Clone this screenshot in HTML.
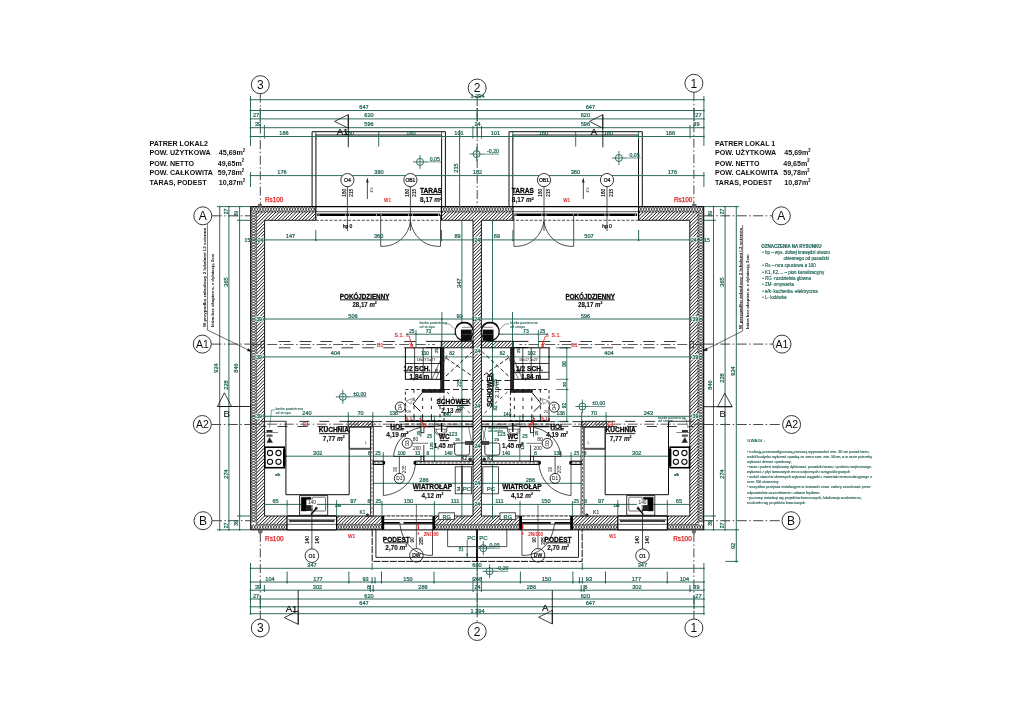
<!DOCTYPE html>
<html><head><meta charset="utf-8"><title>Rzut parteru</title>
<style>
html,body{margin:0;padding:0;background:#fff;}
body{width:1024px;height:716px;overflow:hidden;font-family:"Liberation Sans",sans-serif;}
svg{display:block;}
svg text{font-family:"Liberation Sans",sans-serif;}
</style></head><body>
<svg width="1024" height="716" viewBox="0 0 1024 716">
<defs>
<pattern id="mas" width="3.4" height="3.4" patternUnits="userSpaceOnUse">
<rect width="3.4" height="3.4" fill="#fff"/>
<path d="M-0.85,0.85 L0.85,-0.85 M0,3.4 L3.4,0 M2.55,4.25 L4.25,2.55" stroke="#000" stroke-width="1.25"/>
</pattern>
<pattern id="ins" width="2.7" height="2.7" patternUnits="userSpaceOnUse" patternTransform="translate(250.7 206.6)">
<rect width="2.7" height="2.7" fill="#000"/>
<path d="M1.35,0.2 L2.5,1.35 L1.35,2.5 L0.2,1.35 Z" fill="#fff"/>
</pattern>
<filter id="soft" x="0" y="0" width="1024" height="716" filterUnits="userSpaceOnUse"><feGaussianBlur stdDeviation="0.38"/></filter>
</defs>
<g filter="url(#soft)">
<clipPath id="cins"><path d="M250.7,206.6 H703.7 V529.8 H250.7 Z M256.4,212.0 V524.4 H698.0 V212.0 Z" clip-rule="evenodd"/></clipPath>
<path clip-path="url(#cins)" d="M250.70,206.6L253.40,212.0M253.40,206.6L250.70,212.0M253.40,206.6L256.10,212.0M256.10,206.6L253.40,212.0M256.10,206.6L258.80,212.0M258.80,206.6L256.10,212.0M258.80,206.6L261.50,212.0M261.50,206.6L258.80,212.0M261.50,206.6L264.20,212.0M264.20,206.6L261.50,212.0M264.20,206.6L266.90,212.0M266.90,206.6L264.20,212.0M266.90,206.6L269.60,212.0M269.60,206.6L266.90,212.0M269.60,206.6L272.30,212.0M272.30,206.6L269.60,212.0M272.30,206.6L275.00,212.0M275.00,206.6L272.30,212.0M275.00,206.6L277.70,212.0M277.70,206.6L275.00,212.0M277.70,206.6L280.40,212.0M280.40,206.6L277.70,212.0M280.40,206.6L283.10,212.0M283.10,206.6L280.40,212.0M283.10,206.6L285.80,212.0M285.80,206.6L283.10,212.0M285.80,206.6L288.50,212.0M288.50,206.6L285.80,212.0M288.50,206.6L291.20,212.0M291.20,206.6L288.50,212.0M291.20,206.6L293.90,212.0M293.90,206.6L291.20,212.0M293.90,206.6L296.60,212.0M296.60,206.6L293.90,212.0M296.60,206.6L299.30,212.0M299.30,206.6L296.60,212.0M299.30,206.6L302.00,212.0M302.00,206.6L299.30,212.0M302.00,206.6L304.70,212.0M304.70,206.6L302.00,212.0M304.70,206.6L307.40,212.0M307.40,206.6L304.70,212.0M307.40,206.6L310.10,212.0M310.10,206.6L307.40,212.0M310.10,206.6L312.80,212.0M312.80,206.6L310.10,212.0M312.80,206.6L315.50,212.0M315.50,206.6L312.80,212.0M315.50,206.6L318.20,212.0M318.20,206.6L315.50,212.0M318.20,206.6L320.90,212.0M320.90,206.6L318.20,212.0M320.90,206.6L323.60,212.0M323.60,206.6L320.90,212.0M323.60,206.6L326.30,212.0M326.30,206.6L323.60,212.0M326.30,206.6L329.00,212.0M329.00,206.6L326.30,212.0M329.00,206.6L331.70,212.0M331.70,206.6L329.00,212.0M331.70,206.6L334.40,212.0M334.40,206.6L331.70,212.0M334.40,206.6L337.10,212.0M337.10,206.6L334.40,212.0M337.10,206.6L339.80,212.0M339.80,206.6L337.10,212.0M339.80,206.6L342.50,212.0M342.50,206.6L339.80,212.0M342.50,206.6L345.20,212.0M345.20,206.6L342.50,212.0M345.20,206.6L347.90,212.0M347.90,206.6L345.20,212.0M347.90,206.6L350.60,212.0M350.60,206.6L347.90,212.0M350.60,206.6L353.30,212.0M353.30,206.6L350.60,212.0M353.30,206.6L356.00,212.0M356.00,206.6L353.30,212.0M356.00,206.6L358.70,212.0M358.70,206.6L356.00,212.0M358.70,206.6L361.40,212.0M361.40,206.6L358.70,212.0M361.40,206.6L364.10,212.0M364.10,206.6L361.40,212.0M364.10,206.6L366.80,212.0M366.80,206.6L364.10,212.0M366.80,206.6L369.50,212.0M369.50,206.6L366.80,212.0M369.50,206.6L372.20,212.0M372.20,206.6L369.50,212.0M372.20,206.6L374.90,212.0M374.90,206.6L372.20,212.0M374.90,206.6L377.60,212.0M377.60,206.6L374.90,212.0M377.60,206.6L380.30,212.0M380.30,206.6L377.60,212.0M380.30,206.6L383.00,212.0M383.00,206.6L380.30,212.0M383.00,206.6L385.70,212.0M385.70,206.6L383.00,212.0M385.70,206.6L388.40,212.0M388.40,206.6L385.70,212.0M388.40,206.6L391.10,212.0M391.10,206.6L388.40,212.0M391.10,206.6L393.80,212.0M393.80,206.6L391.10,212.0M393.80,206.6L396.50,212.0M396.50,206.6L393.80,212.0M396.50,206.6L399.20,212.0M399.20,206.6L396.50,212.0M399.20,206.6L401.90,212.0M401.90,206.6L399.20,212.0M401.90,206.6L404.60,212.0M404.60,206.6L401.90,212.0M404.60,206.6L407.30,212.0M407.30,206.6L404.60,212.0M407.30,206.6L410.00,212.0M410.00,206.6L407.30,212.0M410.00,206.6L412.70,212.0M412.70,206.6L410.00,212.0M412.70,206.6L415.40,212.0M415.40,206.6L412.70,212.0M415.40,206.6L418.10,212.0M418.10,206.6L415.40,212.0M418.10,206.6L420.80,212.0M420.80,206.6L418.10,212.0M420.80,206.6L423.50,212.0M423.50,206.6L420.80,212.0M423.50,206.6L426.20,212.0M426.20,206.6L423.50,212.0M426.20,206.6L428.90,212.0M428.90,206.6L426.20,212.0M428.90,206.6L431.60,212.0M431.60,206.6L428.90,212.0M431.60,206.6L434.30,212.0M434.30,206.6L431.60,212.0M434.30,206.6L437.00,212.0M437.00,206.6L434.30,212.0M437.00,206.6L439.70,212.0M439.70,206.6L437.00,212.0M439.70,206.6L442.40,212.0M442.40,206.6L439.70,212.0M442.40,206.6L445.10,212.0M445.10,206.6L442.40,212.0M445.10,206.6L447.80,212.0M447.80,206.6L445.10,212.0M447.80,206.6L450.50,212.0M450.50,206.6L447.80,212.0M450.50,206.6L453.20,212.0M453.20,206.6L450.50,212.0M453.20,206.6L455.90,212.0M455.90,206.6L453.20,212.0M455.90,206.6L458.60,212.0M458.60,206.6L455.90,212.0M458.60,206.6L461.30,212.0M461.30,206.6L458.60,212.0M461.30,206.6L464.00,212.0M464.00,206.6L461.30,212.0M464.00,206.6L466.70,212.0M466.70,206.6L464.00,212.0M466.70,206.6L469.40,212.0M469.40,206.6L466.70,212.0M469.40,206.6L472.10,212.0M472.10,206.6L469.40,212.0M472.10,206.6L474.80,212.0M474.80,206.6L472.10,212.0M474.80,206.6L477.50,212.0M477.50,206.6L474.80,212.0M477.50,206.6L480.20,212.0M480.20,206.6L477.50,212.0M480.20,206.6L482.90,212.0M482.90,206.6L480.20,212.0M482.90,206.6L485.60,212.0M485.60,206.6L482.90,212.0M485.60,206.6L488.30,212.0M488.30,206.6L485.60,212.0M488.30,206.6L491.00,212.0M491.00,206.6L488.30,212.0M491.00,206.6L493.70,212.0M493.70,206.6L491.00,212.0M493.70,206.6L496.40,212.0M496.40,206.6L493.70,212.0M496.40,206.6L499.10,212.0M499.10,206.6L496.40,212.0M499.10,206.6L501.80,212.0M501.80,206.6L499.10,212.0M501.80,206.6L504.50,212.0M504.50,206.6L501.80,212.0M504.50,206.6L507.20,212.0M507.20,206.6L504.50,212.0M507.20,206.6L509.90,212.0M509.90,206.6L507.20,212.0M509.90,206.6L512.60,212.0M512.60,206.6L509.90,212.0M512.60,206.6L515.30,212.0M515.30,206.6L512.60,212.0M515.30,206.6L518.00,212.0M518.00,206.6L515.30,212.0M518.00,206.6L520.70,212.0M520.70,206.6L518.00,212.0M520.70,206.6L523.40,212.0M523.40,206.6L520.70,212.0M523.40,206.6L526.10,212.0M526.10,206.6L523.40,212.0M526.10,206.6L528.80,212.0M528.80,206.6L526.10,212.0M528.80,206.6L531.50,212.0M531.50,206.6L528.80,212.0M531.50,206.6L534.20,212.0M534.20,206.6L531.50,212.0M534.20,206.6L536.90,212.0M536.90,206.6L534.20,212.0M536.90,206.6L539.60,212.0M539.60,206.6L536.90,212.0M539.60,206.6L542.30,212.0M542.30,206.6L539.60,212.0M542.30,206.6L545.00,212.0M545.00,206.6L542.30,212.0M545.00,206.6L547.70,212.0M547.70,206.6L545.00,212.0M547.70,206.6L550.40,212.0M550.40,206.6L547.70,212.0M550.40,206.6L553.10,212.0M553.10,206.6L550.40,212.0M553.10,206.6L555.80,212.0M555.80,206.6L553.10,212.0M555.80,206.6L558.50,212.0M558.50,206.6L555.80,212.0M558.50,206.6L561.20,212.0M561.20,206.6L558.50,212.0M561.20,206.6L563.90,212.0M563.90,206.6L561.20,212.0M563.90,206.6L566.60,212.0M566.60,206.6L563.90,212.0M566.60,206.6L569.30,212.0M569.30,206.6L566.60,212.0M569.30,206.6L572.00,212.0M572.00,206.6L569.30,212.0M572.00,206.6L574.70,212.0M574.70,206.6L572.00,212.0M574.70,206.6L577.40,212.0M577.40,206.6L574.70,212.0M577.40,206.6L580.10,212.0M580.10,206.6L577.40,212.0M580.10,206.6L582.80,212.0M582.80,206.6L580.10,212.0M582.80,206.6L585.50,212.0M585.50,206.6L582.80,212.0M585.50,206.6L588.20,212.0M588.20,206.6L585.50,212.0M588.20,206.6L590.90,212.0M590.90,206.6L588.20,212.0M590.90,206.6L593.60,212.0M593.60,206.6L590.90,212.0M593.60,206.6L596.30,212.0M596.30,206.6L593.60,212.0M596.30,206.6L599.00,212.0M599.00,206.6L596.30,212.0M599.00,206.6L601.70,212.0M601.70,206.6L599.00,212.0M601.70,206.6L604.40,212.0M604.40,206.6L601.70,212.0M604.40,206.6L607.10,212.0M607.10,206.6L604.40,212.0M607.10,206.6L609.80,212.0M609.80,206.6L607.10,212.0M609.80,206.6L612.50,212.0M612.50,206.6L609.80,212.0M612.50,206.6L615.20,212.0M615.20,206.6L612.50,212.0M615.20,206.6L617.90,212.0M617.90,206.6L615.20,212.0M617.90,206.6L620.60,212.0M620.60,206.6L617.90,212.0M620.60,206.6L623.30,212.0M623.30,206.6L620.60,212.0M623.30,206.6L626.00,212.0M626.00,206.6L623.30,212.0M626.00,206.6L628.70,212.0M628.70,206.6L626.00,212.0M628.70,206.6L631.40,212.0M631.40,206.6L628.70,212.0M631.40,206.6L634.10,212.0M634.10,206.6L631.40,212.0M634.10,206.6L636.80,212.0M636.80,206.6L634.10,212.0M636.80,206.6L639.50,212.0M639.50,206.6L636.80,212.0M639.50,206.6L642.20,212.0M642.20,206.6L639.50,212.0M642.20,206.6L644.90,212.0M644.90,206.6L642.20,212.0M644.90,206.6L647.60,212.0M647.60,206.6L644.90,212.0M647.60,206.6L650.30,212.0M650.30,206.6L647.60,212.0M650.30,206.6L653.00,212.0M653.00,206.6L650.30,212.0M653.00,206.6L655.70,212.0M655.70,206.6L653.00,212.0M655.70,206.6L658.40,212.0M658.40,206.6L655.70,212.0M658.40,206.6L661.10,212.0M661.10,206.6L658.40,212.0M661.10,206.6L663.80,212.0M663.80,206.6L661.10,212.0M663.80,206.6L666.50,212.0M666.50,206.6L663.80,212.0M666.50,206.6L669.20,212.0M669.20,206.6L666.50,212.0M669.20,206.6L671.90,212.0M671.90,206.6L669.20,212.0M671.90,206.6L674.60,212.0M674.60,206.6L671.90,212.0M674.60,206.6L677.30,212.0M677.30,206.6L674.60,212.0M677.30,206.6L680.00,212.0M680.00,206.6L677.30,212.0M680.00,206.6L682.70,212.0M682.70,206.6L680.00,212.0M682.70,206.6L685.40,212.0M685.40,206.6L682.70,212.0M685.40,206.6L688.10,212.0M688.10,206.6L685.40,212.0M688.10,206.6L690.80,212.0M690.80,206.6L688.10,212.0M690.80,206.6L693.50,212.0M693.50,206.6L690.80,212.0M693.50,206.6L696.20,212.0M696.20,206.6L693.50,212.0M696.20,206.6L698.90,212.0M698.90,206.6L696.20,212.0M698.90,206.6L701.60,212.0M701.60,206.6L698.90,212.0M701.60,206.6L704.30,212.0M704.30,206.6L701.60,212.0M250.70,524.4L253.40,529.8M253.40,524.4L250.70,529.8M253.40,524.4L256.10,529.8M256.10,524.4L253.40,529.8M256.10,524.4L258.80,529.8M258.80,524.4L256.10,529.8M258.80,524.4L261.50,529.8M261.50,524.4L258.80,529.8M261.50,524.4L264.20,529.8M264.20,524.4L261.50,529.8M264.20,524.4L266.90,529.8M266.90,524.4L264.20,529.8M266.90,524.4L269.60,529.8M269.60,524.4L266.90,529.8M269.60,524.4L272.30,529.8M272.30,524.4L269.60,529.8M272.30,524.4L275.00,529.8M275.00,524.4L272.30,529.8M275.00,524.4L277.70,529.8M277.70,524.4L275.00,529.8M277.70,524.4L280.40,529.8M280.40,524.4L277.70,529.8M280.40,524.4L283.10,529.8M283.10,524.4L280.40,529.8M283.10,524.4L285.80,529.8M285.80,524.4L283.10,529.8M285.80,524.4L288.50,529.8M288.50,524.4L285.80,529.8M288.50,524.4L291.20,529.8M291.20,524.4L288.50,529.8M291.20,524.4L293.90,529.8M293.90,524.4L291.20,529.8M293.90,524.4L296.60,529.8M296.60,524.4L293.90,529.8M296.60,524.4L299.30,529.8M299.30,524.4L296.60,529.8M299.30,524.4L302.00,529.8M302.00,524.4L299.30,529.8M302.00,524.4L304.70,529.8M304.70,524.4L302.00,529.8M304.70,524.4L307.40,529.8M307.40,524.4L304.70,529.8M307.40,524.4L310.10,529.8M310.10,524.4L307.40,529.8M310.10,524.4L312.80,529.8M312.80,524.4L310.10,529.8M312.80,524.4L315.50,529.8M315.50,524.4L312.80,529.8M315.50,524.4L318.20,529.8M318.20,524.4L315.50,529.8M318.20,524.4L320.90,529.8M320.90,524.4L318.20,529.8M320.90,524.4L323.60,529.8M323.60,524.4L320.90,529.8M323.60,524.4L326.30,529.8M326.30,524.4L323.60,529.8M326.30,524.4L329.00,529.8M329.00,524.4L326.30,529.8M329.00,524.4L331.70,529.8M331.70,524.4L329.00,529.8M331.70,524.4L334.40,529.8M334.40,524.4L331.70,529.8M334.40,524.4L337.10,529.8M337.10,524.4L334.40,529.8M337.10,524.4L339.80,529.8M339.80,524.4L337.10,529.8M339.80,524.4L342.50,529.8M342.50,524.4L339.80,529.8M342.50,524.4L345.20,529.8M345.20,524.4L342.50,529.8M345.20,524.4L347.90,529.8M347.90,524.4L345.20,529.8M347.90,524.4L350.60,529.8M350.60,524.4L347.90,529.8M350.60,524.4L353.30,529.8M353.30,524.4L350.60,529.8M353.30,524.4L356.00,529.8M356.00,524.4L353.30,529.8M356.00,524.4L358.70,529.8M358.70,524.4L356.00,529.8M358.70,524.4L361.40,529.8M361.40,524.4L358.70,529.8M361.40,524.4L364.10,529.8M364.10,524.4L361.40,529.8M364.10,524.4L366.80,529.8M366.80,524.4L364.10,529.8M366.80,524.4L369.50,529.8M369.50,524.4L366.80,529.8M369.50,524.4L372.20,529.8M372.20,524.4L369.50,529.8M372.20,524.4L374.90,529.8M374.90,524.4L372.20,529.8M374.90,524.4L377.60,529.8M377.60,524.4L374.90,529.8M377.60,524.4L380.30,529.8M380.30,524.4L377.60,529.8M380.30,524.4L383.00,529.8M383.00,524.4L380.30,529.8M383.00,524.4L385.70,529.8M385.70,524.4L383.00,529.8M385.70,524.4L388.40,529.8M388.40,524.4L385.70,529.8M388.40,524.4L391.10,529.8M391.10,524.4L388.40,529.8M391.10,524.4L393.80,529.8M393.80,524.4L391.10,529.8M393.80,524.4L396.50,529.8M396.50,524.4L393.80,529.8M396.50,524.4L399.20,529.8M399.20,524.4L396.50,529.8M399.20,524.4L401.90,529.8M401.90,524.4L399.20,529.8M401.90,524.4L404.60,529.8M404.60,524.4L401.90,529.8M404.60,524.4L407.30,529.8M407.30,524.4L404.60,529.8M407.30,524.4L410.00,529.8M410.00,524.4L407.30,529.8M410.00,524.4L412.70,529.8M412.70,524.4L410.00,529.8M412.70,524.4L415.40,529.8M415.40,524.4L412.70,529.8M415.40,524.4L418.10,529.8M418.10,524.4L415.40,529.8M418.10,524.4L420.80,529.8M420.80,524.4L418.10,529.8M420.80,524.4L423.50,529.8M423.50,524.4L420.80,529.8M423.50,524.4L426.20,529.8M426.20,524.4L423.50,529.8M426.20,524.4L428.90,529.8M428.90,524.4L426.20,529.8M428.90,524.4L431.60,529.8M431.60,524.4L428.90,529.8M431.60,524.4L434.30,529.8M434.30,524.4L431.60,529.8M434.30,524.4L437.00,529.8M437.00,524.4L434.30,529.8M437.00,524.4L439.70,529.8M439.70,524.4L437.00,529.8M439.70,524.4L442.40,529.8M442.40,524.4L439.70,529.8M442.40,524.4L445.10,529.8M445.10,524.4L442.40,529.8M445.10,524.4L447.80,529.8M447.80,524.4L445.10,529.8M447.80,524.4L450.50,529.8M450.50,524.4L447.80,529.8M450.50,524.4L453.20,529.8M453.20,524.4L450.50,529.8M453.20,524.4L455.90,529.8M455.90,524.4L453.20,529.8M455.90,524.4L458.60,529.8M458.60,524.4L455.90,529.8M458.60,524.4L461.30,529.8M461.30,524.4L458.60,529.8M461.30,524.4L464.00,529.8M464.00,524.4L461.30,529.8M464.00,524.4L466.70,529.8M466.70,524.4L464.00,529.8M466.70,524.4L469.40,529.8M469.40,524.4L466.70,529.8M469.40,524.4L472.10,529.8M472.10,524.4L469.40,529.8M472.10,524.4L474.80,529.8M474.80,524.4L472.10,529.8M474.80,524.4L477.50,529.8M477.50,524.4L474.80,529.8M477.50,524.4L480.20,529.8M480.20,524.4L477.50,529.8M480.20,524.4L482.90,529.8M482.90,524.4L480.20,529.8M482.90,524.4L485.60,529.8M485.60,524.4L482.90,529.8M485.60,524.4L488.30,529.8M488.30,524.4L485.60,529.8M488.30,524.4L491.00,529.8M491.00,524.4L488.30,529.8M491.00,524.4L493.70,529.8M493.70,524.4L491.00,529.8M493.70,524.4L496.40,529.8M496.40,524.4L493.70,529.8M496.40,524.4L499.10,529.8M499.10,524.4L496.40,529.8M499.10,524.4L501.80,529.8M501.80,524.4L499.10,529.8M501.80,524.4L504.50,529.8M504.50,524.4L501.80,529.8M504.50,524.4L507.20,529.8M507.20,524.4L504.50,529.8M507.20,524.4L509.90,529.8M509.90,524.4L507.20,529.8M509.90,524.4L512.60,529.8M512.60,524.4L509.90,529.8M512.60,524.4L515.30,529.8M515.30,524.4L512.60,529.8M515.30,524.4L518.00,529.8M518.00,524.4L515.30,529.8M518.00,524.4L520.70,529.8M520.70,524.4L518.00,529.8M520.70,524.4L523.40,529.8M523.40,524.4L520.70,529.8M523.40,524.4L526.10,529.8M526.10,524.4L523.40,529.8M526.10,524.4L528.80,529.8M528.80,524.4L526.10,529.8M528.80,524.4L531.50,529.8M531.50,524.4L528.80,529.8M531.50,524.4L534.20,529.8M534.20,524.4L531.50,529.8M534.20,524.4L536.90,529.8M536.90,524.4L534.20,529.8M536.90,524.4L539.60,529.8M539.60,524.4L536.90,529.8M539.60,524.4L542.30,529.8M542.30,524.4L539.60,529.8M542.30,524.4L545.00,529.8M545.00,524.4L542.30,529.8M545.00,524.4L547.70,529.8M547.70,524.4L545.00,529.8M547.70,524.4L550.40,529.8M550.40,524.4L547.70,529.8M550.40,524.4L553.10,529.8M553.10,524.4L550.40,529.8M553.10,524.4L555.80,529.8M555.80,524.4L553.10,529.8M555.80,524.4L558.50,529.8M558.50,524.4L555.80,529.8M558.50,524.4L561.20,529.8M561.20,524.4L558.50,529.8M561.20,524.4L563.90,529.8M563.90,524.4L561.20,529.8M563.90,524.4L566.60,529.8M566.60,524.4L563.90,529.8M566.60,524.4L569.30,529.8M569.30,524.4L566.60,529.8M569.30,524.4L572.00,529.8M572.00,524.4L569.30,529.8M572.00,524.4L574.70,529.8M574.70,524.4L572.00,529.8M574.70,524.4L577.40,529.8M577.40,524.4L574.70,529.8M577.40,524.4L580.10,529.8M580.10,524.4L577.40,529.8M580.10,524.4L582.80,529.8M582.80,524.4L580.10,529.8M582.80,524.4L585.50,529.8M585.50,524.4L582.80,529.8M585.50,524.4L588.20,529.8M588.20,524.4L585.50,529.8M588.20,524.4L590.90,529.8M590.90,524.4L588.20,529.8M590.90,524.4L593.60,529.8M593.60,524.4L590.90,529.8M593.60,524.4L596.30,529.8M596.30,524.4L593.60,529.8M596.30,524.4L599.00,529.8M599.00,524.4L596.30,529.8M599.00,524.4L601.70,529.8M601.70,524.4L599.00,529.8M601.70,524.4L604.40,529.8M604.40,524.4L601.70,529.8M604.40,524.4L607.10,529.8M607.10,524.4L604.40,529.8M607.10,524.4L609.80,529.8M609.80,524.4L607.10,529.8M609.80,524.4L612.50,529.8M612.50,524.4L609.80,529.8M612.50,524.4L615.20,529.8M615.20,524.4L612.50,529.8M615.20,524.4L617.90,529.8M617.90,524.4L615.20,529.8M617.90,524.4L620.60,529.8M620.60,524.4L617.90,529.8M620.60,524.4L623.30,529.8M623.30,524.4L620.60,529.8M623.30,524.4L626.00,529.8M626.00,524.4L623.30,529.8M626.00,524.4L628.70,529.8M628.70,524.4L626.00,529.8M628.70,524.4L631.40,529.8M631.40,524.4L628.70,529.8M631.40,524.4L634.10,529.8M634.10,524.4L631.40,529.8M634.10,524.4L636.80,529.8M636.80,524.4L634.10,529.8M636.80,524.4L639.50,529.8M639.50,524.4L636.80,529.8M639.50,524.4L642.20,529.8M642.20,524.4L639.50,529.8M642.20,524.4L644.90,529.8M644.90,524.4L642.20,529.8M644.90,524.4L647.60,529.8M647.60,524.4L644.90,529.8M647.60,524.4L650.30,529.8M650.30,524.4L647.60,529.8M650.30,524.4L653.00,529.8M653.00,524.4L650.30,529.8M653.00,524.4L655.70,529.8M655.70,524.4L653.00,529.8M655.70,524.4L658.40,529.8M658.40,524.4L655.70,529.8M658.40,524.4L661.10,529.8M661.10,524.4L658.40,529.8M661.10,524.4L663.80,529.8M663.80,524.4L661.10,529.8M663.80,524.4L666.50,529.8M666.50,524.4L663.80,529.8M666.50,524.4L669.20,529.8M669.20,524.4L666.50,529.8M669.20,524.4L671.90,529.8M671.90,524.4L669.20,529.8M671.90,524.4L674.60,529.8M674.60,524.4L671.90,529.8M674.60,524.4L677.30,529.8M677.30,524.4L674.60,529.8M677.30,524.4L680.00,529.8M680.00,524.4L677.30,529.8M680.00,524.4L682.70,529.8M682.70,524.4L680.00,529.8M682.70,524.4L685.40,529.8M685.40,524.4L682.70,529.8M685.40,524.4L688.10,529.8M688.10,524.4L685.40,529.8M688.10,524.4L690.80,529.8M690.80,524.4L688.10,529.8M690.80,524.4L693.50,529.8M693.50,524.4L690.80,529.8M693.50,524.4L696.20,529.8M696.20,524.4L693.50,529.8M696.20,524.4L698.90,529.8M698.90,524.4L696.20,529.8M698.90,524.4L701.60,529.8M701.60,524.4L698.90,529.8M701.60,524.4L704.30,529.8M704.30,524.4L701.60,529.8M250.7,212.00L256.4,214.70M250.7,214.70L256.4,212.00M250.7,214.70L256.4,217.40M250.7,217.40L256.4,214.70M250.7,217.40L256.4,220.10M250.7,220.10L256.4,217.40M250.7,220.10L256.4,222.80M250.7,222.80L256.4,220.10M250.7,222.80L256.4,225.50M250.7,225.50L256.4,222.80M250.7,225.50L256.4,228.20M250.7,228.20L256.4,225.50M250.7,228.20L256.4,230.90M250.7,230.90L256.4,228.20M250.7,230.90L256.4,233.60M250.7,233.60L256.4,230.90M250.7,233.60L256.4,236.30M250.7,236.30L256.4,233.60M250.7,236.30L256.4,239.00M250.7,239.00L256.4,236.30M250.7,239.00L256.4,241.70M250.7,241.70L256.4,239.00M250.7,241.70L256.4,244.40M250.7,244.40L256.4,241.70M250.7,244.40L256.4,247.10M250.7,247.10L256.4,244.40M250.7,247.10L256.4,249.80M250.7,249.80L256.4,247.10M250.7,249.80L256.4,252.50M250.7,252.50L256.4,249.80M250.7,252.50L256.4,255.20M250.7,255.20L256.4,252.50M250.7,255.20L256.4,257.90M250.7,257.90L256.4,255.20M250.7,257.90L256.4,260.60M250.7,260.60L256.4,257.90M250.7,260.60L256.4,263.30M250.7,263.30L256.4,260.60M250.7,263.30L256.4,266.00M250.7,266.00L256.4,263.30M250.7,266.00L256.4,268.70M250.7,268.70L256.4,266.00M250.7,268.70L256.4,271.40M250.7,271.40L256.4,268.70M250.7,271.40L256.4,274.10M250.7,274.10L256.4,271.40M250.7,274.10L256.4,276.80M250.7,276.80L256.4,274.10M250.7,276.80L256.4,279.50M250.7,279.50L256.4,276.80M250.7,279.50L256.4,282.20M250.7,282.20L256.4,279.50M250.7,282.20L256.4,284.90M250.7,284.90L256.4,282.20M250.7,284.90L256.4,287.60M250.7,287.60L256.4,284.90M250.7,287.60L256.4,290.30M250.7,290.30L256.4,287.60M250.7,290.30L256.4,293.00M250.7,293.00L256.4,290.30M250.7,293.00L256.4,295.70M250.7,295.70L256.4,293.00M250.7,295.70L256.4,298.40M250.7,298.40L256.4,295.70M250.7,298.40L256.4,301.10M250.7,301.10L256.4,298.40M250.7,301.10L256.4,303.80M250.7,303.80L256.4,301.10M250.7,303.80L256.4,306.50M250.7,306.50L256.4,303.80M250.7,306.50L256.4,309.20M250.7,309.20L256.4,306.50M250.7,309.20L256.4,311.90M250.7,311.90L256.4,309.20M250.7,311.90L256.4,314.60M250.7,314.60L256.4,311.90M250.7,314.60L256.4,317.30M250.7,317.30L256.4,314.60M250.7,317.30L256.4,320.00M250.7,320.00L256.4,317.30M250.7,320.00L256.4,322.70M250.7,322.70L256.4,320.00M250.7,322.70L256.4,325.40M250.7,325.40L256.4,322.70M250.7,325.40L256.4,328.10M250.7,328.10L256.4,325.40M250.7,328.10L256.4,330.80M250.7,330.80L256.4,328.10M250.7,330.80L256.4,333.50M250.7,333.50L256.4,330.80M250.7,333.50L256.4,336.20M250.7,336.20L256.4,333.50M250.7,336.20L256.4,338.90M250.7,338.90L256.4,336.20M250.7,338.90L256.4,341.60M250.7,341.60L256.4,338.90M250.7,341.60L256.4,344.30M250.7,344.30L256.4,341.60M250.7,344.30L256.4,347.00M250.7,347.00L256.4,344.30M250.7,347.00L256.4,349.70M250.7,349.70L256.4,347.00M250.7,349.70L256.4,352.40M250.7,352.40L256.4,349.70M250.7,352.40L256.4,355.10M250.7,355.10L256.4,352.40M250.7,355.10L256.4,357.80M250.7,357.80L256.4,355.10M250.7,357.80L256.4,360.50M250.7,360.50L256.4,357.80M250.7,360.50L256.4,363.20M250.7,363.20L256.4,360.50M250.7,363.20L256.4,365.90M250.7,365.90L256.4,363.20M250.7,365.90L256.4,368.60M250.7,368.60L256.4,365.90M250.7,368.60L256.4,371.30M250.7,371.30L256.4,368.60M250.7,371.30L256.4,374.00M250.7,374.00L256.4,371.30M250.7,374.00L256.4,376.70M250.7,376.70L256.4,374.00M250.7,376.70L256.4,379.40M250.7,379.40L256.4,376.70M250.7,379.40L256.4,382.10M250.7,382.10L256.4,379.40M250.7,382.10L256.4,384.80M250.7,384.80L256.4,382.10M250.7,384.80L256.4,387.50M250.7,387.50L256.4,384.80M250.7,387.50L256.4,390.20M250.7,390.20L256.4,387.50M250.7,390.20L256.4,392.90M250.7,392.90L256.4,390.20M250.7,392.90L256.4,395.60M250.7,395.60L256.4,392.90M250.7,395.60L256.4,398.30M250.7,398.30L256.4,395.60M250.7,398.30L256.4,401.00M250.7,401.00L256.4,398.30M250.7,401.00L256.4,403.70M250.7,403.70L256.4,401.00M250.7,403.70L256.4,406.40M250.7,406.40L256.4,403.70M250.7,406.40L256.4,409.10M250.7,409.10L256.4,406.40M250.7,409.10L256.4,411.80M250.7,411.80L256.4,409.10M250.7,411.80L256.4,414.50M250.7,414.50L256.4,411.80M250.7,414.50L256.4,417.20M250.7,417.20L256.4,414.50M250.7,417.20L256.4,419.90M250.7,419.90L256.4,417.20M250.7,419.90L256.4,422.60M250.7,422.60L256.4,419.90M250.7,422.60L256.4,425.30M250.7,425.30L256.4,422.60M250.7,425.30L256.4,428.00M250.7,428.00L256.4,425.30M250.7,428.00L256.4,430.70M250.7,430.70L256.4,428.00M250.7,430.70L256.4,433.40M250.7,433.40L256.4,430.70M250.7,433.40L256.4,436.10M250.7,436.10L256.4,433.40M250.7,436.10L256.4,438.80M250.7,438.80L256.4,436.10M250.7,438.80L256.4,441.50M250.7,441.50L256.4,438.80M250.7,441.50L256.4,444.20M250.7,444.20L256.4,441.50M250.7,444.20L256.4,446.90M250.7,446.90L256.4,444.20M250.7,446.90L256.4,449.60M250.7,449.60L256.4,446.90M250.7,449.60L256.4,452.30M250.7,452.30L256.4,449.60M250.7,452.30L256.4,455.00M250.7,455.00L256.4,452.30M250.7,455.00L256.4,457.70M250.7,457.70L256.4,455.00M250.7,457.70L256.4,460.40M250.7,460.40L256.4,457.70M250.7,460.40L256.4,463.10M250.7,463.10L256.4,460.40M250.7,463.10L256.4,465.80M250.7,465.80L256.4,463.10M250.7,465.80L256.4,468.50M250.7,468.50L256.4,465.80M250.7,468.50L256.4,471.20M250.7,471.20L256.4,468.50M250.7,471.20L256.4,473.90M250.7,473.90L256.4,471.20M250.7,473.90L256.4,476.60M250.7,476.60L256.4,473.90M250.7,476.60L256.4,479.30M250.7,479.30L256.4,476.60M250.7,479.30L256.4,482.00M250.7,482.00L256.4,479.30M250.7,482.00L256.4,484.70M250.7,484.70L256.4,482.00M250.7,484.70L256.4,487.40M250.7,487.40L256.4,484.70M250.7,487.40L256.4,490.10M250.7,490.10L256.4,487.40M250.7,490.10L256.4,492.80M250.7,492.80L256.4,490.10M250.7,492.80L256.4,495.50M250.7,495.50L256.4,492.80M250.7,495.50L256.4,498.20M250.7,498.20L256.4,495.50M250.7,498.20L256.4,500.90M250.7,500.90L256.4,498.20M250.7,500.90L256.4,503.60M250.7,503.60L256.4,500.90M250.7,503.60L256.4,506.30M250.7,506.30L256.4,503.60M250.7,506.30L256.4,509.00M250.7,509.00L256.4,506.30M250.7,509.00L256.4,511.70M250.7,511.70L256.4,509.00M250.7,511.70L256.4,514.40M250.7,514.40L256.4,511.70M250.7,514.40L256.4,517.10M250.7,517.10L256.4,514.40M250.7,517.10L256.4,519.80M250.7,519.80L256.4,517.10M250.7,519.80L256.4,522.50M250.7,522.50L256.4,519.80M698.0,212.00L703.7,214.70M698.0,214.70L703.7,212.00M698.0,214.70L703.7,217.40M698.0,217.40L703.7,214.70M698.0,217.40L703.7,220.10M698.0,220.10L703.7,217.40M698.0,220.10L703.7,222.80M698.0,222.80L703.7,220.10M698.0,222.80L703.7,225.50M698.0,225.50L703.7,222.80M698.0,225.50L703.7,228.20M698.0,228.20L703.7,225.50M698.0,228.20L703.7,230.90M698.0,230.90L703.7,228.20M698.0,230.90L703.7,233.60M698.0,233.60L703.7,230.90M698.0,233.60L703.7,236.30M698.0,236.30L703.7,233.60M698.0,236.30L703.7,239.00M698.0,239.00L703.7,236.30M698.0,239.00L703.7,241.70M698.0,241.70L703.7,239.00M698.0,241.70L703.7,244.40M698.0,244.40L703.7,241.70M698.0,244.40L703.7,247.10M698.0,247.10L703.7,244.40M698.0,247.10L703.7,249.80M698.0,249.80L703.7,247.10M698.0,249.80L703.7,252.50M698.0,252.50L703.7,249.80M698.0,252.50L703.7,255.20M698.0,255.20L703.7,252.50M698.0,255.20L703.7,257.90M698.0,257.90L703.7,255.20M698.0,257.90L703.7,260.60M698.0,260.60L703.7,257.90M698.0,260.60L703.7,263.30M698.0,263.30L703.7,260.60M698.0,263.30L703.7,266.00M698.0,266.00L703.7,263.30M698.0,266.00L703.7,268.70M698.0,268.70L703.7,266.00M698.0,268.70L703.7,271.40M698.0,271.40L703.7,268.70M698.0,271.40L703.7,274.10M698.0,274.10L703.7,271.40M698.0,274.10L703.7,276.80M698.0,276.80L703.7,274.10M698.0,276.80L703.7,279.50M698.0,279.50L703.7,276.80M698.0,279.50L703.7,282.20M698.0,282.20L703.7,279.50M698.0,282.20L703.7,284.90M698.0,284.90L703.7,282.20M698.0,284.90L703.7,287.60M698.0,287.60L703.7,284.90M698.0,287.60L703.7,290.30M698.0,290.30L703.7,287.60M698.0,290.30L703.7,293.00M698.0,293.00L703.7,290.30M698.0,293.00L703.7,295.70M698.0,295.70L703.7,293.00M698.0,295.70L703.7,298.40M698.0,298.40L703.7,295.70M698.0,298.40L703.7,301.10M698.0,301.10L703.7,298.40M698.0,301.10L703.7,303.80M698.0,303.80L703.7,301.10M698.0,303.80L703.7,306.50M698.0,306.50L703.7,303.80M698.0,306.50L703.7,309.20M698.0,309.20L703.7,306.50M698.0,309.20L703.7,311.90M698.0,311.90L703.7,309.20M698.0,311.90L703.7,314.60M698.0,314.60L703.7,311.90M698.0,314.60L703.7,317.30M698.0,317.30L703.7,314.60M698.0,317.30L703.7,320.00M698.0,320.00L703.7,317.30M698.0,320.00L703.7,322.70M698.0,322.70L703.7,320.00M698.0,322.70L703.7,325.40M698.0,325.40L703.7,322.70M698.0,325.40L703.7,328.10M698.0,328.10L703.7,325.40M698.0,328.10L703.7,330.80M698.0,330.80L703.7,328.10M698.0,330.80L703.7,333.50M698.0,333.50L703.7,330.80M698.0,333.50L703.7,336.20M698.0,336.20L703.7,333.50M698.0,336.20L703.7,338.90M698.0,338.90L703.7,336.20M698.0,338.90L703.7,341.60M698.0,341.60L703.7,338.90M698.0,341.60L703.7,344.30M698.0,344.30L703.7,341.60M698.0,344.30L703.7,347.00M698.0,347.00L703.7,344.30M698.0,347.00L703.7,349.70M698.0,349.70L703.7,347.00M698.0,349.70L703.7,352.40M698.0,352.40L703.7,349.70M698.0,352.40L703.7,355.10M698.0,355.10L703.7,352.40M698.0,355.10L703.7,357.80M698.0,357.80L703.7,355.10M698.0,357.80L703.7,360.50M698.0,360.50L703.7,357.80M698.0,360.50L703.7,363.20M698.0,363.20L703.7,360.50M698.0,363.20L703.7,365.90M698.0,365.90L703.7,363.20M698.0,365.90L703.7,368.60M698.0,368.60L703.7,365.90M698.0,368.60L703.7,371.30M698.0,371.30L703.7,368.60M698.0,371.30L703.7,374.00M698.0,374.00L703.7,371.30M698.0,374.00L703.7,376.70M698.0,376.70L703.7,374.00M698.0,376.70L703.7,379.40M698.0,379.40L703.7,376.70M698.0,379.40L703.7,382.10M698.0,382.10L703.7,379.40M698.0,382.10L703.7,384.80M698.0,384.80L703.7,382.10M698.0,384.80L703.7,387.50M698.0,387.50L703.7,384.80M698.0,387.50L703.7,390.20M698.0,390.20L703.7,387.50M698.0,390.20L703.7,392.90M698.0,392.90L703.7,390.20M698.0,392.90L703.7,395.60M698.0,395.60L703.7,392.90M698.0,395.60L703.7,398.30M698.0,398.30L703.7,395.60M698.0,398.30L703.7,401.00M698.0,401.00L703.7,398.30M698.0,401.00L703.7,403.70M698.0,403.70L703.7,401.00M698.0,403.70L703.7,406.40M698.0,406.40L703.7,403.70M698.0,406.40L703.7,409.10M698.0,409.10L703.7,406.40M698.0,409.10L703.7,411.80M698.0,411.80L703.7,409.10M698.0,411.80L703.7,414.50M698.0,414.50L703.7,411.80M698.0,414.50L703.7,417.20M698.0,417.20L703.7,414.50M698.0,417.20L703.7,419.90M698.0,419.90L703.7,417.20M698.0,419.90L703.7,422.60M698.0,422.60L703.7,419.90M698.0,422.60L703.7,425.30M698.0,425.30L703.7,422.60M698.0,425.30L703.7,428.00M698.0,428.00L703.7,425.30M698.0,428.00L703.7,430.70M698.0,430.70L703.7,428.00M698.0,430.70L703.7,433.40M698.0,433.40L703.7,430.70M698.0,433.40L703.7,436.10M698.0,436.10L703.7,433.40M698.0,436.10L703.7,438.80M698.0,438.80L703.7,436.10M698.0,438.80L703.7,441.50M698.0,441.50L703.7,438.80M698.0,441.50L703.7,444.20M698.0,444.20L703.7,441.50M698.0,444.20L703.7,446.90M698.0,446.90L703.7,444.20M698.0,446.90L703.7,449.60M698.0,449.60L703.7,446.90M698.0,449.60L703.7,452.30M698.0,452.30L703.7,449.60M698.0,452.30L703.7,455.00M698.0,455.00L703.7,452.30M698.0,455.00L703.7,457.70M698.0,457.70L703.7,455.00M698.0,457.70L703.7,460.40M698.0,460.40L703.7,457.70M698.0,460.40L703.7,463.10M698.0,463.10L703.7,460.40M698.0,463.10L703.7,465.80M698.0,465.80L703.7,463.10M698.0,465.80L703.7,468.50M698.0,468.50L703.7,465.80M698.0,468.50L703.7,471.20M698.0,471.20L703.7,468.50M698.0,471.20L703.7,473.90M698.0,473.90L703.7,471.20M698.0,473.90L703.7,476.60M698.0,476.60L703.7,473.90M698.0,476.60L703.7,479.30M698.0,479.30L703.7,476.60M698.0,479.30L703.7,482.00M698.0,482.00L703.7,479.30M698.0,482.00L703.7,484.70M698.0,484.70L703.7,482.00M698.0,484.70L703.7,487.40M698.0,487.40L703.7,484.70M698.0,487.40L703.7,490.10M698.0,490.10L703.7,487.40M698.0,490.10L703.7,492.80M698.0,492.80L703.7,490.10M698.0,492.80L703.7,495.50M698.0,495.50L703.7,492.80M698.0,495.50L703.7,498.20M698.0,498.20L703.7,495.50M698.0,498.20L703.7,500.90M698.0,500.90L703.7,498.20M698.0,500.90L703.7,503.60M698.0,503.60L703.7,500.90M698.0,503.60L703.7,506.30M698.0,506.30L703.7,503.60M698.0,506.30L703.7,509.00M698.0,509.00L703.7,506.30M698.0,509.00L703.7,511.70M698.0,511.70L703.7,509.00M698.0,511.70L703.7,514.40M698.0,514.40L703.7,511.70M698.0,514.40L703.7,517.10M698.0,517.10L703.7,514.40M698.0,517.10L703.7,519.80M698.0,519.80L703.7,517.10M698.0,519.80L703.7,522.50M698.0,522.50L703.7,519.80" stroke="#000" stroke-width="0.62" fill="none"/>
<clipPath id="cmas"><path d="M256.4,212.0 H698.0 V524.4 H256.4 Z M264.6,220.3 V516.0 H689.8 V220.3 Z" clip-rule="evenodd"/></clipPath>
<path clip-path="url(#cmas)" d="M-75.70,529.8L247.50,206.6M-72.30,529.8L250.90,206.6M-68.90,529.8L254.30,206.6M-65.50,529.8L257.70,206.6M-62.10,529.8L261.10,206.6M-58.70,529.8L264.50,206.6M-55.30,529.8L267.90,206.6M-51.90,529.8L271.30,206.6M-48.50,529.8L274.70,206.6M-45.10,529.8L278.10,206.6M-41.70,529.8L281.50,206.6M-38.30,529.8L284.90,206.6M-34.90,529.8L288.30,206.6M-31.50,529.8L291.70,206.6M-28.10,529.8L295.10,206.6M-24.70,529.8L298.50,206.6M-21.30,529.8L301.90,206.6M-17.90,529.8L305.30,206.6M-14.50,529.8L308.70,206.6M-11.10,529.8L312.10,206.6M-7.70,529.8L315.50,206.6M-4.30,529.8L318.90,206.6M-0.90,529.8L322.30,206.6M2.50,529.8L325.70,206.6M5.90,529.8L329.10,206.6M9.30,529.8L332.50,206.6M12.70,529.8L335.90,206.6M16.10,529.8L339.30,206.6M19.50,529.8L342.70,206.6M22.90,529.8L346.10,206.6M26.30,529.8L349.50,206.6M29.70,529.8L352.90,206.6M33.10,529.8L356.30,206.6M36.50,529.8L359.70,206.6M39.90,529.8L363.10,206.6M43.30,529.8L366.50,206.6M46.70,529.8L369.90,206.6M50.10,529.8L373.30,206.6M53.50,529.8L376.70,206.6M56.90,529.8L380.10,206.6M60.30,529.8L383.50,206.6M63.70,529.8L386.90,206.6M67.10,529.8L390.30,206.6M70.50,529.8L393.70,206.6M73.90,529.8L397.10,206.6M77.30,529.8L400.50,206.6M80.70,529.8L403.90,206.6M84.10,529.8L407.30,206.6M87.50,529.8L410.70,206.6M90.90,529.8L414.10,206.6M94.30,529.8L417.50,206.6M97.70,529.8L420.90,206.6M101.10,529.8L424.30,206.6M104.50,529.8L427.70,206.6M107.90,529.8L431.10,206.6M111.30,529.8L434.50,206.6M114.70,529.8L437.90,206.6M118.10,529.8L441.30,206.6M121.50,529.8L444.70,206.6M124.90,529.8L448.10,206.6M128.30,529.8L451.50,206.6M131.70,529.8L454.90,206.6M135.10,529.8L458.30,206.6M138.50,529.8L461.70,206.6M141.90,529.8L465.10,206.6M145.30,529.8L468.50,206.6M148.70,529.8L471.90,206.6M152.10,529.8L475.30,206.6M155.50,529.8L478.70,206.6M158.90,529.8L482.10,206.6M162.30,529.8L485.50,206.6M165.70,529.8L488.90,206.6M169.10,529.8L492.30,206.6M172.50,529.8L495.70,206.6M175.90,529.8L499.10,206.6M179.30,529.8L502.50,206.6M182.70,529.8L505.90,206.6M186.10,529.8L509.30,206.6M189.50,529.8L512.70,206.6M192.90,529.8L516.10,206.6M196.30,529.8L519.50,206.6M199.70,529.8L522.90,206.6M203.10,529.8L526.30,206.6M206.50,529.8L529.70,206.6M209.90,529.8L533.10,206.6M213.30,529.8L536.50,206.6M216.70,529.8L539.90,206.6M220.10,529.8L543.30,206.6M223.50,529.8L546.70,206.6M226.90,529.8L550.10,206.6M230.30,529.8L553.50,206.6M233.70,529.8L556.90,206.6M237.10,529.8L560.30,206.6M240.50,529.8L563.70,206.6M243.90,529.8L567.10,206.6M247.30,529.8L570.50,206.6M250.70,529.8L573.90,206.6M254.10,529.8L577.30,206.6M257.50,529.8L580.70,206.6M260.90,529.8L584.10,206.6M264.30,529.8L587.50,206.6M267.70,529.8L590.90,206.6M271.10,529.8L594.30,206.6M274.50,529.8L597.70,206.6M277.90,529.8L601.10,206.6M281.30,529.8L604.50,206.6M284.70,529.8L607.90,206.6M288.10,529.8L611.30,206.6M291.50,529.8L614.70,206.6M294.90,529.8L618.10,206.6M298.30,529.8L621.50,206.6M301.70,529.8L624.90,206.6M305.10,529.8L628.30,206.6M308.50,529.8L631.70,206.6M311.90,529.8L635.10,206.6M315.30,529.8L638.50,206.6M318.70,529.8L641.90,206.6M322.10,529.8L645.30,206.6M325.50,529.8L648.70,206.6M328.90,529.8L652.10,206.6M332.30,529.8L655.50,206.6M335.70,529.8L658.90,206.6M339.10,529.8L662.30,206.6M342.50,529.8L665.70,206.6M345.90,529.8L669.10,206.6M349.30,529.8L672.50,206.6M352.70,529.8L675.90,206.6M356.10,529.8L679.30,206.6M359.50,529.8L682.70,206.6M362.90,529.8L686.10,206.6M366.30,529.8L689.50,206.6M369.70,529.8L692.90,206.6M373.10,529.8L696.30,206.6M376.50,529.8L699.70,206.6M379.90,529.8L703.10,206.6M383.30,529.8L706.50,206.6M386.70,529.8L709.90,206.6M390.10,529.8L713.30,206.6M393.50,529.8L716.70,206.6M396.90,529.8L720.10,206.6M400.30,529.8L723.50,206.6M403.70,529.8L726.90,206.6M407.10,529.8L730.30,206.6M410.50,529.8L733.70,206.6M413.90,529.8L737.10,206.6M417.30,529.8L740.50,206.6M420.70,529.8L743.90,206.6M424.10,529.8L747.30,206.6M427.50,529.8L750.70,206.6M430.90,529.8L754.10,206.6M434.30,529.8L757.50,206.6M437.70,529.8L760.90,206.6M441.10,529.8L764.30,206.6M444.50,529.8L767.70,206.6M447.90,529.8L771.10,206.6M451.30,529.8L774.50,206.6M454.70,529.8L777.90,206.6M458.10,529.8L781.30,206.6M461.50,529.8L784.70,206.6M464.90,529.8L788.10,206.6M468.30,529.8L791.50,206.6M471.70,529.8L794.90,206.6M475.10,529.8L798.30,206.6M478.50,529.8L801.70,206.6M481.90,529.8L805.10,206.6M485.30,529.8L808.50,206.6M488.70,529.8L811.90,206.6M492.10,529.8L815.30,206.6M495.50,529.8L818.70,206.6M498.90,529.8L822.10,206.6M502.30,529.8L825.50,206.6M505.70,529.8L828.90,206.6M509.10,529.8L832.30,206.6M512.50,529.8L835.70,206.6M515.90,529.8L839.10,206.6M519.30,529.8L842.50,206.6M522.70,529.8L845.90,206.6M526.10,529.8L849.30,206.6M529.50,529.8L852.70,206.6M532.90,529.8L856.10,206.6M536.30,529.8L859.50,206.6M539.70,529.8L862.90,206.6M543.10,529.8L866.30,206.6M546.50,529.8L869.70,206.6M549.90,529.8L873.10,206.6M553.30,529.8L876.50,206.6M556.70,529.8L879.90,206.6M560.10,529.8L883.30,206.6M563.50,529.8L886.70,206.6M566.90,529.8L890.10,206.6M570.30,529.8L893.50,206.6M573.70,529.8L896.90,206.6M577.10,529.8L900.30,206.6M580.50,529.8L903.70,206.6M583.90,529.8L907.10,206.6M587.30,529.8L910.50,206.6M590.70,529.8L913.90,206.6M594.10,529.8L917.30,206.6M597.50,529.8L920.70,206.6M600.90,529.8L924.10,206.6M604.30,529.8L927.50,206.6M607.70,529.8L930.90,206.6M611.10,529.8L934.30,206.6M614.50,529.8L937.70,206.6M617.90,529.8L941.10,206.6M621.30,529.8L944.50,206.6M624.70,529.8L947.90,206.6M628.10,529.8L951.30,206.6M631.50,529.8L954.70,206.6M634.90,529.8L958.10,206.6M638.30,529.8L961.50,206.6M641.70,529.8L964.90,206.6M645.10,529.8L968.30,206.6M648.50,529.8L971.70,206.6M651.90,529.8L975.10,206.6M655.30,529.8L978.50,206.6M658.70,529.8L981.90,206.6M662.10,529.8L985.30,206.6M665.50,529.8L988.70,206.6M668.90,529.8L992.10,206.6M672.30,529.8L995.50,206.6M675.70,529.8L998.90,206.6M679.10,529.8L1002.30,206.6M682.50,529.8L1005.70,206.6M685.90,529.8L1009.10,206.6M689.30,529.8L1012.50,206.6M692.70,529.8L1015.90,206.6M696.10,529.8L1019.30,206.6M699.50,529.8L1022.70,206.6M702.90,529.8L1026.10,206.6" stroke="#000" stroke-width="0.92" fill="none"/>
<clipPath id="ccw"><rect x="473.0" y="219.8" width="8.399999999999977" height="296.7"/><rect x="441.2" y="341.3" width="32" height="6.5"/><rect x="481" y="341.3" width="32.2" height="6.5"/><rect x="348.1" y="421.3" width="24.6" height="5.6"/><rect x="581.7" y="421.3" width="24.6" height="5.6"/></clipPath>
<path clip-path="url(#ccw)" d="M-75.70,529.8L247.50,206.6M-72.30,529.8L250.90,206.6M-68.90,529.8L254.30,206.6M-65.50,529.8L257.70,206.6M-62.10,529.8L261.10,206.6M-58.70,529.8L264.50,206.6M-55.30,529.8L267.90,206.6M-51.90,529.8L271.30,206.6M-48.50,529.8L274.70,206.6M-45.10,529.8L278.10,206.6M-41.70,529.8L281.50,206.6M-38.30,529.8L284.90,206.6M-34.90,529.8L288.30,206.6M-31.50,529.8L291.70,206.6M-28.10,529.8L295.10,206.6M-24.70,529.8L298.50,206.6M-21.30,529.8L301.90,206.6M-17.90,529.8L305.30,206.6M-14.50,529.8L308.70,206.6M-11.10,529.8L312.10,206.6M-7.70,529.8L315.50,206.6M-4.30,529.8L318.90,206.6M-0.90,529.8L322.30,206.6M2.50,529.8L325.70,206.6M5.90,529.8L329.10,206.6M9.30,529.8L332.50,206.6M12.70,529.8L335.90,206.6M16.10,529.8L339.30,206.6M19.50,529.8L342.70,206.6M22.90,529.8L346.10,206.6M26.30,529.8L349.50,206.6M29.70,529.8L352.90,206.6M33.10,529.8L356.30,206.6M36.50,529.8L359.70,206.6M39.90,529.8L363.10,206.6M43.30,529.8L366.50,206.6M46.70,529.8L369.90,206.6M50.10,529.8L373.30,206.6M53.50,529.8L376.70,206.6M56.90,529.8L380.10,206.6M60.30,529.8L383.50,206.6M63.70,529.8L386.90,206.6M67.10,529.8L390.30,206.6M70.50,529.8L393.70,206.6M73.90,529.8L397.10,206.6M77.30,529.8L400.50,206.6M80.70,529.8L403.90,206.6M84.10,529.8L407.30,206.6M87.50,529.8L410.70,206.6M90.90,529.8L414.10,206.6M94.30,529.8L417.50,206.6M97.70,529.8L420.90,206.6M101.10,529.8L424.30,206.6M104.50,529.8L427.70,206.6M107.90,529.8L431.10,206.6M111.30,529.8L434.50,206.6M114.70,529.8L437.90,206.6M118.10,529.8L441.30,206.6M121.50,529.8L444.70,206.6M124.90,529.8L448.10,206.6M128.30,529.8L451.50,206.6M131.70,529.8L454.90,206.6M135.10,529.8L458.30,206.6M138.50,529.8L461.70,206.6M141.90,529.8L465.10,206.6M145.30,529.8L468.50,206.6M148.70,529.8L471.90,206.6M152.10,529.8L475.30,206.6M155.50,529.8L478.70,206.6M158.90,529.8L482.10,206.6M162.30,529.8L485.50,206.6M165.70,529.8L488.90,206.6M169.10,529.8L492.30,206.6M172.50,529.8L495.70,206.6M175.90,529.8L499.10,206.6M179.30,529.8L502.50,206.6M182.70,529.8L505.90,206.6M186.10,529.8L509.30,206.6M189.50,529.8L512.70,206.6M192.90,529.8L516.10,206.6M196.30,529.8L519.50,206.6M199.70,529.8L522.90,206.6M203.10,529.8L526.30,206.6M206.50,529.8L529.70,206.6M209.90,529.8L533.10,206.6M213.30,529.8L536.50,206.6M216.70,529.8L539.90,206.6M220.10,529.8L543.30,206.6M223.50,529.8L546.70,206.6M226.90,529.8L550.10,206.6M230.30,529.8L553.50,206.6M233.70,529.8L556.90,206.6M237.10,529.8L560.30,206.6M240.50,529.8L563.70,206.6M243.90,529.8L567.10,206.6M247.30,529.8L570.50,206.6M250.70,529.8L573.90,206.6M254.10,529.8L577.30,206.6M257.50,529.8L580.70,206.6M260.90,529.8L584.10,206.6M264.30,529.8L587.50,206.6M267.70,529.8L590.90,206.6M271.10,529.8L594.30,206.6M274.50,529.8L597.70,206.6M277.90,529.8L601.10,206.6M281.30,529.8L604.50,206.6M284.70,529.8L607.90,206.6M288.10,529.8L611.30,206.6M291.50,529.8L614.70,206.6M294.90,529.8L618.10,206.6M298.30,529.8L621.50,206.6M301.70,529.8L624.90,206.6M305.10,529.8L628.30,206.6M308.50,529.8L631.70,206.6M311.90,529.8L635.10,206.6M315.30,529.8L638.50,206.6M318.70,529.8L641.90,206.6M322.10,529.8L645.30,206.6M325.50,529.8L648.70,206.6M328.90,529.8L652.10,206.6M332.30,529.8L655.50,206.6M335.70,529.8L658.90,206.6M339.10,529.8L662.30,206.6M342.50,529.8L665.70,206.6M345.90,529.8L669.10,206.6M349.30,529.8L672.50,206.6M352.70,529.8L675.90,206.6M356.10,529.8L679.30,206.6M359.50,529.8L682.70,206.6M362.90,529.8L686.10,206.6M366.30,529.8L689.50,206.6M369.70,529.8L692.90,206.6M373.10,529.8L696.30,206.6M376.50,529.8L699.70,206.6M379.90,529.8L703.10,206.6M383.30,529.8L706.50,206.6M386.70,529.8L709.90,206.6M390.10,529.8L713.30,206.6M393.50,529.8L716.70,206.6M396.90,529.8L720.10,206.6M400.30,529.8L723.50,206.6M403.70,529.8L726.90,206.6M407.10,529.8L730.30,206.6M410.50,529.8L733.70,206.6M413.90,529.8L737.10,206.6M417.30,529.8L740.50,206.6M420.70,529.8L743.90,206.6M424.10,529.8L747.30,206.6M427.50,529.8L750.70,206.6M430.90,529.8L754.10,206.6M434.30,529.8L757.50,206.6M437.70,529.8L760.90,206.6M441.10,529.8L764.30,206.6M444.50,529.8L767.70,206.6M447.90,529.8L771.10,206.6M451.30,529.8L774.50,206.6M454.70,529.8L777.90,206.6M458.10,529.8L781.30,206.6M461.50,529.8L784.70,206.6M464.90,529.8L788.10,206.6M468.30,529.8L791.50,206.6M471.70,529.8L794.90,206.6M475.10,529.8L798.30,206.6M478.50,529.8L801.70,206.6M481.90,529.8L805.10,206.6M485.30,529.8L808.50,206.6M488.70,529.8L811.90,206.6M492.10,529.8L815.30,206.6M495.50,529.8L818.70,206.6M498.90,529.8L822.10,206.6M502.30,529.8L825.50,206.6M505.70,529.8L828.90,206.6M509.10,529.8L832.30,206.6M512.50,529.8L835.70,206.6M515.90,529.8L839.10,206.6M519.30,529.8L842.50,206.6M522.70,529.8L845.90,206.6M526.10,529.8L849.30,206.6M529.50,529.8L852.70,206.6M532.90,529.8L856.10,206.6M536.30,529.8L859.50,206.6M539.70,529.8L862.90,206.6M543.10,529.8L866.30,206.6M546.50,529.8L869.70,206.6M549.90,529.8L873.10,206.6M553.30,529.8L876.50,206.6M556.70,529.8L879.90,206.6M560.10,529.8L883.30,206.6M563.50,529.8L886.70,206.6M566.90,529.8L890.10,206.6M570.30,529.8L893.50,206.6M573.70,529.8L896.90,206.6M577.10,529.8L900.30,206.6M580.50,529.8L903.70,206.6M583.90,529.8L907.10,206.6M587.30,529.8L910.50,206.6M590.70,529.8L913.90,206.6M594.10,529.8L917.30,206.6M597.50,529.8L920.70,206.6M600.90,529.8L924.10,206.6M604.30,529.8L927.50,206.6M607.70,529.8L930.90,206.6M611.10,529.8L934.30,206.6M614.50,529.8L937.70,206.6M617.90,529.8L941.10,206.6M621.30,529.8L944.50,206.6M624.70,529.8L947.90,206.6M628.10,529.8L951.30,206.6M631.50,529.8L954.70,206.6M634.90,529.8L958.10,206.6M638.30,529.8L961.50,206.6M641.70,529.8L964.90,206.6M645.10,529.8L968.30,206.6M648.50,529.8L971.70,206.6M651.90,529.8L975.10,206.6M655.30,529.8L978.50,206.6M658.70,529.8L981.90,206.6M662.10,529.8L985.30,206.6M665.50,529.8L988.70,206.6M668.90,529.8L992.10,206.6M672.30,529.8L995.50,206.6M675.70,529.8L998.90,206.6M679.10,529.8L1002.30,206.6M682.50,529.8L1005.70,206.6M685.90,529.8L1009.10,206.6M689.30,529.8L1012.50,206.6M692.70,529.8L1015.90,206.6M696.10,529.8L1019.30,206.6M699.50,529.8L1022.70,206.6M702.90,529.8L1026.10,206.6" stroke="#000" stroke-width="0.92" fill="none"/>
<rect x="250.7" y="206.6" width="453.00000000000006" height="323.19999999999993" fill="none" stroke="#000" stroke-width="1.1"/>
<path d="M264.6,220.3 H473.0 V516.0 H264.6 Z" fill="none" stroke="#000" stroke-width="0.9"/>
<path d="M689.8,220.3 H481.4 V516.0 H689.8 Z" fill="none" stroke="#000" stroke-width="0.9"/>
<line x1="256.4" y1="212.0" x2="256.4" y2="524.4" stroke="#000" stroke-width="0.5"/>
<line x1="698.0" y1="212.0" x2="698.0" y2="524.4" stroke="#000" stroke-width="0.5"/>
<line x1="256.4" y1="212.0" x2="698.0" y2="212.0" stroke="#000" stroke-width="0.5"/>
<line x1="256.4" y1="524.4" x2="698.0" y2="524.4" stroke="#000" stroke-width="0.5"/>
<rect x="315.8" y="206.4" width="125.59999999999997" height="14.600000000000017" fill="#fff" stroke="none" stroke-width="0.8"/>
<rect x="513.0" y="206.4" width="125.59999999999997" height="14.600000000000017" fill="#fff" stroke="none" stroke-width="0.8"/>
<rect x="287.0" y="515.4" width="49.60000000000002" height="14.999999999999954" fill="#fff" stroke="none" stroke-width="0.8"/>
<rect x="617.8" y="515.4" width="49.60000000000002" height="14.999999999999954" fill="#fff" stroke="none" stroke-width="0.8"/>
<rect x="382.0" y="515.4" width="52.60000000000002" height="14.999999999999954" fill="#fff" stroke="none" stroke-width="0.8"/>
<rect x="519.8" y="515.4" width="52.60000000000002" height="14.999999999999954" fill="#fff" stroke="none" stroke-width="0.8"/>
<line x1="315.8" y1="206.6" x2="441.4" y2="206.6" stroke="#000" stroke-width="1.3"/>
<line x1="638.6" y1="206.6" x2="513.0" y2="206.6" stroke="#000" stroke-width="1.3"/>
<line x1="315.8" y1="206.6" x2="315.8" y2="220.3" stroke="#000" stroke-width="1.2"/>
<line x1="638.6" y1="206.6" x2="638.6" y2="220.3" stroke="#000" stroke-width="1.2"/>
<line x1="441.4" y1="206.6" x2="441.4" y2="220.3" stroke="#000" stroke-width="1.2"/>
<line x1="513.0" y1="206.6" x2="513.0" y2="220.3" stroke="#000" stroke-width="1.2"/>
<line x1="315.8" y1="211.6" x2="441.4" y2="211.6" stroke="#000" stroke-width="0.6"/>
<line x1="638.6" y1="211.6" x2="513.0" y2="211.6" stroke="#000" stroke-width="0.6"/>
<line x1="317.3" y1="214.9" x2="439.9" y2="214.9" stroke="#000" stroke-width="2.0"/>
<line x1="637.1" y1="214.9" x2="514.5" y2="214.9" stroke="#000" stroke-width="2.0"/>
<line x1="317.3" y1="213.4" x2="439.9" y2="213.4" stroke="#000" stroke-width="0.5"/>
<line x1="637.1" y1="213.4" x2="514.5" y2="213.4" stroke="#000" stroke-width="0.5"/>
<circle cx="319" cy="214.9" r="0.7" fill="#fff" stroke="none" stroke-width="0.8"/>
<circle cx="635.4" cy="214.9" r="0.7" fill="#fff" stroke="none" stroke-width="0.8"/>
<circle cx="345.5" cy="214.9" r="0.7" fill="#fff" stroke="none" stroke-width="0.8"/>
<circle cx="608.9" cy="214.9" r="0.7" fill="#fff" stroke="none" stroke-width="0.8"/>
<circle cx="349.5" cy="214.9" r="0.7" fill="#fff" stroke="none" stroke-width="0.8"/>
<circle cx="604.9" cy="214.9" r="0.7" fill="#fff" stroke="none" stroke-width="0.8"/>
<circle cx="376.5" cy="214.9" r="0.7" fill="#fff" stroke="none" stroke-width="0.8"/>
<circle cx="577.9" cy="214.9" r="0.7" fill="#fff" stroke="none" stroke-width="0.8"/>
<circle cx="381" cy="214.9" r="0.7" fill="#fff" stroke="none" stroke-width="0.8"/>
<circle cx="573.4" cy="214.9" r="0.7" fill="#fff" stroke="none" stroke-width="0.8"/>
<circle cx="408.5" cy="214.9" r="0.7" fill="#fff" stroke="none" stroke-width="0.8"/>
<circle cx="545.9" cy="214.9" r="0.7" fill="#fff" stroke="none" stroke-width="0.8"/>
<circle cx="412.5" cy="214.9" r="0.7" fill="#fff" stroke="none" stroke-width="0.8"/>
<circle cx="541.9" cy="214.9" r="0.7" fill="#fff" stroke="none" stroke-width="0.8"/>
<circle cx="438.5" cy="214.9" r="0.7" fill="#fff" stroke="none" stroke-width="0.8"/>
<circle cx="515.9" cy="214.9" r="0.7" fill="#fff" stroke="none" stroke-width="0.8"/>
<line x1="315.8" y1="220.3" x2="441.4" y2="220.3" stroke="#000" stroke-width="0.7" stroke-dasharray="3 1.6"/>
<line x1="638.6" y1="220.3" x2="513.0" y2="220.3" stroke="#000" stroke-width="0.7" stroke-dasharray="3 1.6"/>
<path d="M380.7,215 V246.3 H384.6 C397,245.5 408.5,236 410.5,221.4 C412.5,236 424,245.5 436.5,246.3 H440.5 V215" fill="none" stroke="#222" stroke-width="0.8"/>
<g transform="translate(954.4,0) scale(-1,1)"><path d="M380.7,215 V246.3 H384.6 C397,245.5 408.5,236 410.5,221.4 C412.5,236 424,245.5 436.5,246.3 H440.5 V215" fill="none" stroke="#222" stroke-width="0.8"/></g>
<line x1="287.0" y1="516.0" x2="336.6" y2="516.0" stroke="#000" stroke-width="1.3"/>
<line x1="667.4" y1="516.0" x2="617.8" y2="516.0" stroke="#000" stroke-width="1.3"/>
<line x1="287.0" y1="529.8" x2="336.6" y2="529.8" stroke="#000" stroke-width="1.3"/>
<line x1="667.4" y1="529.8" x2="617.8" y2="529.8" stroke="#000" stroke-width="1.3"/>
<line x1="287.0" y1="516.0" x2="287.0" y2="529.8" stroke="#000" stroke-width="1.2"/>
<line x1="667.4" y1="516.0" x2="667.4" y2="529.8" stroke="#000" stroke-width="1.2"/>
<line x1="336.6" y1="516.0" x2="336.6" y2="529.8" stroke="#000" stroke-width="1.2"/>
<line x1="617.8" y1="516.0" x2="617.8" y2="529.8" stroke="#000" stroke-width="1.2"/>
<line x1="288.5" y1="519.4" x2="335.1" y2="519.4" stroke="#000" stroke-width="0.5"/>
<line x1="665.9" y1="519.4" x2="619.3" y2="519.4" stroke="#000" stroke-width="0.5"/>
<line x1="289.5" y1="521.0" x2="334.1" y2="521.0" stroke="#000" stroke-width="1.6"/>
<line x1="664.9" y1="521.0" x2="620.3" y2="521.0" stroke="#000" stroke-width="1.6"/>
<line x1="287.0" y1="524.4" x2="336.6" y2="524.4" stroke="#000" stroke-width="0.6"/>
<line x1="667.4" y1="524.4" x2="617.8" y2="524.4" stroke="#000" stroke-width="0.6"/>
<line x1="288.5" y1="519.4" x2="290.5" y2="522.5" stroke="#000" stroke-width="0.5"/>
<line x1="665.9" y1="519.4" x2="663.9" y2="522.5" stroke="#000" stroke-width="0.5"/>
<line x1="335.1" y1="519.4" x2="333.1" y2="522.5" stroke="#000" stroke-width="0.5"/>
<line x1="619.3" y1="519.4" x2="621.3" y2="522.5" stroke="#000" stroke-width="0.5"/>
<line x1="382.0" y1="516.0" x2="434.6" y2="516.0" stroke="#000" stroke-width="0.8" stroke-dasharray="3.5 1.2"/>
<line x1="572.4" y1="516.0" x2="519.8" y2="516.0" stroke="#000" stroke-width="0.8" stroke-dasharray="3.5 1.2"/>
<line x1="382.0" y1="516.0" x2="382.0" y2="529.8" stroke="#000" stroke-width="1.2"/>
<line x1="572.4" y1="516.0" x2="572.4" y2="529.8" stroke="#000" stroke-width="1.2"/>
<line x1="434.6" y1="516.0" x2="434.6" y2="529.8" stroke="#000" stroke-width="1.2"/>
<line x1="519.8" y1="516.0" x2="519.8" y2="529.8" stroke="#000" stroke-width="1.2"/>
<rect x="382.0" y="516.0" width="2.2" height="13.799999999999955" fill="#000" stroke="none" stroke-width="0.8"/>
<rect x="570.2" y="516.0" width="2.2" height="13.799999999999955" fill="#000" stroke="none" stroke-width="0.8"/>
<rect x="432.40000000000003" y="516.0" width="2.2" height="13.799999999999955" fill="#000" stroke="none" stroke-width="0.8"/>
<rect x="519.8" y="516.0" width="2.2" height="13.799999999999955" fill="#000" stroke="none" stroke-width="0.8"/>
<line x1="382.0" y1="519.6" x2="434.6" y2="519.6" stroke="#000" stroke-width="0.6"/>
<line x1="572.4" y1="519.6" x2="519.8" y2="519.6" stroke="#000" stroke-width="0.6"/>
<line x1="382.0" y1="522.8" x2="434.6" y2="522.8" stroke="#000" stroke-width="1.8"/>
<line x1="572.4" y1="522.8" x2="519.8" y2="522.8" stroke="#000" stroke-width="1.8"/>
<rect x="399.5" y="521.8" width="4" height="2" fill="#fff" stroke="none" stroke-width="0.8"/>
<rect x="550.9" y="521.8" width="4" height="2" fill="#fff" stroke="none" stroke-width="0.8"/>
<line x1="382.0" y1="524.4" x2="434.6" y2="524.4" stroke="#000" stroke-width="0.5"/>
<line x1="572.4" y1="524.4" x2="519.8" y2="524.4" stroke="#000" stroke-width="0.5"/>
<line x1="382.0" y1="529.8" x2="434.6" y2="529.8" stroke="#000" stroke-width="0.9"/>
<line x1="572.4" y1="529.8" x2="519.8" y2="529.8" stroke="#000" stroke-width="0.9"/>
<path d="M432.5,530 V555.3 H428 C412,553 401.5,541 399.8,522.5" fill="none" stroke="#222" stroke-width="0.8"/>
<g transform="translate(954.4,0) scale(-1,1)"><path d="M432.5,530 V555.3 H428 C412,553 401.5,541 399.8,522.5" fill="none" stroke="#222" stroke-width="0.8"/></g>
<path d="M312.1,206.6 V131.7 H445.4 V206.6" fill="none" stroke="#111" stroke-width="1.0"/>
<g transform="translate(954.4,0) scale(-1,1)"><path d="M312.1,206.6 V131.7 H445.4 V206.6" fill="none" stroke="#111" stroke-width="1.0"/></g>
<path d="M315.9,206.6 V135.0 H441.6 V206.6" fill="none" stroke="#111" stroke-width="1.0"/>
<g transform="translate(954.4,0) scale(-1,1)"><path d="M315.9,206.6 V135.0 H441.6 V206.6" fill="none" stroke="#111" stroke-width="1.0"/></g>
<path d="M372.2,529.8 V561.4 H582.2 V529.8" fill="none" stroke="#111" stroke-width="1.0" stroke-dasharray="7 1.2"/>
<path d="M375.9,529.8 V557.4 H578.5 V529.8" fill="none" stroke="#111" stroke-width="0.9"/>
<line x1="477.0" y1="529.8" x2="477.0" y2="561.4" stroke="#000" stroke-width="1.8"/>
<circle cx="260.3" cy="84.7" r="9" fill="none" stroke="#222" stroke-width="0.9"/>
<text x="260.3" y="89.0" font-size="12" fill="#111" text-anchor="middle">3</text>
<circle cx="477.2" cy="88.0" r="9" fill="none" stroke="#222" stroke-width="0.9"/>
<text x="477.2" y="92.3" font-size="12" fill="#111" text-anchor="middle">2</text>
<circle cx="693.9" cy="83.3" r="9" fill="none" stroke="#222" stroke-width="0.9"/>
<text x="693.9" y="87.6" font-size="12" fill="#111" text-anchor="middle">1</text>
<circle cx="260.3" cy="628.0" r="9" fill="none" stroke="#222" stroke-width="0.9"/>
<text x="260.3" y="632.3" font-size="12" fill="#111" text-anchor="middle">3</text>
<circle cx="477.2" cy="631.5" r="9" fill="none" stroke="#222" stroke-width="0.9"/>
<text x="477.2" y="635.8" font-size="12" fill="#111" text-anchor="middle">2</text>
<circle cx="693.9" cy="628.0" r="9" fill="none" stroke="#222" stroke-width="0.9"/>
<text x="693.9" y="632.3" font-size="12" fill="#111" text-anchor="middle">1</text>
<line x1="260.3" y1="93.7" x2="260.3" y2="205" stroke="#333" stroke-width="0.9" stroke-dasharray="9 2.5 1.5 2.5"/>
<line x1="693.9" y1="92.3" x2="693.9" y2="205" stroke="#333" stroke-width="0.9" stroke-dasharray="9 2.5 1.5 2.5"/>
<line x1="477.2" y1="97" x2="477.2" y2="206" stroke="#333" stroke-width="0.9" stroke-dasharray="9 2.5 1.5 2.5"/>
<line x1="260.3" y1="533" x2="260.3" y2="619" stroke="#333" stroke-width="0.9" stroke-dasharray="9 2.5 1.5 2.5"/>
<line x1="693.9" y1="533" x2="693.9" y2="619" stroke="#333" stroke-width="0.9" stroke-dasharray="9 2.5 1.5 2.5"/>
<line x1="477.2" y1="562" x2="477.2" y2="622.5" stroke="#333" stroke-width="0.9" stroke-dasharray="9 2.5 1.5 2.5"/>
<circle cx="202.8" cy="215.8" r="9" fill="none" stroke="#222" stroke-width="0.9"/>
<circle cx="781.3" cy="215.8" r="9" fill="none" stroke="#222" stroke-width="0.9"/>
<text x="202.8" y="220.0" font-size="12" fill="#111" text-anchor="middle">A</text>
<text x="781.3" y="220.0" font-size="12" fill="#111" text-anchor="middle">A</text>
<line x1="211.8" y1="215.8" x2="250.7" y2="215.8" stroke="#333" stroke-width="0.9" stroke-dasharray="10 2.5 1.5 2.5"/>
<line x1="703.7" y1="215.8" x2="772.3" y2="215.8" stroke="#333" stroke-width="0.9" stroke-dasharray="10 2.5 1.5 2.5"/>
<circle cx="202.3" cy="344.1" r="9" fill="none" stroke="#222" stroke-width="0.9"/>
<circle cx="782.0" cy="344.1" r="9" fill="none" stroke="#222" stroke-width="0.9"/>
<text x="202.3" y="347.90000000000003" font-size="10.5" fill="#111" text-anchor="middle">A1</text>
<text x="782.0" y="347.90000000000003" font-size="10.5" fill="#111" text-anchor="middle">A1</text>
<line x1="211.3" y1="344.1" x2="250.7" y2="344.1" stroke="#333" stroke-width="0.9" stroke-dasharray="10 2.5 1.5 2.5"/>
<line x1="703.7" y1="344.1" x2="773.0" y2="344.1" stroke="#333" stroke-width="0.9" stroke-dasharray="10 2.5 1.5 2.5"/>
<circle cx="202.3" cy="424.5" r="9" fill="none" stroke="#222" stroke-width="0.9"/>
<circle cx="791.6" cy="424.5" r="9" fill="none" stroke="#222" stroke-width="0.9"/>
<text x="202.3" y="428.3" font-size="10.5" fill="#111" text-anchor="middle">A2</text>
<text x="791.6" y="428.3" font-size="10.5" fill="#111" text-anchor="middle">A2</text>
<line x1="211.3" y1="424.5" x2="250.7" y2="424.5" stroke="#333" stroke-width="0.9" stroke-dasharray="10 2.5 1.5 2.5"/>
<line x1="703.7" y1="424.5" x2="782.6" y2="424.5" stroke="#333" stroke-width="0.9" stroke-dasharray="10 2.5 1.5 2.5"/>
<circle cx="203.0" cy="520.7" r="9" fill="none" stroke="#222" stroke-width="0.9"/>
<circle cx="791.0" cy="520.7" r="9" fill="none" stroke="#222" stroke-width="0.9"/>
<text x="203.0" y="524.9000000000001" font-size="12" fill="#111" text-anchor="middle">B</text>
<text x="791.0" y="524.9000000000001" font-size="12" fill="#111" text-anchor="middle">B</text>
<line x1="212.0" y1="520.7" x2="250.7" y2="520.7" stroke="#333" stroke-width="0.9" stroke-dasharray="10 2.5 1.5 2.5"/>
<line x1="703.7" y1="520.7" x2="782.0" y2="520.7" stroke="#333" stroke-width="0.9" stroke-dasharray="10 2.5 1.5 2.5"/>
<line x1="250.5" y1="99.7" x2="703.9" y2="99.7" stroke="#2f6b5e" stroke-width="1.0"/>
<line x1="250.5" y1="110.5" x2="703.9" y2="110.5" stroke="#2f6b5e" stroke-width="1.0"/>
<line x1="250.5" y1="118.9" x2="703.9" y2="118.9" stroke="#2f6b5e" stroke-width="1.0"/>
<line x1="250.5" y1="127.7" x2="703.9" y2="127.7" stroke="#2f6b5e" stroke-width="1.0"/>
<line x1="250.5" y1="136.5" x2="703.9" y2="136.5" stroke="#2f6b5e" stroke-width="1.0"/>
<line x1="250.5" y1="175.6" x2="703.9" y2="175.6" stroke="#2f6b5e" stroke-width="1.0"/>
<line x1="250.5" y1="96" x2="250.5" y2="146" stroke="#2f6b5e" stroke-width="1.0"/>
<line x1="703.9" y1="96" x2="703.9" y2="146" stroke="#2f6b5e" stroke-width="1.0"/>
<line x1="250.5" y1="172" x2="250.5" y2="187" stroke="#2f6b5e" stroke-width="1.0"/>
<line x1="703.9" y1="172" x2="703.9" y2="187" stroke="#2f6b5e" stroke-width="1.0"/>
<circle cx="250.5" cy="99.7" r="0.9" fill="#2f6b5e" stroke="none" stroke-width="0.8"/>
<circle cx="703.9" cy="99.7" r="0.9" fill="#2f6b5e" stroke="none" stroke-width="0.8"/>
<circle cx="250.5" cy="110.5" r="0.9" fill="#2f6b5e" stroke="none" stroke-width="0.8"/>
<circle cx="703.9" cy="110.5" r="0.9" fill="#2f6b5e" stroke="none" stroke-width="0.8"/>
<circle cx="250.5" cy="118.9" r="0.9" fill="#2f6b5e" stroke="none" stroke-width="0.8"/>
<circle cx="703.9" cy="118.9" r="0.9" fill="#2f6b5e" stroke="none" stroke-width="0.8"/>
<circle cx="250.5" cy="127.7" r="0.9" fill="#2f6b5e" stroke="none" stroke-width="0.8"/>
<circle cx="703.9" cy="127.7" r="0.9" fill="#2f6b5e" stroke="none" stroke-width="0.8"/>
<circle cx="250.5" cy="136.5" r="0.9" fill="#2f6b5e" stroke="none" stroke-width="0.8"/>
<circle cx="703.9" cy="136.5" r="0.9" fill="#2f6b5e" stroke="none" stroke-width="0.8"/>
<circle cx="250.5" cy="175.6" r="0.9" fill="#2f6b5e" stroke="none" stroke-width="0.8"/>
<circle cx="703.9" cy="175.6" r="0.9" fill="#2f6b5e" stroke="none" stroke-width="0.8"/>
<line x1="260.3" y1="108" x2="260.3" y2="121" stroke="#2f6b5e" stroke-width="1.2"/>
<line x1="694.1" y1="108" x2="694.1" y2="121" stroke="#2f6b5e" stroke-width="1.2"/>
<line x1="264.4" y1="125" x2="264.4" y2="138.5" stroke="#2f6b5e" stroke-width="1.0"/>
<line x1="690.0" y1="125" x2="690.0" y2="138.5" stroke="#2f6b5e" stroke-width="1.0"/>
<line x1="477.2" y1="108" x2="477.2" y2="121" stroke="#2f6b5e" stroke-width="1.4"/>
<line x1="472.9" y1="126" x2="472.9" y2="138.5" stroke="#2f6b5e" stroke-width="1.0"/>
<line x1="481.5" y1="126" x2="481.5" y2="138.5" stroke="#2f6b5e" stroke-width="1.0"/>
<line x1="477.2" y1="126" x2="477.2" y2="138.5" stroke="#2f6b5e" stroke-width="1.0"/>
<line x1="315.8" y1="132" x2="315.8" y2="140" stroke="#2f6b5e" stroke-width="1.0"/>
<line x1="638.6" y1="132" x2="638.6" y2="140" stroke="#2f6b5e" stroke-width="1.0"/>
<line x1="378.7" y1="132" x2="378.7" y2="146.5" stroke="#2f6b5e" stroke-width="1.0"/>
<line x1="575.7" y1="132" x2="575.7" y2="146.5" stroke="#2f6b5e" stroke-width="1.0"/>
<line x1="441.6" y1="132" x2="441.6" y2="140" stroke="#2f6b5e" stroke-width="1.0"/>
<line x1="512.8" y1="132" x2="512.8" y2="140" stroke="#2f6b5e" stroke-width="1.0"/>
<circle cx="312.1" cy="175.6" r="0.9" fill="#2f6b5e" stroke="none" stroke-width="0.8"/>
<circle cx="642.3" cy="175.6" r="0.9" fill="#2f6b5e" stroke="none" stroke-width="0.8"/>
<circle cx="445.4" cy="175.6" r="0.9" fill="#2f6b5e" stroke="none" stroke-width="0.8"/>
<circle cx="509.0" cy="175.6" r="0.9" fill="#2f6b5e" stroke="none" stroke-width="0.8"/>
<text x="477.5" y="98.2" font-size="5.6" fill="#1a5e50" text-anchor="middle" stroke="#1a5e50" stroke-width="0.22">1 294</text>
<text x="364" y="108.9" font-size="5.6" fill="#1a5e50" text-anchor="middle" stroke="#1a5e50" stroke-width="0.22">647</text>
<text x="590.4" y="108.9" font-size="5.6" fill="#1a5e50" text-anchor="middle" stroke="#1a5e50" stroke-width="0.22">647</text>
<text x="369" y="117.4" font-size="5.6" fill="#1a5e50" text-anchor="middle" stroke="#1a5e50" stroke-width="0.22">620</text>
<text x="585.4" y="117.4" font-size="5.6" fill="#1a5e50" text-anchor="middle" stroke="#1a5e50" stroke-width="0.22">620</text>
<text x="369" y="126.2" font-size="5.6" fill="#1a5e50" text-anchor="middle" stroke="#1a5e50" stroke-width="0.22">596</text>
<text x="585.4" y="126.2" font-size="5.6" fill="#1a5e50" text-anchor="middle" stroke="#1a5e50" stroke-width="0.22">596</text>
<text x="256" y="117.4" font-size="5.6" fill="#1a5e50" text-anchor="middle" stroke="#1a5e50" stroke-width="0.22">27</text>
<text x="698.4" y="117.4" font-size="5.6" fill="#1a5e50" text-anchor="middle" stroke="#1a5e50" stroke-width="0.22">27</text>
<text x="258" y="126.2" font-size="5.6" fill="#1a5e50" text-anchor="middle" stroke="#1a5e50" stroke-width="0.22">39</text>
<text x="696.4" y="126.2" font-size="5.6" fill="#1a5e50" text-anchor="middle" stroke="#1a5e50" stroke-width="0.22">39</text>
<text x="284" y="135.0" font-size="5.6" fill="#1a5e50" text-anchor="middle" stroke="#1a5e50" stroke-width="0.22">186</text>
<text x="670.4" y="135.0" font-size="5.6" fill="#1a5e50" text-anchor="middle" stroke="#1a5e50" stroke-width="0.22">186</text>
<text x="349.5" y="135.0" font-size="5.6" fill="#1a5e50" text-anchor="middle" stroke="#1a5e50" stroke-width="0.22">180</text>
<text x="608.4" y="135.0" font-size="5.6" fill="#1a5e50" text-anchor="middle" stroke="#1a5e50" stroke-width="0.22">180</text>
<text x="411" y="135.0" font-size="5.6" fill="#1a5e50" text-anchor="middle" stroke="#1a5e50" stroke-width="0.22">180</text>
<text x="543.4" y="135.0" font-size="5.6" fill="#1a5e50" text-anchor="middle" stroke="#1a5e50" stroke-width="0.22">180</text>
<text x="459" y="135.0" font-size="5.6" fill="#1a5e50" text-anchor="middle" stroke="#1a5e50" stroke-width="0.22">101</text>
<text x="495.4" y="135.0" font-size="5.6" fill="#1a5e50" text-anchor="middle" stroke="#1a5e50" stroke-width="0.22">101</text>
<text x="477.5" y="126.0" font-size="5.6" fill="#1a5e50" text-anchor="middle" stroke="#1a5e50" stroke-width="0.22">24</text>
<text x="282" y="174.1" font-size="5.6" fill="#1a5e50" text-anchor="middle" stroke="#1a5e50" stroke-width="0.22">176</text>
<text x="672.4" y="174.1" font-size="5.6" fill="#1a5e50" text-anchor="middle" stroke="#1a5e50" stroke-width="0.22">176</text>
<text x="379" y="174.1" font-size="5.6" fill="#1a5e50" text-anchor="middle" stroke="#1a5e50" stroke-width="0.22">380</text>
<text x="575.4" y="174.1" font-size="5.6" fill="#1a5e50" text-anchor="middle" stroke="#1a5e50" stroke-width="0.22">380</text>
<text x="477.5" y="174.1" font-size="5.6" fill="#1a5e50" text-anchor="middle" stroke="#1a5e50" stroke-width="0.22">182</text>
<line x1="459.6" y1="130" x2="459.6" y2="207" stroke="#2f6b5e" stroke-width="1.0"/>
<text x="458.2" y="168" font-size="5.6" fill="#1a5e50" text-anchor="middle" transform="rotate(-90 458.2 168)" stroke="#1a5e50" stroke-width="0.22">215</text>
<circle cx="459.6" cy="136.5" r="0.9" fill="#2f6b5e" stroke="none" stroke-width="0.8"/>
<circle cx="459.6" cy="206.6" r="0.9" fill="#2f6b5e" stroke="none" stroke-width="0.8"/>
<line x1="250.5" y1="568.3" x2="703.9" y2="568.3" stroke="#2f6b5e" stroke-width="1.0"/>
<line x1="250.5" y1="582.0" x2="703.9" y2="582.0" stroke="#2f6b5e" stroke-width="1.0"/>
<line x1="250.5" y1="590.2" x2="703.9" y2="590.2" stroke="#2f6b5e" stroke-width="1.0"/>
<line x1="250.5" y1="599.0" x2="703.9" y2="599.0" stroke="#2f6b5e" stroke-width="1.0"/>
<line x1="250.5" y1="606.8" x2="703.9" y2="606.8" stroke="#2f6b5e" stroke-width="1.0"/>
<line x1="250.5" y1="613.7" x2="703.9" y2="613.7" stroke="#2f6b5e" stroke-width="1.0"/>
<line x1="250.5" y1="563" x2="250.5" y2="614.5" stroke="#2f6b5e" stroke-width="1.0"/>
<line x1="703.9" y1="563" x2="703.9" y2="614.5" stroke="#2f6b5e" stroke-width="1.0"/>
<circle cx="250.5" cy="568.3" r="0.9" fill="#2f6b5e" stroke="none" stroke-width="0.8"/>
<circle cx="703.9" cy="568.3" r="0.9" fill="#2f6b5e" stroke="none" stroke-width="0.8"/>
<circle cx="250.5" cy="582.0" r="0.9" fill="#2f6b5e" stroke="none" stroke-width="0.8"/>
<circle cx="703.9" cy="582.0" r="0.9" fill="#2f6b5e" stroke="none" stroke-width="0.8"/>
<circle cx="250.5" cy="590.2" r="0.9" fill="#2f6b5e" stroke="none" stroke-width="0.8"/>
<circle cx="703.9" cy="590.2" r="0.9" fill="#2f6b5e" stroke="none" stroke-width="0.8"/>
<circle cx="250.5" cy="599.0" r="0.9" fill="#2f6b5e" stroke="none" stroke-width="0.8"/>
<circle cx="703.9" cy="599.0" r="0.9" fill="#2f6b5e" stroke="none" stroke-width="0.8"/>
<circle cx="250.5" cy="606.8" r="0.9" fill="#2f6b5e" stroke="none" stroke-width="0.8"/>
<circle cx="703.9" cy="606.8" r="0.9" fill="#2f6b5e" stroke="none" stroke-width="0.8"/>
<circle cx="250.5" cy="613.7" r="0.9" fill="#2f6b5e" stroke="none" stroke-width="0.8"/>
<circle cx="703.9" cy="613.7" r="0.9" fill="#2f6b5e" stroke="none" stroke-width="0.8"/>
<line x1="287.1" y1="571.5" x2="287.1" y2="583.5" stroke="#2f6b5e" stroke-width="1.0"/>
<line x1="667.3" y1="571.5" x2="667.3" y2="583.5" stroke="#2f6b5e" stroke-width="1.0"/>
<circle cx="287.1" cy="582" r="0.9" fill="#2f6b5e" stroke="none" stroke-width="0.8"/>
<circle cx="667.3" cy="582" r="0.9" fill="#2f6b5e" stroke="none" stroke-width="0.8"/>
<line x1="348.9" y1="571.5" x2="348.9" y2="583.5" stroke="#2f6b5e" stroke-width="1.0"/>
<line x1="605.5" y1="571.5" x2="605.5" y2="583.5" stroke="#2f6b5e" stroke-width="1.0"/>
<circle cx="348.9" cy="582" r="0.9" fill="#2f6b5e" stroke="none" stroke-width="0.8"/>
<circle cx="605.5" cy="582" r="0.9" fill="#2f6b5e" stroke="none" stroke-width="0.8"/>
<line x1="372.1" y1="577" x2="372.1" y2="583.5" stroke="#2f6b5e" stroke-width="1.0"/>
<line x1="582.3" y1="577" x2="582.3" y2="583.5" stroke="#2f6b5e" stroke-width="1.0"/>
<circle cx="372.1" cy="582" r="0.9" fill="#2f6b5e" stroke="none" stroke-width="0.8"/>
<circle cx="582.3" cy="582" r="0.9" fill="#2f6b5e" stroke="none" stroke-width="0.8"/>
<line x1="375.0" y1="577" x2="375.0" y2="583.5" stroke="#2f6b5e" stroke-width="1.0"/>
<line x1="579.4" y1="577" x2="579.4" y2="583.5" stroke="#2f6b5e" stroke-width="1.0"/>
<circle cx="375.0" cy="582" r="0.9" fill="#2f6b5e" stroke="none" stroke-width="0.8"/>
<circle cx="579.4" cy="582" r="0.9" fill="#2f6b5e" stroke="none" stroke-width="0.8"/>
<line x1="381.5" y1="571.5" x2="381.5" y2="583.5" stroke="#2f6b5e" stroke-width="1.0"/>
<line x1="572.9" y1="571.5" x2="572.9" y2="583.5" stroke="#2f6b5e" stroke-width="1.0"/>
<circle cx="381.5" cy="582" r="0.9" fill="#2f6b5e" stroke="none" stroke-width="0.8"/>
<circle cx="572.9" cy="582" r="0.9" fill="#2f6b5e" stroke="none" stroke-width="0.8"/>
<line x1="434.0" y1="571.5" x2="434.0" y2="583.5" stroke="#2f6b5e" stroke-width="1.0"/>
<line x1="520.4" y1="571.5" x2="520.4" y2="583.5" stroke="#2f6b5e" stroke-width="1.0"/>
<circle cx="434.0" cy="582" r="0.9" fill="#2f6b5e" stroke="none" stroke-width="0.8"/>
<circle cx="520.4" cy="582" r="0.9" fill="#2f6b5e" stroke="none" stroke-width="0.8"/>
<line x1="372.1" y1="563" x2="372.1" y2="570" stroke="#2f6b5e" stroke-width="1.0"/>
<line x1="582.3" y1="563" x2="582.3" y2="570" stroke="#2f6b5e" stroke-width="1.0"/>
<line x1="264.4" y1="585" x2="264.4" y2="592" stroke="#2f6b5e" stroke-width="1.0"/>
<line x1="690.0" y1="585" x2="690.0" y2="592" stroke="#2f6b5e" stroke-width="1.0"/>
<circle cx="264.4" cy="590.2" r="0.9" fill="#2f6b5e" stroke="none" stroke-width="0.8"/>
<circle cx="690.0" cy="590.2" r="0.9" fill="#2f6b5e" stroke="none" stroke-width="0.8"/>
<line x1="370.4" y1="585" x2="370.4" y2="592" stroke="#2f6b5e" stroke-width="1.0"/>
<line x1="584.0" y1="585" x2="584.0" y2="592" stroke="#2f6b5e" stroke-width="1.0"/>
<circle cx="370.4" cy="590.2" r="0.9" fill="#2f6b5e" stroke="none" stroke-width="0.8"/>
<circle cx="584.0" cy="590.2" r="0.9" fill="#2f6b5e" stroke="none" stroke-width="0.8"/>
<line x1="373.2" y1="585" x2="373.2" y2="592" stroke="#2f6b5e" stroke-width="1.0"/>
<line x1="581.2" y1="585" x2="581.2" y2="592" stroke="#2f6b5e" stroke-width="1.0"/>
<circle cx="373.2" cy="590.2" r="0.9" fill="#2f6b5e" stroke="none" stroke-width="0.8"/>
<circle cx="581.2" cy="590.2" r="0.9" fill="#2f6b5e" stroke="none" stroke-width="0.8"/>
<line x1="260.3" y1="596" x2="260.3" y2="609" stroke="#2f6b5e" stroke-width="1.2"/>
<line x1="694.1" y1="596" x2="694.1" y2="609" stroke="#2f6b5e" stroke-width="1.2"/>
<line x1="473.0" y1="577" x2="473.0" y2="592" stroke="#2f6b5e" stroke-width="1.0"/>
<line x1="481.4" y1="577" x2="481.4" y2="592" stroke="#2f6b5e" stroke-width="1.0"/>
<line x1="477.2" y1="563" x2="477.2" y2="615" stroke="#2f6b5e" stroke-width="1.0"/>
<text x="270" y="580.5" font-size="5.6" fill="#1a5e50" text-anchor="middle" stroke="#1a5e50" stroke-width="0.22">104</text>
<text x="684.4" y="580.5" font-size="5.6" fill="#1a5e50" text-anchor="middle" stroke="#1a5e50" stroke-width="0.22">104</text>
<text x="318" y="580.5" font-size="5.6" fill="#1a5e50" text-anchor="middle" stroke="#1a5e50" stroke-width="0.22">177</text>
<text x="636.4" y="580.5" font-size="5.6" fill="#1a5e50" text-anchor="middle" stroke="#1a5e50" stroke-width="0.22">177</text>
<text x="365.5" y="580.5" font-size="5.6" fill="#1a5e50" text-anchor="middle" stroke="#1a5e50" stroke-width="0.22">93</text>
<text x="588.9" y="580.5" font-size="5.6" fill="#1a5e50" text-anchor="middle" stroke="#1a5e50" stroke-width="0.22">93</text>
<text x="408" y="580.5" font-size="5.6" fill="#1a5e50" text-anchor="middle" stroke="#1a5e50" stroke-width="0.22">150</text>
<text x="546.4" y="580.5" font-size="5.6" fill="#1a5e50" text-anchor="middle" stroke="#1a5e50" stroke-width="0.22">150</text>
<text x="258" y="588.7" font-size="5.6" fill="#1a5e50" text-anchor="middle" stroke="#1a5e50" stroke-width="0.22">39</text>
<text x="696.4" y="588.7" font-size="5.6" fill="#1a5e50" text-anchor="middle" stroke="#1a5e50" stroke-width="0.22">39</text>
<text x="317.5" y="588.7" font-size="5.6" fill="#1a5e50" text-anchor="middle" stroke="#1a5e50" stroke-width="0.22">302</text>
<text x="636.9" y="588.7" font-size="5.6" fill="#1a5e50" text-anchor="middle" stroke="#1a5e50" stroke-width="0.22">302</text>
<text x="368.5" y="588.7" font-size="5.6" fill="#1a5e50" text-anchor="middle" stroke="#1a5e50" stroke-width="0.22">8</text>
<text x="585.9" y="588.7" font-size="5.6" fill="#1a5e50" text-anchor="middle" stroke="#1a5e50" stroke-width="0.22">8</text>
<text x="423" y="588.7" font-size="5.6" fill="#1a5e50" text-anchor="middle" stroke="#1a5e50" stroke-width="0.22">286</text>
<text x="531.4" y="588.7" font-size="5.6" fill="#1a5e50" text-anchor="middle" stroke="#1a5e50" stroke-width="0.22">286</text>
<text x="256" y="597.5" font-size="5.6" fill="#1a5e50" text-anchor="middle" stroke="#1a5e50" stroke-width="0.22">27</text>
<text x="698.4" y="597.5" font-size="5.6" fill="#1a5e50" text-anchor="middle" stroke="#1a5e50" stroke-width="0.22">27</text>
<text x="369" y="597.5" font-size="5.6" fill="#1a5e50" text-anchor="middle" stroke="#1a5e50" stroke-width="0.22">620</text>
<text x="585.4" y="597.5" font-size="5.6" fill="#1a5e50" text-anchor="middle" stroke="#1a5e50" stroke-width="0.22">620</text>
<text x="364" y="605.3" font-size="5.6" fill="#1a5e50" text-anchor="middle" stroke="#1a5e50" stroke-width="0.22">647</text>
<text x="590.4" y="605.3" font-size="5.6" fill="#1a5e50" text-anchor="middle" stroke="#1a5e50" stroke-width="0.22">647</text>
<text x="477.5" y="589" font-size="5.2" fill="#1a5e50" text-anchor="middle" stroke="#1a5e50" stroke-width="0.22">24</text>
<text x="477.5" y="580.5" font-size="5.2" fill="#1a5e50" text-anchor="middle" stroke="#1a5e50" stroke-width="0.22">246</text>
<text x="477.5" y="612.6" font-size="5.6" fill="#1a5e50" text-anchor="middle" stroke="#1a5e50" stroke-width="0.22">1 294</text>
<text x="312" y="566.8" font-size="5.6" fill="#1a5e50" text-anchor="middle" stroke="#1a5e50" stroke-width="0.22">347</text>
<text x="642.4" y="566.8" font-size="5.6" fill="#1a5e50" text-anchor="middle" stroke="#1a5e50" stroke-width="0.22">347</text>
<text x="477" y="566.8" font-size="5.6" fill="#1a5e50" text-anchor="middle" stroke="#1a5e50" stroke-width="0.22">600</text>
<line x1="219.7" y1="206.6" x2="219.7" y2="529.8" stroke="#2f6b5e" stroke-width="1.0"/>
<circle cx="219.7" cy="206.6" r="0.9" fill="#2f6b5e" stroke="none" stroke-width="0.8"/>
<circle cx="219.7" cy="529.8" r="0.9" fill="#2f6b5e" stroke="none" stroke-width="0.8"/>
<line x1="228.9" y1="206.6" x2="228.9" y2="529.8" stroke="#2f6b5e" stroke-width="1.0"/>
<circle cx="228.9" cy="206.6" r="0.9" fill="#2f6b5e" stroke="none" stroke-width="0.8"/>
<circle cx="228.9" cy="529.8" r="0.9" fill="#2f6b5e" stroke="none" stroke-width="0.8"/>
<line x1="239.6" y1="206.6" x2="239.6" y2="529.8" stroke="#2f6b5e" stroke-width="1.0"/>
<circle cx="239.6" cy="206.6" r="0.9" fill="#2f6b5e" stroke="none" stroke-width="0.8"/>
<circle cx="239.6" cy="529.8" r="0.9" fill="#2f6b5e" stroke="none" stroke-width="0.8"/>
<line x1="736.3" y1="206.6" x2="736.3" y2="529.8" stroke="#2f6b5e" stroke-width="1.0"/>
<circle cx="736.3" cy="206.6" r="0.9" fill="#2f6b5e" stroke="none" stroke-width="0.8"/>
<circle cx="736.3" cy="529.8" r="0.9" fill="#2f6b5e" stroke="none" stroke-width="0.8"/>
<line x1="725.1" y1="206.6" x2="725.1" y2="529.8" stroke="#2f6b5e" stroke-width="1.0"/>
<circle cx="725.1" cy="206.6" r="0.9" fill="#2f6b5e" stroke="none" stroke-width="0.8"/>
<circle cx="725.1" cy="529.8" r="0.9" fill="#2f6b5e" stroke="none" stroke-width="0.8"/>
<line x1="713.5" y1="206.6" x2="713.5" y2="529.8" stroke="#2f6b5e" stroke-width="1.0"/>
<circle cx="713.5" cy="206.6" r="0.9" fill="#2f6b5e" stroke="none" stroke-width="0.8"/>
<circle cx="713.5" cy="529.8" r="0.9" fill="#2f6b5e" stroke="none" stroke-width="0.8"/>
<line x1="217" y1="206.6" x2="250.7" y2="206.6" stroke="#2f6b5e" stroke-width="1.0"/>
<line x1="703.7" y1="206.6" x2="739" y2="206.6" stroke="#2f6b5e" stroke-width="1.0"/>
<line x1="217" y1="529.8" x2="250.7" y2="529.8" stroke="#2f6b5e" stroke-width="1.0"/>
<line x1="703.7" y1="529.8" x2="739" y2="529.8" stroke="#2f6b5e" stroke-width="1.0"/>
<line x1="237" y1="220.3" x2="250.7" y2="220.3" stroke="#2f6b5e" stroke-width="1.0"/>
<line x1="703.7" y1="220.3" x2="716" y2="220.3" stroke="#2f6b5e" stroke-width="1.0"/>
<line x1="237" y1="516.0" x2="250.7" y2="516.0" stroke="#2f6b5e" stroke-width="1.0"/>
<line x1="703.7" y1="516.0" x2="716" y2="516.0" stroke="#2f6b5e" stroke-width="1.0"/>
<circle cx="228.9" cy="215.8" r="0.9" fill="#2f6b5e" stroke="none" stroke-width="0.8"/>
<circle cx="725.1" cy="215.8" r="0.9" fill="#2f6b5e" stroke="none" stroke-width="0.8"/>
<circle cx="228.9" cy="344.1" r="0.9" fill="#2f6b5e" stroke="none" stroke-width="0.8"/>
<circle cx="725.1" cy="344.1" r="0.9" fill="#2f6b5e" stroke="none" stroke-width="0.8"/>
<circle cx="228.9" cy="424.5" r="0.9" fill="#2f6b5e" stroke="none" stroke-width="0.8"/>
<circle cx="725.1" cy="424.5" r="0.9" fill="#2f6b5e" stroke="none" stroke-width="0.8"/>
<circle cx="228.9" cy="520.7" r="0.9" fill="#2f6b5e" stroke="none" stroke-width="0.8"/>
<circle cx="725.1" cy="520.7" r="0.9" fill="#2f6b5e" stroke="none" stroke-width="0.8"/>
<circle cx="239.6" cy="220.3" r="0.9" fill="#2f6b5e" stroke="none" stroke-width="0.8"/>
<circle cx="239.6" cy="516" r="0.9" fill="#2f6b5e" stroke="none" stroke-width="0.8"/>
<circle cx="713.5" cy="220.3" r="0.9" fill="#2f6b5e" stroke="none" stroke-width="0.8"/>
<circle cx="713.5" cy="516" r="0.9" fill="#2f6b5e" stroke="none" stroke-width="0.8"/>
<text x="218.3" y="368" font-size="5.6" fill="#1a5e50" text-anchor="middle" transform="rotate(-90 218.3 368)" stroke="#1a5e50" stroke-width="0.22">924</text>
<text x="734.9" y="371" font-size="5.6" fill="#1a5e50" text-anchor="middle" transform="rotate(-90 734.9 371)" stroke="#1a5e50" stroke-width="0.22">924</text>
<text x="238.2" y="368" font-size="5.6" fill="#1a5e50" text-anchor="middle" transform="rotate(-90 238.2 368)" stroke="#1a5e50" stroke-width="0.22">846</text>
<text x="712.4" y="385" font-size="5.6" fill="#1a5e50" text-anchor="middle" transform="rotate(-90 712.4 385)" stroke="#1a5e50" stroke-width="0.22">846</text>
<text x="227.5" y="282" font-size="5.6" fill="#1a5e50" text-anchor="middle" transform="rotate(-90 227.5 282)" stroke="#1a5e50" stroke-width="0.22">365</text>
<text x="723.7" y="282" font-size="5.6" fill="#1a5e50" text-anchor="middle" transform="rotate(-90 723.7 282)" stroke="#1a5e50" stroke-width="0.22">365</text>
<text x="227.5" y="385" font-size="5.6" fill="#1a5e50" text-anchor="middle" transform="rotate(-90 227.5 385)" stroke="#1a5e50" stroke-width="0.22">228</text>
<text x="723.8" y="378" font-size="5.6" fill="#1a5e50" text-anchor="middle" transform="rotate(-90 723.8 378)" stroke="#1a5e50" stroke-width="0.22">228</text>
<text x="227.5" y="474" font-size="5.6" fill="#1a5e50" text-anchor="middle" transform="rotate(-90 227.5 474)" stroke="#1a5e50" stroke-width="0.22">274</text>
<text x="723.7" y="474" font-size="5.6" fill="#1a5e50" text-anchor="middle" transform="rotate(-90 723.7 474)" stroke="#1a5e50" stroke-width="0.22">274</text>
<text x="227.5" y="211.5" font-size="5" fill="#1a5e50" text-anchor="middle" transform="rotate(-90 227.5 211.5)" stroke="#1a5e50" stroke-width="0.22">27</text>
<text x="723.7" y="211.5" font-size="5" fill="#1a5e50" text-anchor="middle" transform="rotate(-90 723.7 211.5)" stroke="#1a5e50" stroke-width="0.22">27</text>
<text x="238.2" y="213.8" font-size="5" fill="#1a5e50" text-anchor="middle" transform="rotate(-90 238.2 213.8)" stroke="#1a5e50" stroke-width="0.22">39</text>
<text x="712.1" y="213.8" font-size="5" fill="#1a5e50" text-anchor="middle" transform="rotate(-90 712.1 213.8)" stroke="#1a5e50" stroke-width="0.22">39</text>
<text x="227.5" y="525.5" font-size="5" fill="#1a5e50" text-anchor="middle" transform="rotate(-90 227.5 525.5)" stroke="#1a5e50" stroke-width="0.22">27</text>
<text x="723.7" y="525.5" font-size="5" fill="#1a5e50" text-anchor="middle" transform="rotate(-90 723.7 525.5)" stroke="#1a5e50" stroke-width="0.22">27</text>
<text x="238.2" y="523" font-size="5" fill="#1a5e50" text-anchor="middle" transform="rotate(-90 238.2 523)" stroke="#1a5e50" stroke-width="0.22">39</text>
<text x="712.1" y="523" font-size="5" fill="#1a5e50" text-anchor="middle" transform="rotate(-90 712.1 523)" stroke="#1a5e50" stroke-width="0.22">39</text>
<line x1="736.3" y1="529.8" x2="736.3" y2="562.5" stroke="#2f6b5e" stroke-width="1.0"/>
<line x1="725.4" y1="561.4" x2="738.2" y2="561.4" stroke="#2f6b5e" stroke-width="1.0"/>
<circle cx="736.3" cy="561.4" r="0.9" fill="#2f6b5e" stroke="none" stroke-width="0.8"/>
<text x="734.9" y="546" font-size="5.6" fill="#1a5e50" text-anchor="middle" transform="rotate(-90 734.9 546)" stroke="#1a5e50" stroke-width="0.22">92</text>
<text transform="translate(149.5,145.5) scale(0.9,1)" font-size="7.9" font-weight="bold" fill="#111">PATRER LOKAL2</text>
<text transform="translate(149.5,154.9) scale(0.9,1)" font-size="7.9" font-weight="bold" fill="#111">POW. UŻYTKOWA</text>
<text transform="translate(218.79999999999998,154.9) scale(0.9,1)" font-size="7.9" font-weight="bold" fill="#111">45,69m<tspan font-size="4.6" dy="-3.2">2</tspan></text>
<text transform="translate(149.5,165.5) scale(0.9,1)" font-size="7.9" font-weight="bold" fill="#111">POW. NETTO</text>
<text transform="translate(217.7,165.5) scale(0.9,1)" font-size="7.9" font-weight="bold" fill="#111">49,65m<tspan font-size="4.6" dy="-3.2">2</tspan></text>
<text transform="translate(149.5,175.2) scale(0.9,1)" font-size="7.9" font-weight="bold" fill="#111">POW. CAŁKOWITA</text>
<text transform="translate(217.7,175.2) scale(0.9,1)" font-size="7.9" font-weight="bold" fill="#111">59,78m<tspan font-size="4.6" dy="-3.2">2</tspan></text>
<text transform="translate(149.5,185.4) scale(0.9,1)" font-size="7.9" font-weight="bold" fill="#111">TARAS, PODEST</text>
<text transform="translate(218.79999999999998,185.4) scale(0.9,1)" font-size="7.9" font-weight="bold" fill="#111">10,87m<tspan font-size="4.6" dy="-3.2">2</tspan></text>
<text transform="translate(715.0,145.5) scale(0.9,1)" font-size="7.9" font-weight="bold" fill="#111">PATRER LOKAL 1</text>
<text transform="translate(715.0,154.9) scale(0.9,1)" font-size="7.9" font-weight="bold" fill="#111">POW. UŻYTKOWA</text>
<text transform="translate(784.3000000000001,154.9) scale(0.9,1)" font-size="7.9" font-weight="bold" fill="#111">45,69m<tspan font-size="4.6" dy="-3.2">2</tspan></text>
<text transform="translate(715.0,165.5) scale(0.9,1)" font-size="7.9" font-weight="bold" fill="#111">POW. NETTO</text>
<text transform="translate(783.2,165.5) scale(0.9,1)" font-size="7.9" font-weight="bold" fill="#111">49,65m<tspan font-size="4.6" dy="-3.2">2</tspan></text>
<text transform="translate(715.0,175.2) scale(0.9,1)" font-size="7.9" font-weight="bold" fill="#111">POW. CAŁKOWITA</text>
<text transform="translate(783.2,175.2) scale(0.9,1)" font-size="7.9" font-weight="bold" fill="#111">59,78m<tspan font-size="4.6" dy="-3.2">2</tspan></text>
<text transform="translate(715.0,185.4) scale(0.9,1)" font-size="7.9" font-weight="bold" fill="#111">TARAS, PODEST</text>
<text transform="translate(784.3000000000001,185.4) scale(0.9,1)" font-size="7.9" font-weight="bold" fill="#111">10,87m<tspan font-size="4.6" dy="-3.2">2</tspan></text>
<text x="761.2" y="248.3" font-size="4.5" fill="#1d6354" text-anchor="start" font-weight="bold" stroke="#1d6354" stroke-width="0.15">OZNACZENIA NA RYSUNKU</text>
<text x="762.2" y="254.3" font-size="4.45" fill="#1d6354" text-anchor="start" stroke="#1d6354" stroke-width="0.15">• hp – wys. dolnej krawędzi otworu</text>
<text x="783.5" y="260.3" font-size="4.45" fill="#1d6354" text-anchor="start" stroke="#1d6354" stroke-width="0.15">okiennego od posadzki</text>
<text x="762.2" y="267.4" font-size="4.45" fill="#1d6354" text-anchor="start" stroke="#1d6354" stroke-width="0.15">• Rs – rura spustowa ø 100</text>
<text x="762.2" y="273.6" font-size="4.45" fill="#1d6354" text-anchor="start" stroke="#1d6354" stroke-width="0.15">• K1, K2.... – pion kanalizacyjny</text>
<text x="762.2" y="279.7" font-size="4.45" fill="#1d6354" text-anchor="start" stroke="#1d6354" stroke-width="0.15">• RG -rozdzielnia główna</text>
<text x="762.2" y="286.4" font-size="4.45" fill="#1d6354" text-anchor="start" stroke="#1d6354" stroke-width="0.15">• ZM -zmywarka</text>
<text x="762.2" y="292.6" font-size="4.45" fill="#1d6354" text-anchor="start" stroke="#1d6354" stroke-width="0.15">• e/k- kuchenka -elektryczna</text>
<text x="762.2" y="298.7" font-size="4.45" fill="#1d6354" text-anchor="start" stroke="#1d6354" stroke-width="0.15">• L- lodówka</text>
<text x="747.3" y="442.3" font-size="4.4" fill="#1d6354" text-anchor="start" font-weight="bold">UWAGI :</text>
<text x="747.0" y="452.6" font-size="3.66" fill="#1d5a4e" text-anchor="start" stroke="#1d5a4e" stroke-width="0.12">• izolację przeciwwilgociową pionową wyprowadzić min. 30 cm ponad teren,</text>
<text x="747.0" y="457.72" font-size="3.66" fill="#1d5a4e" text-anchor="start" stroke="#1d5a4e" stroke-width="0.12">wokół budynku wykonać opaskę ze żwiru szer. min. 50cm, a w razie potrzeby</text>
<text x="747.0" y="462.84000000000003" font-size="3.66" fill="#1d5a4e" text-anchor="start" stroke="#1d5a4e" stroke-width="0.12">wykonać drenaż opaskowy,</text>
<text x="747.0" y="467.96000000000004" font-size="3.66" fill="#1d5a4e" text-anchor="start" stroke="#1d5a4e" stroke-width="0.12">• taras i podest wejściowy dylatować, posadzki tarasu i podestu wejściowego</text>
<text x="747.0" y="473.08000000000004" font-size="3.66" fill="#1d5a4e" text-anchor="start" stroke="#1d5a4e" stroke-width="0.12">wykonać  z płyt tarasowych mrozoodpornych i antypoślizgowych</text>
<text x="747.0" y="478.20000000000005" font-size="3.66" fill="#1d5a4e" text-anchor="start" stroke="#1d5a4e" stroke-width="0.12">• wokół otworów okiennych wykonać węgarki z materiału termoizolacyjnego o</text>
<text x="747.0" y="483.32000000000005" font-size="3.66" fill="#1d5a4e" text-anchor="start" stroke="#1d5a4e" stroke-width="0.12">szer. 3/4 ościeżnicy</text>
<text x="747.0" y="488.44000000000005" font-size="3.66" fill="#1d5a4e" text-anchor="start" stroke="#1d5a4e" stroke-width="0.12">• wszystkie przejścia instalacyjne w ścianach zewn. należy zaizolować przez</text>
<text x="747.0" y="493.56" font-size="3.66" fill="#1d5a4e" text-anchor="start" stroke="#1d5a4e" stroke-width="0.12">odpowiednie uszczelnienie i zalanie lepikiem.</text>
<text x="747.0" y="498.68" font-size="3.66" fill="#1d5a4e" text-anchor="start" stroke="#1d5a4e" stroke-width="0.12">• poziomy instalacji   wg projektów branżowych,  lokalizacja wodomierza,</text>
<text x="747.0" y="503.8" font-size="3.66" fill="#1d5a4e" text-anchor="start" stroke="#1d5a4e" stroke-width="0.12">rozdzielni wg projektów branżowych</text>
<line x1="348.3" y1="114.6" x2="348.3" y2="147.2" stroke="#111" stroke-width="0.9"/>
<polygon points="348.3,114.60000000000001 334.6,121.4 348.3,128.20000000000002" fill="none" stroke="#111" stroke-width="0.8"/>
<text x="342.5" y="135.3" font-size="9.6" fill="#000" text-anchor="middle" stroke="#000" stroke-width="0.2">A1</text>
<line x1="602.8" y1="114.6" x2="602.8" y2="147.2" stroke="#111" stroke-width="0.9"/>
<polygon points="602.8,114.60000000000001 589.6,121.4 602.8,128.20000000000002" fill="none" stroke="#111" stroke-width="0.8"/>
<text x="594" y="134.5" font-size="9.6" fill="#000" text-anchor="middle" stroke="#000" stroke-width="0.2">A</text>
<line x1="298.2" y1="590.2" x2="298.2" y2="624.4" stroke="#111" stroke-width="0.9"/>
<polygon points="298.2,610.8000000000001 284.3,617.6 298.2,624.4" fill="none" stroke="#111" stroke-width="0.8"/>
<text x="291.5" y="612" font-size="9.6" fill="#000" text-anchor="middle" stroke="#000" stroke-width="0.2">A1</text>
<line x1="552.3" y1="590.2" x2="552.3" y2="624.0" stroke="#111" stroke-width="0.9"/>
<polygon points="552.3,610.4000000000001 538.6,617.2 552.3,624.0" fill="none" stroke="#111" stroke-width="0.8"/>
<text x="545.3" y="611" font-size="9.6" fill="#000" text-anchor="middle" stroke="#000" stroke-width="0.2">A</text>
<line x1="217.4" y1="406.5" x2="250.7" y2="406.5" stroke="#111" stroke-width="0.9"/>
<polygon points="217.4,406.5 224.4,392.8 231.5,406.5" fill="none" stroke="#111" stroke-width="0.8"/>
<text x="226.6" y="417" font-size="9.6" fill="#000" text-anchor="middle">B</text>
<line x1="703.7" y1="406.7" x2="732.2" y2="406.7" stroke="#111" stroke-width="0.9"/>
<polygon points="717.6,406.7 724.7,393.2 732.2,406.7" fill="none" stroke="#111" stroke-width="0.8"/>
<text x="722.8" y="416.8" font-size="9.6" fill="#000" text-anchor="middle">B</text>
<text x="206.3" y="327" font-size="4.3" font-weight="bold" fill="#111" textLength="99" lengthAdjust="spacingAndGlyphs" transform="rotate(-90 206.3 327)">W przypadku zabudowy 2 lokalami l.2 scienna</text>
<text x="213.6" y="327" font-size="4.3" font-weight="bold" fill="#111" textLength="73.3" lengthAdjust="spacingAndGlyphs" transform="rotate(-90 213.6 327)">która bez okapien a. z dylatacją 2cm</text>
<line x1="207.4" y1="224" x2="207.4" y2="330" stroke="#111" stroke-width="0.6"/>
<line x1="207.4" y1="330" x2="251.5" y2="351.5" stroke="#111" stroke-width="0.6"/>
<polygon points="251.5,351.5 248.3,348.4 247.2,350.9" fill="#111" stroke="#111" stroke-width="0.3"/>
<text x="741.6" y="329" font-size="4.3" font-weight="bold" fill="#111" textLength="101" lengthAdjust="spacingAndGlyphs" transform="rotate(-90 741.6 329)">W przypadku zabudowy 2 lokalami l.2 scienna</text>
<text x="748.9" y="329" font-size="4.3" font-weight="bold" fill="#111" textLength="74.7" lengthAdjust="spacingAndGlyphs" transform="rotate(-90 748.9 329)">która bez okapien a. z dylatacją 2cm</text>
<line x1="742.6" y1="225" x2="742.6" y2="331" stroke="#111" stroke-width="0.6"/>
<line x1="742.6" y1="331" x2="703" y2="351" stroke="#111" stroke-width="0.6"/>
<polygon points="703,351 706.4,347.8 707.4,350.6" fill="#111" stroke="#111" stroke-width="0.3"/>
<line x1="250.7" y1="239.9" x2="481.4" y2="239.9" stroke="#2f6b5e" stroke-width="1.0"/>
<line x1="703.7" y1="239.9" x2="473.0" y2="239.9" stroke="#2f6b5e" stroke-width="1.0"/>
<circle cx="250.7" cy="239.9" r="0.9" fill="#2f6b5e" stroke="none" stroke-width="0.8"/>
<circle cx="703.7" cy="239.9" r="0.9" fill="#2f6b5e" stroke="none" stroke-width="0.8"/>
<circle cx="264.6" cy="239.9" r="0.9" fill="#2f6b5e" stroke="none" stroke-width="0.8"/>
<circle cx="689.8" cy="239.9" r="0.9" fill="#2f6b5e" stroke="none" stroke-width="0.8"/>
<circle cx="315.8" cy="239.9" r="0.9" fill="#2f6b5e" stroke="none" stroke-width="0.8"/>
<circle cx="638.6" cy="239.9" r="0.9" fill="#2f6b5e" stroke="none" stroke-width="0.8"/>
<circle cx="441.5" cy="239.9" r="0.9" fill="#2f6b5e" stroke="none" stroke-width="0.8"/>
<circle cx="512.9" cy="239.9" r="0.9" fill="#2f6b5e" stroke="none" stroke-width="0.8"/>
<circle cx="473.0" cy="239.9" r="0.9" fill="#2f6b5e" stroke="none" stroke-width="0.8"/>
<circle cx="481.4" cy="239.9" r="0.9" fill="#2f6b5e" stroke="none" stroke-width="0.8"/>
<line x1="315.8" y1="230" x2="315.8" y2="241.2" stroke="#2f6b5e" stroke-width="1.0"/>
<line x1="638.6" y1="230" x2="638.6" y2="241.2" stroke="#2f6b5e" stroke-width="1.0"/>
<line x1="441.5" y1="230" x2="441.5" y2="241.2" stroke="#2f6b5e" stroke-width="1.0"/>
<line x1="512.9" y1="230" x2="512.9" y2="241.2" stroke="#2f6b5e" stroke-width="1.0"/>
<text x="247.4" y="241.6" font-size="5.0" fill="#1a5e50" text-anchor="middle" stroke="#1a5e50" stroke-width="0.22">15</text>
<text x="707.0" y="241.6" font-size="5.0" fill="#1a5e50" text-anchor="middle" stroke="#1a5e50" stroke-width="0.22">15</text>
<rect x="257.6" y="236.6" width="6" height="5.8" fill="#e4f1ee" stroke="none" stroke-width="0.8"/>
<rect x="690.8" y="236.6" width="6" height="5.8" fill="#e4f1ee" stroke="none" stroke-width="0.8"/>
<text x="260.6" y="241.6" font-size="5.0" fill="#1a5e50" text-anchor="middle" stroke="#1a5e50" stroke-width="0.22">24</text>
<text x="693.8" y="241.6" font-size="5.0" fill="#1a5e50" text-anchor="middle" stroke="#1a5e50" stroke-width="0.22">24</text>
<text x="290.5" y="238.4" font-size="5.6" fill="#1a5e50" text-anchor="middle" stroke="#1a5e50" stroke-width="0.22">147</text>
<text x="378.6" y="238.4" font-size="5.6" fill="#1a5e50" text-anchor="middle" stroke="#1a5e50" stroke-width="0.22">360</text>
<text x="457.5" y="238.4" font-size="5.6" fill="#1a5e50" text-anchor="middle" stroke="#1a5e50" stroke-width="0.22">89</text>
<text x="496.9" y="238.4" font-size="5.6" fill="#1a5e50" text-anchor="middle" stroke="#1a5e50" stroke-width="0.22">89</text>
<rect x="474.2" y="236.6" width="6" height="5.8" fill="#e4f1ee" stroke="none" stroke-width="0.8"/>
<text x="477.2" y="241.6" font-size="5.0" fill="#1a5e50" text-anchor="middle" stroke="#1a5e50" stroke-width="0.22">24</text>
<text x="589" y="238.4" font-size="5.6" fill="#1a5e50" text-anchor="middle" stroke="#1a5e50" stroke-width="0.22">507</text>
<line x1="250.7" y1="319" x2="703.7" y2="319" stroke="#2f6b5e" stroke-width="1.0"/>
<circle cx="264.6" cy="319" r="0.9" fill="#2f6b5e" stroke="none" stroke-width="0.8"/>
<circle cx="441.9" cy="319" r="0.9" fill="#2f6b5e" stroke="none" stroke-width="0.8"/>
<circle cx="473.0" cy="319" r="0.9" fill="#2f6b5e" stroke="none" stroke-width="0.8"/>
<circle cx="481.4" cy="319" r="0.9" fill="#2f6b5e" stroke="none" stroke-width="0.8"/>
<circle cx="689.8" cy="319" r="0.9" fill="#2f6b5e" stroke="none" stroke-width="0.8"/>
<rect x="255.6" y="316" width="7" height="5.6" fill="#e4f1ee" stroke="none" stroke-width="0.8"/>
<rect x="691.8" y="316" width="7" height="5.6" fill="#e4f1ee" stroke="none" stroke-width="0.8"/>
<text x="259" y="320.8" font-size="5.0" fill="#1a5e50" text-anchor="middle" stroke="#1a5e50" stroke-width="0.22">39</text>
<text x="695.4" y="320.8" font-size="5.0" fill="#1a5e50" text-anchor="middle" stroke="#1a5e50" stroke-width="0.22">39</text>
<text x="353" y="317.5" font-size="5.6" fill="#1a5e50" text-anchor="middle" stroke="#1a5e50" stroke-width="0.22">506</text>
<text x="459.5" y="317.5" font-size="5.6" fill="#1a5e50" text-anchor="middle" stroke="#1a5e50" stroke-width="0.22">90</text>
<text x="585.5" y="317.5" font-size="5.6" fill="#1a5e50" text-anchor="middle" stroke="#1a5e50" stroke-width="0.22">596</text>
<rect x="474.2" y="315.8" width="6" height="5.8" fill="#e4f1ee" stroke="none" stroke-width="0.8"/>
<text x="477.2" y="320.8" font-size="5.0" fill="#1a5e50" text-anchor="middle" stroke="#1a5e50" stroke-width="0.22">24</text>
<line x1="250.7" y1="356.9" x2="405.4" y2="356.9" stroke="#2f6b5e" stroke-width="1.0"/>
<line x1="703.7" y1="356.9" x2="549.0" y2="356.9" stroke="#2f6b5e" stroke-width="1.0"/>
<circle cx="264.6" cy="356.9" r="0.9" fill="#2f6b5e" stroke="none" stroke-width="0.8"/>
<circle cx="689.8" cy="356.9" r="0.9" fill="#2f6b5e" stroke="none" stroke-width="0.8"/>
<circle cx="405.4" cy="356.9" r="0.9" fill="#2f6b5e" stroke="none" stroke-width="0.8"/>
<circle cx="549.0" cy="356.9" r="0.9" fill="#2f6b5e" stroke="none" stroke-width="0.8"/>
<rect x="255.6" y="354" width="7" height="5.6" fill="#e4f1ee" stroke="none" stroke-width="0.8"/>
<rect x="691.8" y="354" width="7" height="5.6" fill="#e4f1ee" stroke="none" stroke-width="0.8"/>
<text x="259" y="358.7" font-size="5.0" fill="#1a5e50" text-anchor="middle" stroke="#1a5e50" stroke-width="0.22">39</text>
<text x="695.4" y="358.7" font-size="5.0" fill="#1a5e50" text-anchor="middle" stroke="#1a5e50" stroke-width="0.22">39</text>
<text x="335.5" y="355.4" font-size="5.6" fill="#1a5e50" text-anchor="middle" stroke="#1a5e50" stroke-width="0.22">404</text>
<text x="609" y="355.4" font-size="5.6" fill="#1a5e50" text-anchor="middle" stroke="#1a5e50" stroke-width="0.22">404</text>
<line x1="405.4" y1="356.9" x2="473" y2="356.9" stroke="#2f6b5e" stroke-width="0.9"/>
<line x1="549.0" y1="356.9" x2="481.4" y2="356.9" stroke="#2f6b5e" stroke-width="0.9"/>
<line x1="407" y1="334.2" x2="455" y2="334.2" stroke="#2f6b5e" stroke-width="1.0"/>
<line x1="547.4" y1="334.2" x2="499.4" y2="334.2" stroke="#2f6b5e" stroke-width="1.0"/>
<circle cx="407" cy="334.2" r="0.9" fill="#2f6b5e" stroke="none" stroke-width="0.8"/>
<circle cx="547.4" cy="334.2" r="0.9" fill="#2f6b5e" stroke="none" stroke-width="0.8"/>
<circle cx="416" cy="334.2" r="0.9" fill="#2f6b5e" stroke="none" stroke-width="0.8"/>
<circle cx="538.4" cy="334.2" r="0.9" fill="#2f6b5e" stroke="none" stroke-width="0.8"/>
<circle cx="455" cy="334.2" r="0.9" fill="#2f6b5e" stroke="none" stroke-width="0.8"/>
<circle cx="499.4" cy="334.2" r="0.9" fill="#2f6b5e" stroke="none" stroke-width="0.8"/>
<line x1="416" y1="330" x2="416" y2="347" stroke="#2f6b5e" stroke-width="0.9"/>
<line x1="538.4" y1="330" x2="538.4" y2="347" stroke="#2f6b5e" stroke-width="0.9"/>
<text x="411.8" y="332.6" font-size="4.8" fill="#1a5e50" text-anchor="middle" stroke="#1a5e50" stroke-width="0.22">25</text>
<text x="542.6" y="332.6" font-size="4.8" fill="#1a5e50" text-anchor="middle" stroke="#1a5e50" stroke-width="0.22">25</text>
<text x="428.5" y="332.8" font-size="5.0" fill="#1a5e50" text-anchor="middle" stroke="#1a5e50" stroke-width="0.22">73</text>
<text x="525.9" y="332.8" font-size="5.0" fill="#1a5e50" text-anchor="middle" stroke="#1a5e50" stroke-width="0.22">73</text>
<line x1="250.7" y1="416.3" x2="473" y2="416.3" stroke="#2f6b5e" stroke-width="1.0"/>
<line x1="703.7" y1="416.3" x2="481.4" y2="416.3" stroke="#2f6b5e" stroke-width="1.0"/>
<circle cx="264.6" cy="416.3" r="0.9" fill="#2f6b5e" stroke="none" stroke-width="0.8"/>
<circle cx="689.8" cy="416.3" r="0.9" fill="#2f6b5e" stroke="none" stroke-width="0.8"/>
<circle cx="348.3" cy="416.3" r="0.9" fill="#2f6b5e" stroke="none" stroke-width="0.8"/>
<circle cx="606.1" cy="416.3" r="0.9" fill="#2f6b5e" stroke="none" stroke-width="0.8"/>
<circle cx="372.8" cy="416.3" r="0.9" fill="#2f6b5e" stroke="none" stroke-width="0.8"/>
<circle cx="581.6" cy="416.3" r="0.9" fill="#2f6b5e" stroke="none" stroke-width="0.8"/>
<circle cx="421" cy="416.3" r="0.9" fill="#2f6b5e" stroke="none" stroke-width="0.8"/>
<circle cx="533.4" cy="416.3" r="0.9" fill="#2f6b5e" stroke="none" stroke-width="0.8"/>
<circle cx="434.6" cy="416.3" r="0.9" fill="#2f6b5e" stroke="none" stroke-width="0.8"/>
<circle cx="519.8" cy="416.3" r="0.9" fill="#2f6b5e" stroke="none" stroke-width="0.8"/>
<circle cx="462" cy="416.3" r="0.9" fill="#2f6b5e" stroke="none" stroke-width="0.8"/>
<circle cx="492.4" cy="416.3" r="0.9" fill="#2f6b5e" stroke="none" stroke-width="0.8"/>
<rect x="255.6" y="413.4" width="7" height="5.6" fill="#e4f1ee" stroke="none" stroke-width="0.8"/>
<rect x="691.8" y="413.4" width="7" height="5.6" fill="#e4f1ee" stroke="none" stroke-width="0.8"/>
<text x="259" y="418.2" font-size="5.0" fill="#1a5e50" text-anchor="middle" stroke="#1a5e50" stroke-width="0.22">39</text>
<text x="695.4" y="418.2" font-size="5.0" fill="#1a5e50" text-anchor="middle" stroke="#1a5e50" stroke-width="0.22">39</text>
<line x1="348.3" y1="412" x2="348.3" y2="421" stroke="#2f6b5e" stroke-width="0.9"/>
<line x1="606.1" y1="412" x2="606.1" y2="421" stroke="#2f6b5e" stroke-width="0.9"/>
<line x1="372.8" y1="412" x2="372.8" y2="421" stroke="#2f6b5e" stroke-width="0.9"/>
<line x1="581.6" y1="412" x2="581.6" y2="421" stroke="#2f6b5e" stroke-width="0.9"/>
<text x="307" y="414.8" font-size="5.6" fill="#1a5e50" text-anchor="middle" stroke="#1a5e50" stroke-width="0.22">240</text>
<text x="648.4" y="414.8" font-size="5.6" fill="#1a5e50" text-anchor="middle" stroke="#1a5e50" stroke-width="0.22">243</text>
<text x="360.5" y="414.8" font-size="5.6" fill="#1a5e50" text-anchor="middle" stroke="#1a5e50" stroke-width="0.22">70</text>
<text x="593.9" y="414.8" font-size="5.6" fill="#1a5e50" text-anchor="middle" stroke="#1a5e50" stroke-width="0.22">70</text>
<text x="393.7" y="414.8" font-size="5.0" fill="#1a5e50" text-anchor="middle" stroke="#1a5e50" stroke-width="0.22">138</text>
<text x="560.7" y="414.8" font-size="5.0" fill="#1a5e50" text-anchor="middle" stroke="#1a5e50" stroke-width="0.22">138</text>
<text x="447" y="415.5" font-size="4.6" fill="#1a5e50" text-anchor="middle" stroke="#1a5e50" stroke-width="0.22">140</text>
<text x="507.4" y="415.5" font-size="4.6" fill="#1a5e50" text-anchor="middle" stroke="#1a5e50" stroke-width="0.22">140</text>
<line x1="285.9" y1="456.2" x2="370.4" y2="456.2" stroke="#2f6b5e" stroke-width="1.0"/>
<line x1="668.5" y1="456.2" x2="584.0" y2="456.2" stroke="#2f6b5e" stroke-width="1.0"/>
<circle cx="285.9" cy="456.2" r="0.9" fill="#2f6b5e" stroke="none" stroke-width="0.8"/>
<circle cx="668.5" cy="456.2" r="0.9" fill="#2f6b5e" stroke="none" stroke-width="0.8"/>
<circle cx="370.4" cy="456.2" r="0.9" fill="#2f6b5e" stroke="none" stroke-width="0.8"/>
<circle cx="584.0" cy="456.2" r="0.9" fill="#2f6b5e" stroke="none" stroke-width="0.8"/>
<text x="317.7" y="454.7" font-size="5.6" fill="#1a5e50" text-anchor="middle" stroke="#1a5e50" stroke-width="0.22">302</text>
<text x="636.7" y="454.7" font-size="5.6" fill="#1a5e50" text-anchor="middle" stroke="#1a5e50" stroke-width="0.22">302</text>
<text x="369.3" y="454.7" font-size="4.8" fill="#1a5e50" text-anchor="middle" stroke="#1a5e50" stroke-width="0.22">8</text>
<text x="585.1" y="454.7" font-size="4.8" fill="#1a5e50" text-anchor="middle" stroke="#1a5e50" stroke-width="0.22">8</text>
<text x="378" y="454.7" font-size="4.8" fill="#1a5e50" text-anchor="middle" stroke="#1a5e50" stroke-width="0.22">25</text>
<text x="576.4" y="454.7" font-size="4.8" fill="#1a5e50" text-anchor="middle" stroke="#1a5e50" stroke-width="0.22">25</text>
<line x1="370.4" y1="456.2" x2="473" y2="456.2" stroke="#2f6b5e" stroke-width="1.0"/>
<line x1="584.0" y1="456.2" x2="481.4" y2="456.2" stroke="#2f6b5e" stroke-width="1.0"/>
<circle cx="373.3" cy="456.2" r="0.9" fill="#2f6b5e" stroke="none" stroke-width="0.8"/>
<circle cx="581.1" cy="456.2" r="0.9" fill="#2f6b5e" stroke="none" stroke-width="0.8"/>
<circle cx="383.3" cy="456.2" r="0.9" fill="#2f6b5e" stroke="none" stroke-width="0.8"/>
<circle cx="571.1" cy="456.2" r="0.9" fill="#2f6b5e" stroke="none" stroke-width="0.8"/>
<circle cx="420.9" cy="456.2" r="0.9" fill="#2f6b5e" stroke="none" stroke-width="0.8"/>
<circle cx="533.5" cy="456.2" r="0.9" fill="#2f6b5e" stroke="none" stroke-width="0.8"/>
<circle cx="423.9" cy="456.2" r="0.9" fill="#2f6b5e" stroke="none" stroke-width="0.8"/>
<circle cx="530.5" cy="456.2" r="0.9" fill="#2f6b5e" stroke="none" stroke-width="0.8"/>
<line x1="383.3" y1="452" x2="383.3" y2="462" stroke="#2f6b5e" stroke-width="0.9"/>
<line x1="571.1" y1="452" x2="571.1" y2="462" stroke="#2f6b5e" stroke-width="0.9"/>
<text x="401.5" y="454.7" font-size="4.8" fill="#1a5e50" text-anchor="middle" stroke="#1a5e50" stroke-width="0.22">100</text>
<text x="417.5" y="454.7" font-size="4.6" fill="#1a5e50" text-anchor="middle" stroke="#1a5e50" stroke-width="0.22">13</text>
<text x="427.8" y="454.7" font-size="4.6" fill="#1a5e50" text-anchor="middle" stroke="#1a5e50" stroke-width="0.22">8</text>
<text x="448.5" y="454.7" font-size="4.8" fill="#1a5e50" text-anchor="middle" stroke="#1a5e50" stroke-width="0.22">140</text>
<text x="506.3" y="454.7" font-size="4.8" fill="#1a5e50" text-anchor="middle" stroke="#1a5e50" stroke-width="0.22">140</text>
<text x="535.6" y="454.7" font-size="4.6" fill="#1a5e50" text-anchor="middle" stroke="#1a5e50" stroke-width="0.22">8</text>
<text x="557.8" y="454.7" font-size="4.8" fill="#1a5e50" text-anchor="middle" stroke="#1a5e50" stroke-width="0.22">138</text>
<line x1="373.3" y1="483.3" x2="473" y2="483.3" stroke="#2f6b5e" stroke-width="1.0"/>
<line x1="581.1" y1="483.3" x2="481.4" y2="483.3" stroke="#2f6b5e" stroke-width="1.0"/>
<circle cx="373.3" cy="483.3" r="0.9" fill="#2f6b5e" stroke="none" stroke-width="0.8"/>
<circle cx="581.1" cy="483.3" r="0.9" fill="#2f6b5e" stroke="none" stroke-width="0.8"/>
<text x="424" y="481.8" font-size="5.6" fill="#1a5e50" text-anchor="middle" stroke="#1a5e50" stroke-width="0.22">286</text>
<text x="530.4" y="481.8" font-size="5.6" fill="#1a5e50" text-anchor="middle" stroke="#1a5e50" stroke-width="0.22">286</text>
<rect x="474.2" y="480.2" width="6" height="5.8" fill="#e4f1ee" stroke="none" stroke-width="0.8"/>
<text x="477.2" y="485.2" font-size="5.0" fill="#1a5e50" text-anchor="middle" stroke="#1a5e50" stroke-width="0.22">24</text>
<line x1="264.6" y1="504.4" x2="473" y2="504.4" stroke="#2f6b5e" stroke-width="1.0"/>
<line x1="689.8" y1="504.4" x2="481.4" y2="504.4" stroke="#2f6b5e" stroke-width="1.0"/>
<circle cx="287.1" cy="504.4" r="0.9" fill="#2f6b5e" stroke="none" stroke-width="0.8"/>
<circle cx="667.3" cy="504.4" r="0.9" fill="#2f6b5e" stroke="none" stroke-width="0.8"/>
<circle cx="336.6" cy="504.4" r="0.9" fill="#2f6b5e" stroke="none" stroke-width="0.8"/>
<circle cx="617.8" cy="504.4" r="0.9" fill="#2f6b5e" stroke="none" stroke-width="0.8"/>
<circle cx="370.4" cy="504.4" r="0.9" fill="#2f6b5e" stroke="none" stroke-width="0.8"/>
<circle cx="584.0" cy="504.4" r="0.9" fill="#2f6b5e" stroke="none" stroke-width="0.8"/>
<circle cx="373.3" cy="504.4" r="0.9" fill="#2f6b5e" stroke="none" stroke-width="0.8"/>
<circle cx="581.1" cy="504.4" r="0.9" fill="#2f6b5e" stroke="none" stroke-width="0.8"/>
<circle cx="382" cy="504.4" r="0.9" fill="#2f6b5e" stroke="none" stroke-width="0.8"/>
<circle cx="572.4" cy="504.4" r="0.9" fill="#2f6b5e" stroke="none" stroke-width="0.8"/>
<circle cx="434.4" cy="504.4" r="0.9" fill="#2f6b5e" stroke="none" stroke-width="0.8"/>
<circle cx="520.0" cy="504.4" r="0.9" fill="#2f6b5e" stroke="none" stroke-width="0.8"/>
<line x1="287.1" y1="500" x2="287.1" y2="516" stroke="#2f6b5e" stroke-width="0.9"/>
<line x1="667.3" y1="500" x2="667.3" y2="516" stroke="#2f6b5e" stroke-width="0.9"/>
<line x1="336.6" y1="500" x2="336.6" y2="516" stroke="#2f6b5e" stroke-width="0.9"/>
<line x1="617.8" y1="500" x2="617.8" y2="516" stroke="#2f6b5e" stroke-width="0.9"/>
<line x1="382" y1="501" x2="382" y2="516" stroke="#2f6b5e" stroke-width="0.9"/>
<line x1="572.4" y1="501" x2="572.4" y2="516" stroke="#2f6b5e" stroke-width="0.9"/>
<line x1="434.4" y1="501" x2="434.4" y2="516" stroke="#2f6b5e" stroke-width="0.9"/>
<line x1="520.0" y1="501" x2="520.0" y2="516" stroke="#2f6b5e" stroke-width="0.9"/>
<text x="275.5" y="502.9" font-size="5.6" fill="#1a5e50" text-anchor="middle" stroke="#1a5e50" stroke-width="0.22">65</text>
<text x="678.9" y="502.9" font-size="5.6" fill="#1a5e50" text-anchor="middle" stroke="#1a5e50" stroke-width="0.22">65</text>
<text x="353.3" y="502.9" font-size="5.6" fill="#1a5e50" text-anchor="middle" stroke="#1a5e50" stroke-width="0.22">97</text>
<text x="601.1" y="502.9" font-size="5.6" fill="#1a5e50" text-anchor="middle" stroke="#1a5e50" stroke-width="0.22">97</text>
<text x="368.8" y="502.9" font-size="4.8" fill="#1a5e50" text-anchor="middle" stroke="#1a5e50" stroke-width="0.22">8</text>
<text x="585.6" y="502.9" font-size="4.8" fill="#1a5e50" text-anchor="middle" stroke="#1a5e50" stroke-width="0.22">8</text>
<text x="378.2" y="502.9" font-size="4.8" fill="#1a5e50" text-anchor="middle" stroke="#1a5e50" stroke-width="0.22">25</text>
<text x="576.2" y="502.9" font-size="4.8" fill="#1a5e50" text-anchor="middle" stroke="#1a5e50" stroke-width="0.22">25</text>
<text x="408.5" y="502.9" font-size="5.6" fill="#1a5e50" text-anchor="middle" stroke="#1a5e50" stroke-width="0.22">150</text>
<text x="545.9" y="502.9" font-size="5.6" fill="#1a5e50" text-anchor="middle" stroke="#1a5e50" stroke-width="0.22">150</text>
<text x="455" y="502.9" font-size="5.6" fill="#1a5e50" text-anchor="middle" stroke="#1a5e50" stroke-width="0.22">111</text>
<text x="499.4" y="502.9" font-size="5.6" fill="#1a5e50" text-anchor="middle" stroke="#1a5e50" stroke-width="0.22">111</text>
<rect x="474.2" y="500.6" width="6" height="5.8" fill="#e4f1ee" stroke="none" stroke-width="0.8"/>
<text x="477.2" y="505.6" font-size="5.0" fill="#1a5e50" text-anchor="middle" stroke="#1a5e50" stroke-width="0.22">24</text>
<rect x="306.5" y="499.2" width="10" height="5" fill="#fff" stroke="none" stroke-width="0.8"/>
<rect x="637.9" y="499.2" width="10" height="5" fill="#fff" stroke="none" stroke-width="0.8"/>
<line x1="461.9" y1="220.3" x2="461.9" y2="520" stroke="#2f6b5e" stroke-width="1.0"/>
<line x1="492.5" y1="220.3" x2="492.5" y2="520" stroke="#2f6b5e" stroke-width="1.0"/>
<text x="460.5" y="283" font-size="5.6" fill="#1a5e50" text-anchor="middle" transform="rotate(-90 460.5 283)" stroke="#1a5e50" stroke-width="0.22">347</text>
<line x1="441.9" y1="312" x2="441.9" y2="347" stroke="#2f6b5e" stroke-width="1.0"/>
<line x1="512.5" y1="312" x2="512.5" y2="347" stroke="#2f6b5e" stroke-width="1.0"/>
<line x1="434.6" y1="416" x2="434.6" y2="463" stroke="#2f6b5e" stroke-width="0.9"/>
<line x1="519.8" y1="416" x2="519.8" y2="463" stroke="#2f6b5e" stroke-width="0.9"/>
<line x1="420.9" y1="416" x2="420.9" y2="437" stroke="#2f6b5e" stroke-width="0.9"/>
<line x1="533.5" y1="416" x2="533.5" y2="437" stroke="#2f6b5e" stroke-width="0.9"/>
<text x="460.6" y="383" font-size="4.6" fill="#1a5e50" text-anchor="middle" transform="rotate(-90 460.6 383)" stroke="#1a5e50" stroke-width="0.22">215</text>
<text x="496.8" y="383" font-size="4.6" fill="#1a5e50" text-anchor="middle" transform="rotate(-90 496.8 383)" stroke="#1a5e50" stroke-width="0.22">215</text>
<text x="460.6" y="408" font-size="4.6" fill="#1a5e50" text-anchor="middle" transform="rotate(-90 460.6 408)" stroke="#1a5e50" stroke-width="0.22">92</text>
<text x="496.8" y="408" font-size="4.6" fill="#1a5e50" text-anchor="middle" transform="rotate(-90 496.8 408)" stroke="#1a5e50" stroke-width="0.22">92</text>
<text x="433.2" y="446" font-size="4.4" fill="#1a5e50" text-anchor="middle" transform="rotate(-90 433.2 446)" stroke="#1a5e50" stroke-width="0.22">125</text>
<text x="524.2" y="446" font-size="4.4" fill="#1a5e50" text-anchor="middle" transform="rotate(-90 524.2 446)" stroke="#1a5e50" stroke-width="0.22">125</text>
<text x="419.6" y="433" font-size="4.4" fill="#1a5e50" text-anchor="middle" transform="rotate(-90 419.6 433)" stroke="#1a5e50" stroke-width="0.22">25</text>
<text x="537.8" y="433" font-size="4.4" fill="#1a5e50" text-anchor="middle" transform="rotate(-90 537.8 433)" stroke="#1a5e50" stroke-width="0.22">25</text>
<text x="429.5" y="437.6" font-size="4.6" fill="#1a5e50" text-anchor="middle" stroke="#1a5e50" stroke-width="0.22">25</text>
<text x="524.9" y="437.6" font-size="4.6" fill="#1a5e50" text-anchor="middle" stroke="#1a5e50" stroke-width="0.22">25</text>
<text x="453" y="435.8" font-size="5.0" fill="#1a5e50" text-anchor="middle" stroke="#1a5e50" stroke-width="0.22">123</text>
<text x="501.4" y="435.8" font-size="5.0" fill="#1a5e50" text-anchor="middle" stroke="#1a5e50" stroke-width="0.22">123</text>
<text x="437.5" y="350.5" font-size="4.4" fill="#1a5e50" text-anchor="middle" transform="rotate(-90 437.5 350.5)" stroke="#1a5e50" stroke-width="0.22">25</text>
<text x="519.9" y="350.5" font-size="4.4" fill="#1a5e50" text-anchor="middle" transform="rotate(-90 519.9 350.5)" stroke="#1a5e50" stroke-width="0.22">25</text>
<text x="437.5" y="371" font-size="4.4" fill="#1a5e50" text-anchor="middle" transform="rotate(-90 437.5 371)" stroke="#1a5e50" stroke-width="0.22">25</text>
<text x="519.9" y="371" font-size="4.4" fill="#1a5e50" text-anchor="middle" transform="rotate(-90 519.9 371)" stroke="#1a5e50" stroke-width="0.22">25</text>
<text x="452" y="354.5" font-size="4.8" fill="#1a5e50" text-anchor="middle" stroke="#1a5e50" stroke-width="0.22">82</text>
<text x="502.4" y="354.5" font-size="4.8" fill="#1a5e50" text-anchor="middle" stroke="#1a5e50" stroke-width="0.22">82</text>
<text x="425.2" y="355.3" font-size="4.8" fill="#1a5e50" text-anchor="middle" stroke="#1a5e50" stroke-width="0.22">110</text>
<text x="531.6" y="355.3" font-size="4.8" fill="#1a5e50" text-anchor="middle" stroke="#1a5e50" stroke-width="0.22">102</text>
<rect x="474.2" y="347.9" width="6" height="5.8" fill="#e4f1ee" stroke="none" stroke-width="0.8"/>
<text x="477.2" y="352.5" font-size="5.0" fill="#1a5e50" text-anchor="middle" stroke="#1a5e50" stroke-width="0.22">24</text>
<rect x="474.2" y="403.4" width="6" height="5.8" fill="#e4f1ee" stroke="none" stroke-width="0.8"/>
<text x="477.2" y="408" font-size="5.0" fill="#1a5e50" text-anchor="middle" stroke="#1a5e50" stroke-width="0.22">24</text>
<rect x="474.2" y="443.4" width="6" height="5.8" fill="#e4f1ee" stroke="none" stroke-width="0.8"/>
<text x="477.2" y="448" font-size="5.0" fill="#1a5e50" text-anchor="middle" stroke="#1a5e50" stroke-width="0.22">24</text>
<text x="457.6" y="441.2" font-size="4.4" fill="#1a5e50" text-anchor="middle" stroke="#1a5e50" stroke-width="0.22">25</text>
<text x="496.8" y="441.2" font-size="4.4" fill="#1a5e50" text-anchor="middle" stroke="#1a5e50" stroke-width="0.22">25</text>
<line x1="566.8" y1="347.8" x2="566.8" y2="421" stroke="#2f6b5e" stroke-width="0.9"/>
<circle cx="566.8" cy="347.8" r="0.9" fill="#2f6b5e" stroke="none" stroke-width="0.8"/>
<line x1="556.2" y1="347.8" x2="568.5" y2="347.8" stroke="#2f6b5e" stroke-width="0.8"/>
<circle cx="566.8" cy="379.3" r="0.9" fill="#2f6b5e" stroke="none" stroke-width="0.8"/>
<line x1="556.2" y1="379.3" x2="568.5" y2="379.3" stroke="#2f6b5e" stroke-width="0.8"/>
<circle cx="566.8" cy="389.5" r="0.9" fill="#2f6b5e" stroke="none" stroke-width="0.8"/>
<line x1="556.2" y1="389.5" x2="568.5" y2="389.5" stroke="#2f6b5e" stroke-width="0.8"/>
<circle cx="566.8" cy="421.3" r="0.9" fill="#2f6b5e" stroke="none" stroke-width="0.8"/>
<line x1="556.2" y1="421.3" x2="568.5" y2="421.3" stroke="#2f6b5e" stroke-width="0.8"/>
<text x="565.6" y="364" font-size="4.8" fill="#1a5e50" text-anchor="middle" transform="rotate(-90 565.6 364)" stroke="#1a5e50" stroke-width="0.22">90</text>
<text x="565.6" y="384.5" font-size="4.4" fill="#1a5e50" text-anchor="middle" transform="rotate(-90 565.6 384.5)" stroke="#1a5e50" stroke-width="0.22">30</text>
<text x="565.6" y="405.5" font-size="4.8" fill="#1a5e50" text-anchor="middle" transform="rotate(-90 565.6 405.5)" stroke="#1a5e50" stroke-width="0.22">92</text>
<line x1="278.7" y1="341.5" x2="424" y2="341.5" stroke="#222" stroke-width="0.9" stroke-dasharray="11.7 9.2"/>
<line x1="675.7" y1="341.5" x2="530.4" y2="341.5" stroke="#222" stroke-width="0.9" stroke-dasharray="11.7 9.2"/>
<line x1="278.7" y1="347.8" x2="405" y2="347.8" stroke="#222" stroke-width="0.9" stroke-dasharray="11.7 9.2"/>
<line x1="675.7" y1="347.8" x2="549.4" y2="347.8" stroke="#222" stroke-width="0.9" stroke-dasharray="11.7 9.2"/>
<line x1="250.7" y1="344.5" x2="435" y2="344.5" stroke="#333" stroke-width="0.8" stroke-dasharray="10 2.5 1.5 2.5"/>
<line x1="703.7" y1="344.5" x2="519.4" y2="344.5" stroke="#333" stroke-width="0.8" stroke-dasharray="10 2.5 1.5 2.5"/>
<rect x="261" y="341.5" width="3.6" height="6.3" fill="none" stroke="#222" stroke-width="0.7"/>
<rect x="689.8" y="341.5" width="3.6" height="6.3" fill="none" stroke="#222" stroke-width="0.7"/>
<rect x="441.2" y="341.3" width="31.8" height="6.5" fill="none" stroke="#000" stroke-width="0.9"/>
<rect x="481.4" y="341.3" width="31.8" height="6.5" fill="none" stroke="#000" stroke-width="0.9"/>
<line x1="426" y1="341.4" x2="441.2" y2="341.4" stroke="#000" stroke-width="0.9"/>
<line x1="528.4" y1="341.4" x2="513.2" y2="341.4" stroke="#000" stroke-width="0.9"/>
<line x1="426" y1="347.6" x2="441.2" y2="347.6" stroke="#000" stroke-width="0.9"/>
<line x1="528.4" y1="347.6" x2="513.2" y2="347.6" stroke="#000" stroke-width="0.9"/>
<rect x="440.6" y="347.8" width="3.4" height="44" fill="#222" stroke="#000" stroke-width="0.5"/>
<rect x="510.4" y="347.8" width="3.4" height="44" fill="#222" stroke="#000" stroke-width="0.5"/>
<rect x="422" y="389.6" width="22" height="2.8" fill="#222" stroke="#000" stroke-width="0.5"/>
<rect x="510.4" y="389.6" width="22" height="2.8" fill="#222" stroke="#000" stroke-width="0.5"/>
<rect x="405.4" y="347.8" width="35.2" height="31.5" fill="none" stroke="#000" stroke-width="1.0"/>
<rect x="513.8" y="347.8" width="35.2" height="31.5" fill="none" stroke="#000" stroke-width="1.0"/>
<line x1="414.6" y1="347.8" x2="414.6" y2="379.3" stroke="#000" stroke-width="0.7"/>
<line x1="539.8" y1="347.8" x2="539.8" y2="379.3" stroke="#000" stroke-width="0.7"/>
<line x1="423.2" y1="347.8" x2="423.2" y2="379.3" stroke="#000" stroke-width="0.7"/>
<line x1="531.2" y1="347.8" x2="531.2" y2="379.3" stroke="#000" stroke-width="0.7"/>
<line x1="431.6" y1="347.8" x2="431.6" y2="379.3" stroke="#000" stroke-width="0.7"/>
<line x1="522.8" y1="347.8" x2="522.8" y2="379.3" stroke="#000" stroke-width="0.7"/>
<line x1="405.4" y1="363.5" x2="440.6" y2="363.5" stroke="#000" stroke-width="0.8"/>
<line x1="549.0" y1="363.5" x2="513.8" y2="363.5" stroke="#000" stroke-width="0.8"/>
<line x1="405.4" y1="372.3" x2="440.6" y2="372.3" stroke="#000" stroke-width="0.8"/>
<line x1="549.0" y1="372.3" x2="513.8" y2="372.3" stroke="#000" stroke-width="0.8"/>
<text x="417" y="370.6" font-size="6.6" fill="#000" text-anchor="middle" font-weight="bold" stroke="#000" stroke-width="0.25">1/2 SCH.</text>
<text x="529.5" y="370.6" font-size="6.6" fill="#000" text-anchor="middle" font-weight="bold" stroke="#000" stroke-width="0.25">1/2 SCH.</text>
<text x="419.5" y="378.8" font-size="6.4" fill="#000" text-anchor="middle" font-weight="bold" stroke="#000" stroke-width="0.2">1,84 m</text>
<text x="531.2" y="378.8" font-size="6.4" fill="#000" text-anchor="middle" font-weight="bold" stroke="#000" stroke-width="0.2">1,84 m</text>
<text x="426" y="361.2" font-size="3.6" fill="#000" text-anchor="middle">18x17,5x27</text>
<text x="528.4" y="361.2" font-size="3.6" fill="#000" text-anchor="middle">18x17,5x27</text>
<line x1="432" y1="379" x2="444" y2="352" stroke="#222" stroke-width="0.6"/>
<line x1="522.4" y1="379" x2="510.4" y2="352" stroke="#222" stroke-width="0.6"/>
<line x1="436" y1="379" x2="447" y2="355" stroke="#222" stroke-width="0.6"/>
<line x1="518.4" y1="379" x2="507.4" y2="355" stroke="#222" stroke-width="0.6"/>
<line x1="446" y1="358" x2="472" y2="376" stroke="#111" stroke-width="0.9" stroke-dasharray="4 2.5"/>
<line x1="508.4" y1="358" x2="482.4" y2="376" stroke="#111" stroke-width="0.9" stroke-dasharray="4 2.5"/>
<line x1="446" y1="376" x2="472" y2="352" stroke="#111" stroke-width="0.9" stroke-dasharray="4 2.5"/>
<line x1="508.4" y1="376" x2="482.4" y2="352" stroke="#111" stroke-width="0.9" stroke-dasharray="4 2.5"/>
<line x1="444" y1="380.5" x2="473" y2="380.5" stroke="#111" stroke-width="0.9" stroke-dasharray="6 3"/>
<line x1="510.4" y1="380.5" x2="481.4" y2="380.5" stroke="#111" stroke-width="0.9" stroke-dasharray="6 3"/>
<line x1="444" y1="389.5" x2="473" y2="389.5" stroke="#111" stroke-width="0.9" stroke-dasharray="6 3"/>
<line x1="510.4" y1="389.5" x2="481.4" y2="389.5" stroke="#111" stroke-width="0.9" stroke-dasharray="6 3"/>
<line x1="447" y1="392" x2="473" y2="416" stroke="#111" stroke-width="0.8" stroke-dasharray="3 4"/>
<line x1="507.4" y1="392" x2="481.4" y2="416" stroke="#111" stroke-width="0.8" stroke-dasharray="3 4"/>
<rect x="405.4" y="389.5" width="38.6" height="31.3" fill="none" stroke="#111" stroke-width="0.9" stroke-dasharray="3.2 2.4"/>
<rect x="510.4" y="389.5" width="38.6" height="31.3" fill="none" stroke="#111" stroke-width="0.9" stroke-dasharray="3.2 2.4"/>
<line x1="414" y1="389.5" x2="414" y2="420.8" stroke="#111" stroke-width="0.9" stroke-dasharray="3.2 5"/>
<line x1="540.4" y1="389.5" x2="540.4" y2="420.8" stroke="#111" stroke-width="0.9" stroke-dasharray="3.2 5"/>
<line x1="422.6" y1="389.5" x2="422.6" y2="420.8" stroke="#111" stroke-width="0.9" stroke-dasharray="3.2 5"/>
<line x1="531.8" y1="389.5" x2="531.8" y2="420.8" stroke="#111" stroke-width="0.9" stroke-dasharray="3.2 5"/>
<line x1="431.4" y1="389.5" x2="431.4" y2="420.8" stroke="#111" stroke-width="0.9" stroke-dasharray="3.2 5"/>
<line x1="523.0" y1="389.5" x2="523.0" y2="420.8" stroke="#111" stroke-width="0.9" stroke-dasharray="3.2 5"/>
<line x1="440" y1="389.5" x2="440" y2="420.8" stroke="#111" stroke-width="0.9" stroke-dasharray="3.2 5"/>
<line x1="514.4" y1="389.5" x2="514.4" y2="420.8" stroke="#111" stroke-width="0.9" stroke-dasharray="3.2 5"/>
<path d="M422,393 L413,404 L420.5,411.5" fill="none" stroke="#111" stroke-width="1.0"/>
<g transform="translate(954.4,0) scale(-1,1)"><path d="M422,393 L413,404 L420.5,411.5" fill="none" stroke="#111" stroke-width="1.0"/></g>
<polygon points="406,401 412.5,398.5 411,404" fill="none" stroke="#333" stroke-width="0.5"/>
<polygon points="548.4,401 541.9,398.5 543.4,404" fill="none" stroke="#333" stroke-width="0.5"/>
<circle cx="400.2" cy="407.1" r="5.0" fill="none" stroke="#111" stroke-width="0.9"/>
<circle cx="554.2" cy="407.1" r="5.0" fill="none" stroke="#111" stroke-width="0.9"/>
<text x="401.9" y="407.1" font-size="4.8" fill="#000" text-anchor="middle" transform="rotate(-90 401.9 407.1)">D4</text>
<text x="555.9000000000001" y="407.1" font-size="4.8" fill="#000" text-anchor="middle" transform="rotate(-90 555.9000000000001 407.1)">D4</text>
<text x="407.6" y="413.4" font-size="3.8" fill="#222" text-anchor="middle">209</text>
<text x="546.8" y="413.4" font-size="3.8" fill="#222" text-anchor="middle">209</text>
<circle cx="464.2" cy="331.6" r="9.0" fill="#fff" stroke="#111" stroke-width="1.2"/>
<circle cx="490.2" cy="331.6" r="9.0" fill="#fff" stroke="#111" stroke-width="1.2"/>
<rect x="460.9" y="329.6" width="10.9" height="11.2" fill="#0a0a0a" stroke="none" stroke-width="0.8"/>
<rect x="482.6" y="329.6" width="10.9" height="11.2" fill="#0a0a0a" stroke="none" stroke-width="0.8"/>
<path d="M456.6,327 C459,321 469.5,321 472,327" fill="none" stroke="#111" stroke-width="1.6"/>
<g transform="translate(954.4,0) scale(-1,1)"><path d="M456.6,327 C459,321 469.5,321 472,327" fill="none" stroke="#111" stroke-width="1.6"/></g>
<line x1="461.5" y1="334.4" x2="471.5" y2="334.4" stroke="#4a6a62" stroke-width="0.6"/>
<line x1="492.9" y1="334.4" x2="482.9" y2="334.4" stroke="#4a6a62" stroke-width="0.6"/>
<line x1="462" y1="327.3" x2="470.5" y2="327.3" stroke="#555" stroke-width="0.7"/>
<line x1="492.4" y1="327.3" x2="483.9" y2="327.3" stroke="#555" stroke-width="0.7"/>
<rect x="473.0" y="322" width="8.399999999999977" height="20" fill="none" stroke="none" stroke-width="0.8"/>
<text x="419.5" y="324.2" font-size="3.3" fill="#1d5a4e" text-anchor="start" font-weight="bold">kanka powietrzna</text>
<text x="419.5" y="327.8" font-size="3.3" fill="#1d5a4e" text-anchor="start" font-weight="bold">od stropu</text>
<path d="M444.5,324 H449.4 L455.3,329.8" fill="none" stroke="#333" stroke-width="0.5"/>
<text x="510" y="324.2" font-size="3.3" fill="#1d5a4e" text-anchor="start" font-weight="bold">kanka powietrzna</text>
<text x="510" y="327.8" font-size="3.3" fill="#1d5a4e" text-anchor="start" font-weight="bold">od stropu</text>
<path d="M509,324 H505 L499.5,329.8" fill="none" stroke="#333" stroke-width="0.5"/>
<text x="275.5" y="410.3" font-size="3.3" fill="#1d5a4e" text-anchor="start" font-weight="bold">kanka powietrzna</text>
<text x="275.5" y="413.90000000000003" font-size="3.3" fill="#1d5a4e" text-anchor="start" font-weight="bold">od stropu</text>
<path d="M275,410 H271.5 L269.5,428" fill="none" stroke="#2f6b5e" stroke-width="0.6"/>
<text x="658" y="418.6" font-size="3.3" fill="#1d5a4e" text-anchor="start" font-weight="bold">kanka powietrzna</text>
<text x="658" y="422.20000000000005" font-size="3.3" fill="#1d5a4e" text-anchor="start" font-weight="bold">od stropu</text>
<path d="M682.5,419 H686 L688,428" fill="none" stroke="#2f6b5e" stroke-width="0.6"/>
<text x="488.2" y="428.6" font-size="3.3" fill="#1d5a4e" text-anchor="start" font-weight="bold">kanka powietrzna</text>
<text x="488.2" y="432.20000000000005" font-size="3.3" fill="#1d5a4e" text-anchor="start" font-weight="bold">od stropu</text>
<path d="M482.2,427.6 L485.7,440.5 M482.2,427.6 L480,440.5" fill="none" stroke="#1d5a4e" stroke-width="0.6"/>
<line x1="261" y1="421.3" x2="286.5" y2="421.3" stroke="#222" stroke-width="0.9"/>
<line x1="693.4" y1="421.3" x2="667.9" y2="421.3" stroke="#222" stroke-width="0.9"/>
<line x1="299.3" y1="421.4" x2="348" y2="421.4" stroke="#222" stroke-width="0.9" stroke-dasharray="10 10"/>
<line x1="655.1" y1="421.4" x2="606.4" y2="421.4" stroke="#222" stroke-width="0.9" stroke-dasharray="10 10"/>
<line x1="261" y1="426.5" x2="266" y2="426.5" stroke="#222" stroke-width="0.9"/>
<line x1="693.4" y1="426.5" x2="688.4" y2="426.5" stroke="#222" stroke-width="0.9"/>
<line x1="277.5" y1="426.5" x2="348" y2="426.5" stroke="#222" stroke-width="0.9" stroke-dasharray="10 10"/>
<line x1="676.9" y1="426.5" x2="606.4" y2="426.5" stroke="#222" stroke-width="0.9" stroke-dasharray="10 10"/>
<line x1="250.7" y1="424.2" x2="473" y2="424.2" stroke="#333" stroke-width="0.8" stroke-dasharray="10 2.5 1.5 2.5"/>
<line x1="703.7" y1="424.2" x2="481.4" y2="424.2" stroke="#333" stroke-width="0.8" stroke-dasharray="10 2.5 1.5 2.5"/>
<rect x="348.1" y="421.3" width="24.6" height="5.6" fill="none" stroke="#000" stroke-width="0.9"/>
<rect x="581.7" y="421.3" width="24.6" height="5.6" fill="none" stroke="#000" stroke-width="0.9"/>
<line x1="373" y1="421.6" x2="405" y2="421.6" stroke="#222" stroke-width="0.9" stroke-dasharray="9 4"/>
<line x1="581.4" y1="421.6" x2="549.4" y2="421.6" stroke="#222" stroke-width="0.9" stroke-dasharray="9 4"/>
<line x1="373" y1="426.4" x2="405" y2="426.4" stroke="#222" stroke-width="0.9" stroke-dasharray="9 4"/>
<line x1="581.4" y1="426.4" x2="549.4" y2="426.4" stroke="#222" stroke-width="0.9" stroke-dasharray="9 4"/>
<line x1="405" y1="421.3" x2="473" y2="421.3" stroke="#000" stroke-width="1.4"/>
<line x1="549.4" y1="421.3" x2="481.4" y2="421.3" stroke="#000" stroke-width="1.4"/>
<line x1="405" y1="426.5" x2="473" y2="426.5" stroke="#000" stroke-width="1.4"/>
<line x1="549.4" y1="426.5" x2="481.4" y2="426.5" stroke="#000" stroke-width="1.4"/>
<line x1="405" y1="424" x2="473" y2="424" stroke="#222" stroke-width="0.8" stroke-dasharray="4 2"/>
<line x1="549.4" y1="424" x2="481.4" y2="424" stroke="#222" stroke-width="0.8" stroke-dasharray="4 2"/>
<line x1="405.4" y1="416" x2="405.4" y2="421.3" stroke="#111" stroke-width="0.9"/>
<line x1="549.0" y1="416" x2="549.0" y2="421.3" stroke="#111" stroke-width="0.9"/>
<line x1="414" y1="416" x2="414" y2="421.3" stroke="#111" stroke-width="0.9"/>
<line x1="540.4" y1="416" x2="540.4" y2="421.3" stroke="#111" stroke-width="0.9"/>
<line x1="422.6" y1="416" x2="422.6" y2="421.3" stroke="#111" stroke-width="0.9"/>
<line x1="531.8" y1="416" x2="531.8" y2="421.3" stroke="#111" stroke-width="0.9"/>
<line x1="431.4" y1="416" x2="431.4" y2="421.3" stroke="#111" stroke-width="0.9"/>
<line x1="523.0" y1="416" x2="523.0" y2="421.3" stroke="#111" stroke-width="0.9"/>
<rect x="370.4" y="426.7" width="2.9" height="89.3" fill="#fff" stroke="#111" stroke-width="0.8"/>
<rect x="581.1" y="426.7" width="2.9" height="89.3" fill="#fff" stroke="#111" stroke-width="0.8"/>
<line x1="371.85" y1="427" x2="371.85" y2="516" stroke="#222" stroke-width="0.7" stroke-dasharray="2.5 1.5"/>
<line x1="582.55" y1="427" x2="582.55" y2="516" stroke="#222" stroke-width="0.7" stroke-dasharray="2.5 1.5"/>
<rect x="373.3" y="461.2" width="10" height="3.2" fill="#fff" stroke="#000" stroke-width="1.1"/>
<rect x="571.1" y="461.2" width="10" height="3.2" fill="#fff" stroke="#000" stroke-width="1.1"/>
<line x1="373.3" y1="462.8" x2="383.3" y2="462.8" stroke="#222" stroke-width="0.7" stroke-dasharray="2.5 1.5"/>
<line x1="581.1" y1="462.8" x2="571.1" y2="462.8" stroke="#222" stroke-width="0.7" stroke-dasharray="2.5 1.5"/>
<rect x="415.4" y="461.2" width="57.6" height="3.2" fill="#fff" stroke="#000" stroke-width="1.1"/>
<rect x="481.4" y="461.2" width="57.6" height="3.2" fill="#fff" stroke="#000" stroke-width="1.1"/>
<line x1="415.4" y1="462.8" x2="473" y2="462.8" stroke="#222" stroke-width="0.7" stroke-dasharray="2.5 1.5"/>
<line x1="539.0" y1="462.8" x2="481.4" y2="462.8" stroke="#222" stroke-width="0.7" stroke-dasharray="2.5 1.5"/>
<rect x="383.3" y="461.2" width="1.8" height="3.2" fill="#000" stroke="none" stroke-width="0.8"/>
<rect x="569.3" y="461.2" width="1.8" height="3.2" fill="#000" stroke="none" stroke-width="0.8"/>
<rect x="413.6" y="461.2" width="1.8" height="3.2" fill="#000" stroke="none" stroke-width="0.8"/>
<rect x="539.0" y="461.2" width="1.8" height="3.2" fill="#000" stroke="none" stroke-width="0.8"/>
<rect x="421.0" y="426.7" width="2.9" height="6" fill="#fff" stroke="#111" stroke-width="0.8"/>
<rect x="530.5" y="426.7" width="2.9" height="6" fill="#fff" stroke="#111" stroke-width="0.8"/>
<rect x="421.0" y="456.5" width="2.9" height="5" fill="#fff" stroke="#111" stroke-width="0.8"/>
<rect x="530.5" y="456.5" width="2.9" height="5" fill="#fff" stroke="#111" stroke-width="0.8"/>
<line x1="423.8" y1="445" x2="423.8" y2="461" stroke="#111" stroke-width="0.8"/>
<line x1="530.6" y1="445" x2="530.6" y2="461" stroke="#111" stroke-width="0.8"/>
<path d="M383.4,464 V495.5 C400,494 414,482 415.4,464" fill="none" stroke="#222" stroke-width="0.8"/>
<g transform="translate(954.4,0) scale(-1,1)"><path d="M383.4,464 V495.5 C400,494 414,482 415.4,464" fill="none" stroke="#222" stroke-width="0.8"/></g>
<path d="M421,456.5 H393.5 C394.5,443 404,431 420,427.5" fill="none" stroke="#222" stroke-width="0.8"/>
<g transform="translate(954.4,0) scale(-1,1)"><path d="M421,456.5 H393.5 C394.5,443 404,431 420,427.5" fill="none" stroke="#222" stroke-width="0.8"/></g>
<circle cx="399.3" cy="478.4" r="5.0" fill="none" stroke="#111" stroke-width="0.9"/>
<circle cx="555.1" cy="478.4" r="5.0" fill="none" stroke="#111" stroke-width="0.9"/>
<text x="399.3" y="480.1" font-size="4.8" fill="#000" text-anchor="middle">D1</text>
<text x="555.1" y="480.1" font-size="4.8" fill="#000" text-anchor="middle">D1</text>
<line x1="399.3" y1="456.5" x2="399.3" y2="473.4" stroke="#222" stroke-width="0.8"/>
<line x1="555.1" y1="456.5" x2="555.1" y2="473.4" stroke="#222" stroke-width="0.8"/>
<text x="396.8" y="469.3" font-size="4.6" fill="#111" text-anchor="middle" transform="rotate(-90 396.8 469.3)">90</text>
<text x="552.0" y="469.3" font-size="4.6" fill="#111" text-anchor="middle" transform="rotate(-90 552.0 469.3)">90</text>
<text x="406.0" y="469.3" font-size="4.6" fill="#111" text-anchor="middle" transform="rotate(-90 406.0 469.3)">205</text>
<text x="561.4" y="469.3" font-size="4.6" fill="#111" text-anchor="middle" transform="rotate(-90 561.4 469.3)">205</text>
<circle cx="407.2" cy="443.3" r="5.0" fill="none" stroke="#111" stroke-width="0.9"/>
<circle cx="547.2" cy="443.3" r="5.0" fill="none" stroke="#111" stroke-width="0.9"/>
<text x="408.9" y="443.3" font-size="4.8" fill="#000" text-anchor="middle" transform="rotate(-90 408.9 443.3)">D3</text>
<text x="548.9000000000001" y="443.3" font-size="4.8" fill="#000" text-anchor="middle" transform="rotate(-90 548.9000000000001 443.3)">D3</text>
<text x="415.5" y="441.3" font-size="4.8" fill="#111" text-anchor="middle">80</text>
<text x="540" y="441.3" font-size="4.8" fill="#111" text-anchor="middle">80</text>
<text x="417" y="449.6" font-size="4.8" fill="#111" text-anchor="middle">200</text>
<text x="537.6" y="449.6" font-size="4.8" fill="#111" text-anchor="middle">200</text>
<line x1="412.5" y1="443.3" x2="428" y2="443.3" stroke="#222" stroke-width="0.6"/>
<line x1="541.9" y1="443.3" x2="526.4" y2="443.3" stroke="#222" stroke-width="0.6"/>
<ellipse cx="440.7" cy="430.2" rx="6.2" ry="4.8" fill="#fff" stroke="#222" stroke-width="0.8"/>
<ellipse cx="513.7" cy="430.2" rx="6.2" ry="4.8" fill="#fff" stroke="#222" stroke-width="0.8"/>
<ellipse cx="440.7" cy="430.4" rx="4.4" ry="3.2" fill="none" stroke="#222" stroke-width="0.6"/>
<ellipse cx="513.7" cy="430.4" rx="4.4" ry="3.2" fill="none" stroke="#222" stroke-width="0.6"/>
<rect x="434.5" y="426.7" width="12.4" height="2.4" fill="#fff" stroke="#222" stroke-width="0.6"/>
<rect x="507.5" y="426.7" width="12.4" height="2.4" fill="#fff" stroke="#222" stroke-width="0.6"/>
<line x1="441.6" y1="423" x2="441.6" y2="432" stroke="#000" stroke-width="1.3"/>
<line x1="512.8" y1="423" x2="512.8" y2="432" stroke="#000" stroke-width="1.3"/>
<rect x="454.6" y="443" width="15" height="12.2" fill="none" stroke="#222" stroke-width="0.9" rx="2.5"/>
<rect x="484.8" y="443" width="15" height="12.2" fill="none" stroke="#222" stroke-width="0.9" rx="2.5"/>
<rect x="465.5" y="441.3" width="7.5" height="3.3" fill="#444" stroke="#111" stroke-width="0.5"/>
<rect x="481.4" y="441.3" width="7.5" height="3.3" fill="#444" stroke="#111" stroke-width="0.5"/>
<line x1="468.5" y1="426.7" x2="471.5" y2="441.5" stroke="#333" stroke-width="0.6"/>
<line x1="485.9" y1="426.7" x2="482.9" y2="441.5" stroke="#333" stroke-width="0.6"/>
<text x="464.2" y="460.3" font-size="4.6" fill="#222" text-anchor="middle" font-weight="bold">K2</text>
<text x="490.2" y="460.3" font-size="4.6" fill="#222" text-anchor="middle" font-weight="bold">K2</text>
<circle cx="470.2" cy="459.3" r="1.6" fill="#333" stroke="#111" stroke-width="0.4"/>
<circle cx="484.2" cy="459.3" r="1.6" fill="#333" stroke="#111" stroke-width="0.4"/>
<rect x="462" y="466.8" width="9.6" height="27" fill="none" stroke="#222" stroke-width="0.8"/>
<rect x="455.2" y="466.8" width="6.8" height="27" fill="none" stroke="#222" stroke-width="0.8"/>
<rect x="482.8" y="466.8" width="15.8" height="27" fill="none" stroke="#222" stroke-width="0.8"/>
<text x="466.9" y="490.5" font-size="6" fill="#1a5e50" text-anchor="middle" stroke="#1a5e50" stroke-width="0.22">PC</text>
<text x="490.8" y="490.5" font-size="6" fill="#1a5e50" text-anchor="middle" stroke="#1a5e50" stroke-width="0.22">PC</text>
<text x="460.4" y="488.8" font-size="3.8" fill="#1a5e50" text-anchor="middle" transform="rotate(-90 460.4 488.8)" stroke="#1a5e50" stroke-width="0.22">54</text>
<text transform="translate(364.6,298.6) scale(0.875,1)" font-size="7.18" font-weight="bold" fill="#000" stroke="#000" stroke-width="0.28" text-anchor="middle">POKÓJDZIENNY</text>
<line x1="340.1" y1="299.85" x2="389.1" y2="299.85" stroke="#000" stroke-width="0.9"/>
<text transform="translate(364.6,307.1) scale(0.875,1)" font-size="6.9799999999999995" fill="#111" font-weight="bold" stroke="#111" stroke-width="0.15" text-anchor="middle">28,17 <tspan font-style="italic">m</tspan><tspan font-size="4" dy="-2.8">2</tspan></text>
<text transform="translate(590.2,298.6) scale(0.875,1)" font-size="7.18" font-weight="bold" fill="#000" stroke="#000" stroke-width="0.28" text-anchor="middle">POKÓJDZIENNY</text>
<line x1="565.7" y1="299.85" x2="614.7" y2="299.85" stroke="#000" stroke-width="0.9"/>
<text transform="translate(590.2,307.1) scale(0.875,1)" font-size="6.9799999999999995" fill="#111" font-weight="bold" stroke="#111" stroke-width="0.15" text-anchor="middle">28,17 <tspan font-style="italic">m</tspan><tspan font-size="4" dy="-2.8">2</tspan></text>
<text transform="translate(333.8,432.4) scale(0.875,1)" font-size="7.52" font-weight="bold" fill="#000" stroke="#000" stroke-width="0.28" text-anchor="middle">KUCHNIA</text>
<line x1="319.3" y1="433.65" x2="348.3" y2="433.65" stroke="#000" stroke-width="0.9"/>
<text transform="translate(333.8,441.0) scale(0.875,1)" font-size="7.319999999999999" fill="#111" font-weight="bold" stroke="#111" stroke-width="0.15" text-anchor="middle">7,77 <tspan font-style="italic">m</tspan><tspan font-size="4" dy="-2.8">2</tspan></text>
<text transform="translate(620.6,432.4) scale(0.875,1)" font-size="7.52" font-weight="bold" fill="#000" stroke="#000" stroke-width="0.28" text-anchor="middle">KUCHNIA</text>
<line x1="606.1" y1="433.65" x2="635.1" y2="433.65" stroke="#000" stroke-width="0.9"/>
<text transform="translate(620.6,441.0) scale(0.875,1)" font-size="7.319999999999999" fill="#111" font-weight="bold" stroke="#111" stroke-width="0.15" text-anchor="middle">7,77 <tspan font-style="italic">m</tspan><tspan font-size="4" dy="-2.8">2</tspan></text>
<text transform="translate(397.3,428.6) scale(0.875,1)" font-size="7.52" font-weight="bold" fill="#000" stroke="#000" stroke-width="0.28" text-anchor="middle">HOL</text>
<line x1="391.05" y1="429.85" x2="403.55" y2="429.85" stroke="#000" stroke-width="0.9"/>
<text transform="translate(397.3,437.20000000000005) scale(0.875,1)" font-size="7.319999999999999" fill="#111" font-weight="bold" stroke="#111" stroke-width="0.15" text-anchor="middle">4,19 <tspan font-style="italic">m</tspan><tspan font-size="4" dy="-2.8">2</tspan></text>
<text transform="translate(557.1,428.6) scale(0.875,1)" font-size="7.52" font-weight="bold" fill="#000" stroke="#000" stroke-width="0.28" text-anchor="middle">HOL</text>
<line x1="550.85" y1="429.85" x2="563.35" y2="429.85" stroke="#000" stroke-width="0.9"/>
<text transform="translate(557.1,437.20000000000005) scale(0.875,1)" font-size="7.319999999999999" fill="#111" font-weight="bold" stroke="#111" stroke-width="0.15" text-anchor="middle">4,19 <tspan font-style="italic">m</tspan><tspan font-size="4" dy="-2.8">2</tspan></text>
<text transform="translate(444.3,439.4) scale(0.875,1)" font-size="7.3" font-weight="bold" fill="#000" stroke="#000" stroke-width="0.28" text-anchor="middle">WC</text>
<line x1="439.8" y1="440.65" x2="448.8" y2="440.65" stroke="#000" stroke-width="0.9"/>
<text transform="translate(444.3,448.0) scale(0.875,1)" font-size="7.1" fill="#111" font-weight="bold" stroke="#111" stroke-width="0.15" text-anchor="middle">1,45 <tspan font-style="italic">m</tspan><tspan font-size="4" dy="-2.8">2</tspan></text>
<text transform="translate(512.7,439.4) scale(0.875,1)" font-size="7.3" font-weight="bold" fill="#000" stroke="#000" stroke-width="0.28" text-anchor="middle">WC</text>
<line x1="508.20000000000005" y1="440.65" x2="517.2" y2="440.65" stroke="#000" stroke-width="0.9"/>
<text transform="translate(512.7,448.0) scale(0.875,1)" font-size="7.1" fill="#111" font-weight="bold" stroke="#111" stroke-width="0.15" text-anchor="middle">1,45 <tspan font-style="italic">m</tspan><tspan font-size="4" dy="-2.8">2</tspan></text>
<text transform="translate(432.5,489.4) scale(0.875,1)" font-size="7.52" font-weight="bold" fill="#000" stroke="#000" stroke-width="0.28" text-anchor="middle">WIATROŁAP</text>
<line x1="414.0" y1="490.65" x2="451.0" y2="490.65" stroke="#000" stroke-width="0.9"/>
<text transform="translate(432.5,498.2) scale(0.875,1)" font-size="7.319999999999999" fill="#111" font-weight="bold" stroke="#111" stroke-width="0.15" text-anchor="middle">4,12 <tspan font-style="italic">m</tspan><tspan font-size="4" dy="-2.8">2</tspan></text>
<text transform="translate(521.9,489.4) scale(0.875,1)" font-size="7.52" font-weight="bold" fill="#000" stroke="#000" stroke-width="0.28" text-anchor="middle">WIATROŁAP</text>
<line x1="503.4" y1="490.65" x2="540.4" y2="490.65" stroke="#000" stroke-width="0.9"/>
<text transform="translate(521.9,498.2) scale(0.875,1)" font-size="7.319999999999999" fill="#111" font-weight="bold" stroke="#111" stroke-width="0.15" text-anchor="middle">4,12 <tspan font-style="italic">m</tspan><tspan font-size="4" dy="-2.8">2</tspan></text>
<text transform="translate(396.3,541.6) scale(0.875,1)" font-size="7.52" font-weight="bold" fill="#000" stroke="#000" stroke-width="0.28" text-anchor="middle">PODEST</text>
<line x1="384.05" y1="542.85" x2="408.55" y2="542.85" stroke="#000" stroke-width="0.9"/>
<text transform="translate(396.3,550.2) scale(0.875,1)" font-size="7.319999999999999" fill="#111" font-weight="bold" stroke="#111" stroke-width="0.15" text-anchor="middle">2,70 <tspan font-style="italic">m</tspan><tspan font-size="4" dy="-2.8">2</tspan></text>
<text transform="translate(558.1,541.6) scale(0.875,1)" font-size="7.52" font-weight="bold" fill="#000" stroke="#000" stroke-width="0.28" text-anchor="middle">PODEST</text>
<line x1="545.85" y1="542.85" x2="570.35" y2="542.85" stroke="#000" stroke-width="0.9"/>
<text transform="translate(558.1,550.2) scale(0.875,1)" font-size="7.319999999999999" fill="#111" font-weight="bold" stroke="#111" stroke-width="0.15" text-anchor="middle">2,70 <tspan font-style="italic">m</tspan><tspan font-size="4" dy="-2.8">2</tspan></text>
<text transform="translate(431.0,193.2) scale(0.875,1)" font-size="7.52" font-weight="bold" fill="#000" stroke="#000" stroke-width="0.28" text-anchor="middle">TARAS</text>
<line x1="421.0" y1="194.45" x2="441.0" y2="194.45" stroke="#000" stroke-width="0.9"/>
<text transform="translate(431.0,202.39999999999998) scale(0.875,1)" font-size="7.319999999999999" fill="#111" font-weight="bold" stroke="#111" stroke-width="0.15" text-anchor="middle">8,17 <tspan font-style="italic">m</tspan><tspan font-size="4" dy="-2.8">2</tspan></text>
<text transform="translate(522.8,193.2) scale(0.875,1)" font-size="7.52" font-weight="bold" fill="#000" stroke="#000" stroke-width="0.28" text-anchor="middle">TARAS</text>
<line x1="512.8" y1="194.45" x2="532.8" y2="194.45" stroke="#000" stroke-width="0.9"/>
<text transform="translate(522.8,202.39999999999998) scale(0.875,1)" font-size="7.319999999999999" fill="#111" font-weight="bold" stroke="#111" stroke-width="0.15" text-anchor="middle">8,17 <tspan font-style="italic">m</tspan><tspan font-size="4" dy="-2.8">2</tspan></text>
<text transform="translate(453.6,404.2) scale(0.875,1)" font-size="7.5" font-weight="bold" fill="#000" stroke="#000" stroke-width="0.28" text-anchor="middle">SCHOWEK</text>
<line x1="438" y1="405.5" x2="469.5" y2="405.5" stroke="#000" stroke-width="0.9"/>
<text transform="translate(452,412.8) scale(0.875,1)" font-size="7.3" fill="#111" font-weight="bold" text-anchor="middle">2,13 <tspan font-style="italic">m</tspan><tspan font-size="4" dy="-2.8">2</tspan></text>
<text x="491.6" y="389.6" font-size="6.6" fill="#000" text-anchor="middle" font-weight="bold" transform="rotate(-90 491.6 389.6)" stroke="#000" stroke-width="0.25">SCHOWEK</text>
<line x1="493" y1="373.5" x2="493" y2="405.8" stroke="#000" stroke-width="0.9"/>
<text x="499.3" y="389" font-size="5.8" fill="#111" text-anchor="middle" transform="rotate(-90 499.3 389)">2,13 <tspan font-style="italic">m</tspan></text>
<path d="M285.9,421.6 V494.7 H349.2 V427" fill="none" stroke="#111" stroke-width="1.0"/>
<g transform="translate(954.4,0) scale(-1,1)"><path d="M285.9,421.6 V494.7 H349.2 V427" fill="none" stroke="#111" stroke-width="1.0"/></g>
<rect x="349.2" y="427" width="21.2" height="21.3" fill="none" stroke="#222" stroke-width="0.9"/>
<rect x="584.0" y="427" width="21.2" height="21.3" fill="none" stroke="#222" stroke-width="0.9"/>
<line x1="349.2" y1="449.4" x2="370.4" y2="449.4" stroke="#222" stroke-width="0.7"/>
<line x1="605.2" y1="449.4" x2="584.0" y2="449.4" stroke="#222" stroke-width="0.7"/>
<text x="365.8" y="444" font-size="3.8" fill="#333" text-anchor="middle">L</text>
<text x="588.6" y="444" font-size="3.8" fill="#333" text-anchor="middle">L</text>
<rect x="264.9" y="447.2" width="19.4" height="20.5" fill="#fff" stroke="#000" stroke-width="1.6"/>
<rect x="670.1" y="447.2" width="19.4" height="20.5" fill="#fff" stroke="#000" stroke-width="1.6"/>
<circle cx="270" cy="453" r="2.6" fill="none" stroke="#111" stroke-width="1.1"/>
<circle cx="684.4" cy="453" r="2.6" fill="none" stroke="#111" stroke-width="1.1"/>
<circle cx="278.5" cy="453" r="2.6" fill="none" stroke="#111" stroke-width="1.1"/>
<circle cx="675.9" cy="453" r="2.6" fill="none" stroke="#111" stroke-width="1.1"/>
<circle cx="270" cy="461.8" r="2.6" fill="none" stroke="#111" stroke-width="1.1"/>
<circle cx="684.4" cy="461.8" r="2.6" fill="none" stroke="#111" stroke-width="1.1"/>
<circle cx="278.5" cy="461.8" r="2.6" fill="none" stroke="#111" stroke-width="1.1"/>
<circle cx="675.9" cy="461.8" r="2.6" fill="none" stroke="#111" stroke-width="1.1"/>
<rect x="283.0" y="449" width="2.4" height="17" fill="#000" stroke="none" stroke-width="0.8"/>
<rect x="669.0" y="449" width="2.4" height="17" fill="#000" stroke="none" stroke-width="0.8"/>
<text x="277.8" y="476.3" font-size="3.6" fill="#1a5e50" text-anchor="middle" font-weight="bold" stroke="#1a5e50" stroke-width="0.22">e/k</text>
<text x="676.6" y="476.3" font-size="3.6" fill="#1a5e50" text-anchor="middle" font-weight="bold" stroke="#1a5e50" stroke-width="0.22">e/k</text>
<rect x="266.5" y="430" width="6" height="2.2" fill="#333" stroke="none" stroke-width="0.8"/>
<rect x="681.9" y="430" width="6" height="2.2" fill="#333" stroke="none" stroke-width="0.8"/>
<rect x="266.5" y="434.5" width="6" height="2.2" fill="#555" stroke="none" stroke-width="0.8"/>
<rect x="681.9" y="434.5" width="6" height="2.2" fill="#555" stroke="none" stroke-width="0.8"/>
<path d="M267,442.5 L269.5,437.5 L272.5,442.5 Z" fill="#222" stroke="#222" stroke-width="0.5"/>
<g transform="translate(954.4,0) scale(-1,1)"><path d="M267,442.5 L269.5,437.5 L272.5,442.5 Z" fill="#222" stroke="#222" stroke-width="0.5"/></g>
<line x1="265" y1="432.5" x2="278" y2="432.5" stroke="#333" stroke-width="0.6"/>
<line x1="689.4" y1="432.5" x2="676.4" y2="432.5" stroke="#333" stroke-width="0.6"/>
<rect x="299.6" y="495.6" width="28.1" height="19.6" fill="none" stroke="#222" stroke-width="0.9"/>
<rect x="626.7" y="495.6" width="28.1" height="19.6" fill="none" stroke="#222" stroke-width="0.9"/>
<rect x="312.2" y="497.2" width="13.4" height="13.8" fill="none" stroke="#333" stroke-width="0.7" rx="0.8"/>
<rect x="628.8" y="497.2" width="13.4" height="13.8" fill="none" stroke="#333" stroke-width="0.7" rx="0.8"/>
<path d="M301.2,497.2 H311 V505.5 H306.5 V511 H301.2 Z" fill="#000" stroke="#000" stroke-width="0.4"/>
<g transform="translate(954.4,0) scale(-1,1)"><path d="M301.2,497.2 H311 V505.5 H306.5 V511 H301.2 Z" fill="#000" stroke="#000" stroke-width="0.4"/></g>
<rect x="305.5" y="505.5" width="6" height="5.5" fill="#222" stroke="none" stroke-width="0.8"/>
<rect x="642.9" y="505.5" width="6" height="5.5" fill="#222" stroke="none" stroke-width="0.8"/>
<circle cx="316.3" cy="508.3" r="1.2" fill="#555" stroke="#111" stroke-width="0.4"/>
<circle cx="638.1" cy="508.3" r="1.2" fill="#555" stroke="#111" stroke-width="0.4"/>
<line x1="316.5" y1="508" x2="311" y2="514.5" stroke="#000" stroke-width="1.3"/>
<line x1="637.9" y1="508" x2="643.4" y2="514.5" stroke="#000" stroke-width="1.3"/>
<text x="338" y="507.3" font-size="4.0" fill="#1a5e50" text-anchor="middle" font-weight="bold" stroke="#1a5e50" stroke-width="0.22">ZM</text>
<text x="616.4" y="507.3" font-size="4.0" fill="#1a5e50" text-anchor="middle" font-weight="bold" stroke="#1a5e50" stroke-width="0.22">ZM</text>
<text x="362.4" y="514.2" font-size="4.6" fill="#1d5a4e" text-anchor="middle" font-weight="bold">K1</text>
<text x="596.0" y="514.2" font-size="4.6" fill="#1d5a4e" text-anchor="middle" font-weight="bold">K1</text>
<circle cx="367.5" cy="515.2" r="1.4" fill="#333" stroke="#111" stroke-width="0.4"/>
<circle cx="586.9" cy="515.2" r="1.4" fill="#333" stroke="#111" stroke-width="0.4"/>
<rect x="438.8" y="512.8" width="15.6" height="6.8" fill="#fff" stroke="#222" stroke-width="0.8"/>
<rect x="500.0" y="512.8" width="15.6" height="6.8" fill="#fff" stroke="#222" stroke-width="0.8"/>
<text x="446.6" y="518.6" font-size="5.6" fill="#1a5e50" text-anchor="middle" stroke="#1a5e50" stroke-width="0.22">RG</text>
<text x="507.8" y="518.6" font-size="5.6" fill="#1a5e50" text-anchor="middle" stroke="#1a5e50" stroke-width="0.22">RG</text>
<circle cx="420" cy="161.9" r="3.5" fill="none" stroke="#2f6b5e" stroke-width="1.0"/>
<line x1="413" y1="161.9" x2="427" y2="161.9" stroke="#2f6b5e" stroke-width="0.9"/>
<line x1="420" y1="154.9" x2="420" y2="168.9" stroke="#2f6b5e" stroke-width="0.9"/>
<line x1="426.5" y1="161.9" x2="441.0" y2="161.9" stroke="#2f6b5e" stroke-width="0.7"/>
<text x="434.75" y="160.6" font-size="5.2" fill="#1a5e50" text-anchor="middle" stroke="#1a5e50" stroke-width="0.22">0,05</text>
<circle cx="476.59999999999997" cy="154.1" r="3.5" fill="none" stroke="#2f6b5e" stroke-width="1.0"/>
<line x1="469.59999999999997" y1="154.1" x2="483.59999999999997" y2="154.1" stroke="#2f6b5e" stroke-width="0.9"/>
<line x1="476.59999999999997" y1="147.1" x2="476.59999999999997" y2="161.1" stroke="#2f6b5e" stroke-width="0.9"/>
<line x1="483.09999999999997" y1="154.1" x2="499" y2="154.1" stroke="#2f6b5e" stroke-width="0.7"/>
<text x="493.0" y="152.79999999999998" font-size="5.2" fill="#1a5e50" text-anchor="middle" stroke="#1a5e50" stroke-width="0.22">-0,20</text>
<circle cx="618.9" cy="158.0" r="3.5" fill="none" stroke="#2f6b5e" stroke-width="1.0"/>
<line x1="611.9" y1="158.0" x2="625.9" y2="158.0" stroke="#2f6b5e" stroke-width="0.9"/>
<line x1="618.9" y1="151.0" x2="618.9" y2="165.0" stroke="#2f6b5e" stroke-width="0.9"/>
<line x1="625.4" y1="158.0" x2="640.5" y2="158.0" stroke="#2f6b5e" stroke-width="0.7"/>
<text x="634.5" y="156.7" font-size="5.2" fill="#1a5e50" text-anchor="middle" stroke="#1a5e50" stroke-width="0.22">0,05</text>
<circle cx="342.8" cy="396.8" r="3.5" fill="none" stroke="#2f6b5e" stroke-width="1.0"/>
<line x1="335.8" y1="396.8" x2="349.8" y2="396.8" stroke="#2f6b5e" stroke-width="0.9"/>
<line x1="342.8" y1="389.8" x2="342.8" y2="403.8" stroke="#2f6b5e" stroke-width="0.9"/>
<line x1="349.3" y1="396.8" x2="366.5" y2="396.8" stroke="#2f6b5e" stroke-width="0.7"/>
<text x="359.75" y="395.5" font-size="5.2" fill="#1a5e50" text-anchor="middle" stroke="#1a5e50" stroke-width="0.22">±0,00</text>
<circle cx="582.4" cy="406.5" r="3.5" fill="none" stroke="#2f6b5e" stroke-width="1.0"/>
<line x1="575.4" y1="406.5" x2="589.4" y2="406.5" stroke="#2f6b5e" stroke-width="0.9"/>
<line x1="582.4" y1="399.5" x2="582.4" y2="413.5" stroke="#2f6b5e" stroke-width="0.9"/>
<line x1="588.9" y1="406.5" x2="605.5" y2="406.5" stroke="#2f6b5e" stroke-width="0.7"/>
<text x="598.75" y="405.2" font-size="5.2" fill="#1a5e50" text-anchor="middle" stroke="#1a5e50" stroke-width="0.22">±0,00</text>
<circle cx="483.3" cy="548.2" r="3.5" fill="none" stroke="#2f6b5e" stroke-width="1.0"/>
<line x1="476.3" y1="548.2" x2="490.3" y2="548.2" stroke="#2f6b5e" stroke-width="0.9"/>
<line x1="483.3" y1="541.2" x2="483.3" y2="555.2" stroke="#2f6b5e" stroke-width="0.9"/>
<line x1="489.8" y1="548.2" x2="500" y2="548.2" stroke="#2f6b5e" stroke-width="0.7"/>
<text x="494.5" y="546.9000000000001" font-size="5.2" fill="#1a5e50" text-anchor="middle" stroke="#1a5e50" stroke-width="0.22">0,05</text>
<circle cx="489.6" cy="571.3" r="3.5" fill="none" stroke="#2f6b5e" stroke-width="1.0"/>
<line x1="482.6" y1="571.3" x2="496.6" y2="571.3" stroke="#2f6b5e" stroke-width="0.9"/>
<line x1="489.6" y1="564.3" x2="489.6" y2="578.3" stroke="#2f6b5e" stroke-width="0.9"/>
<line x1="496.1" y1="571.3" x2="508.5" y2="571.3" stroke="#2f6b5e" stroke-width="0.7"/>
<text x="502.5" y="570.0" font-size="5.2" fill="#1a5e50" text-anchor="middle" stroke="#1a5e50" stroke-width="0.22">-0,20</text>
<line x1="347.4" y1="180" x2="347.4" y2="231" stroke="#222" stroke-width="0.8"/>
<circle cx="347.4" cy="180.1" r="6.6" fill="#fff" stroke="#222" stroke-width="0.9"/>
<text x="347.4" y="181.9" font-size="5.0" fill="#000" text-anchor="middle" stroke="#000" stroke-width="0.2">O4</text>
<text x="345.8" y="192.8" font-size="4.6" fill="#000" text-anchor="middle" transform="rotate(-90 345.8 192.8)" stroke="#000" stroke-width="0.14">180</text>
<text x="353.0" y="192.8" font-size="4.6" fill="#000" text-anchor="middle" transform="rotate(-90 353.0 192.8)" stroke="#000" stroke-width="0.14">215</text>
<line x1="410.4" y1="180" x2="410.4" y2="231" stroke="#222" stroke-width="0.8"/>
<circle cx="410.4" cy="180.1" r="6.6" fill="#fff" stroke="#222" stroke-width="0.9"/>
<text x="410.4" y="181.9" font-size="5.0" fill="#000" text-anchor="middle" stroke="#000" stroke-width="0.2">OB1</text>
<text x="408.8" y="192.8" font-size="4.6" fill="#000" text-anchor="middle" transform="rotate(-90 408.8 192.8)" stroke="#000" stroke-width="0.14">180</text>
<text x="416.0" y="192.8" font-size="4.6" fill="#000" text-anchor="middle" transform="rotate(-90 416.0 192.8)" stroke="#000" stroke-width="0.14">215</text>
<line x1="607.0" y1="180" x2="607.0" y2="231" stroke="#222" stroke-width="0.8"/>
<circle cx="607.0" cy="180.1" r="6.6" fill="#fff" stroke="#222" stroke-width="0.9"/>
<text x="607.0" y="181.9" font-size="5.0" fill="#000" text-anchor="middle" stroke="#000" stroke-width="0.2">O4</text>
<text x="605.4" y="192.8" font-size="4.6" fill="#000" text-anchor="middle" transform="rotate(-90 605.4 192.8)" stroke="#000" stroke-width="0.14">180</text>
<text x="612.6" y="192.8" font-size="4.6" fill="#000" text-anchor="middle" transform="rotate(-90 612.6 192.8)" stroke="#000" stroke-width="0.14">215</text>
<line x1="544.0" y1="180" x2="544.0" y2="231" stroke="#222" stroke-width="0.8"/>
<circle cx="544.0" cy="180.1" r="6.6" fill="#fff" stroke="#222" stroke-width="0.9"/>
<text x="544.0" y="181.9" font-size="5.0" fill="#000" text-anchor="middle" stroke="#000" stroke-width="0.2">OB1</text>
<text x="542.4" y="192.8" font-size="4.6" fill="#000" text-anchor="middle" transform="rotate(-90 542.4 192.8)" stroke="#000" stroke-width="0.14">180</text>
<text x="549.6" y="192.8" font-size="4.6" fill="#000" text-anchor="middle" transform="rotate(-90 549.6 192.8)" stroke="#000" stroke-width="0.14">215</text>
<text x="347.5" y="227.6" font-size="5.0" fill="#000" text-anchor="middle" stroke="#000" stroke-width="0.2">hp 0</text>
<text x="607" y="227.6" font-size="5.0" fill="#000" text-anchor="middle" stroke="#000" stroke-width="0.2">hp 0</text>
<line x1="367.4" y1="199" x2="367.4" y2="179.5" stroke="#222" stroke-width="0.8"/>
<polygon points="367.4,177.5 366.09999999999997,182.5 368.7,182.5" fill="#222" stroke="none" stroke-width="0.8"/>
<text x="372.79999999999995" y="190" font-size="4.2" fill="#222" text-anchor="middle" transform="rotate(-90 372.79999999999995 190)">1%</text>
<line x1="583.3" y1="199" x2="583.3" y2="179.5" stroke="#222" stroke-width="0.8"/>
<polygon points="583.3,177.5 582.0,182.5 584.5999999999999,182.5" fill="#222" stroke="none" stroke-width="0.8"/>
<text x="588.6999999999999" y="190" font-size="4.2" fill="#222" text-anchor="middle" transform="rotate(-90 588.6999999999999 190)">1%</text>
<line x1="311.9" y1="509" x2="311.9" y2="555" stroke="#222" stroke-width="0.8"/>
<circle cx="311.9" cy="555.7" r="6.8" fill="#fff" stroke="#222" stroke-width="0.9"/>
<text x="311.9" y="557.5" font-size="5.0" fill="#000" text-anchor="middle" stroke="#000" stroke-width="0.2">O1</text>
<text x="308.5" y="540" font-size="4.6" fill="#000" text-anchor="middle" transform="rotate(-90 308.5 540)" stroke="#000" stroke-width="0.14">140</text>
<text x="318.5" y="540" font-size="4.6" fill="#000" text-anchor="middle" transform="rotate(-90 318.5 540)" stroke="#000" stroke-width="0.14">140</text>
<rect x="306.4" y="499.6" width="10.5" height="5.4" fill="#fff" stroke="none" stroke-width="0.8"/>
<text x="311.9" y="504" font-size="4.8" fill="#222" text-anchor="middle">140</text>
<line x1="642.5" y1="509" x2="642.5" y2="555" stroke="#222" stroke-width="0.8"/>
<circle cx="642.5" cy="555.7" r="6.8" fill="#fff" stroke="#222" stroke-width="0.9"/>
<text x="642.5" y="557.5" font-size="5.0" fill="#000" text-anchor="middle" stroke="#000" stroke-width="0.2">O1</text>
<text x="639.1" y="540" font-size="4.6" fill="#000" text-anchor="middle" transform="rotate(-90 639.1 540)" stroke="#000" stroke-width="0.14">140</text>
<text x="649.1" y="540" font-size="4.6" fill="#000" text-anchor="middle" transform="rotate(-90 649.1 540)" stroke="#000" stroke-width="0.14">140</text>
<rect x="637.0" y="499.6" width="10.5" height="5.4" fill="#fff" stroke="none" stroke-width="0.8"/>
<text x="642.5" y="504" font-size="4.8" fill="#222" text-anchor="middle">140</text>
<line x1="416.4" y1="504.4" x2="416.4" y2="549" stroke="#333" stroke-width="0.7"/>
<circle cx="416.4" cy="555.3" r="6.8" fill="none" stroke="#222" stroke-width="0.9"/>
<text x="416.4" y="557.1" font-size="5.0" fill="#000" text-anchor="middle" stroke="#000" stroke-width="0.2">DW</text>
<text x="414.2" y="540" font-size="4.6" fill="#000" text-anchor="middle" transform="rotate(-90 414.2 540)" stroke="#000" stroke-width="0.14">90</text>
<text x="423.0" y="541" font-size="4.6" fill="#000" text-anchor="middle" transform="rotate(-90 423.0 541)" stroke="#000" stroke-width="0.14">205</text>
<line x1="538.0" y1="504.4" x2="538.0" y2="549" stroke="#333" stroke-width="0.7"/>
<circle cx="538.0" cy="555.3" r="6.8" fill="none" stroke="#222" stroke-width="0.9"/>
<text x="538.0" y="557.1" font-size="5.0" fill="#000" text-anchor="middle" stroke="#000" stroke-width="0.2">DW</text>
<text x="535.8" y="540" font-size="4.6" fill="#000" text-anchor="middle" transform="rotate(-90 535.8 540)" stroke="#000" stroke-width="0.14">90</text>
<text x="544.6" y="541" font-size="4.6" fill="#000" text-anchor="middle" transform="rotate(-90 544.6 541)" stroke="#000" stroke-width="0.14">205</text>
<path d="M447.6,530 V546.6 H477" fill="none" stroke="#222" stroke-width="0.8"/>
<g transform="translate(954.4,0) scale(-1,1)"><path d="M447.6,530 V546.6 H477" fill="none" stroke="#222" stroke-width="0.8"/></g>
<text x="471.5" y="540.2" font-size="6" fill="#1a5e50" text-anchor="middle" stroke="#1a5e50" stroke-width="0.22">PC</text>
<text x="483.5" y="540.2" font-size="6" fill="#1a5e50" text-anchor="middle" stroke="#1a5e50" stroke-width="0.22">PC</text>
<line x1="467.2" y1="540" x2="467.2" y2="557" stroke="#2f6b5e" stroke-width="0.9"/>
<polygon points="467.2,557.4 466.2,553.6 468.2,553.6" fill="#2f6b5e" stroke="none" stroke-width="0.8"/>
<text x="463.4" y="549" font-size="4.6" fill="#1a5e50" text-anchor="middle" transform="rotate(-90 463.4 549)" stroke="#1a5e50" stroke-width="0.22">15</text>
<text x="274.2" y="202.2" font-size="6.4" fill="#e02020" text-anchor="middle" stroke="#e02020" stroke-width="0.25">Rs100</text>
<text x="683.2" y="201.9" font-size="6.4" fill="#e02020" text-anchor="middle" stroke="#e02020" stroke-width="0.25">Rs100</text>
<text x="274.3" y="541.4" font-size="6.4" fill="#e02020" text-anchor="middle" stroke="#e02020" stroke-width="0.25">Rs100</text>
<text x="682.5" y="541.4" font-size="6.4" fill="#e02020" text-anchor="middle" stroke="#e02020" stroke-width="0.25">Rs100</text>
<text x="387.5" y="202.4" font-size="4.6" fill="#e02020" text-anchor="middle" font-weight="bold">W1</text>
<text x="566.6" y="202.4" font-size="4.6" fill="#e02020" text-anchor="middle" font-weight="bold">W1</text>
<text x="351.7" y="538" font-size="4.8" fill="#e02020" text-anchor="middle" font-weight="bold">W1</text>
<text x="612.6" y="538" font-size="4.8" fill="#e02020" text-anchor="middle" font-weight="bold">W1</text>
<text x="380" y="346.6" font-size="4.8" fill="#e02020" text-anchor="middle" font-weight="bold">B1</text>
<text x="574.4" y="346.6" font-size="4.8" fill="#e02020" text-anchor="middle" font-weight="bold">B1</text>
<text x="305.8" y="426.4" font-size="4.8" fill="#e02020" text-anchor="middle" font-weight="bold">G1</text>
<text x="610.5" y="426.4" font-size="4.8" fill="#e02020" text-anchor="middle" font-weight="bold">G1</text>
<text x="399.2" y="337.2" font-size="5.2" fill="#e02020" text-anchor="middle" font-weight="bold">S.1.</text>
<text x="556.2" y="337.2" font-size="5.2" fill="#e02020" text-anchor="middle" font-weight="bold">S.1.</text>
<path d="M405.5,336 H409 L413,347.5 M409.5,343 L414,349 M412,341 L410.5,348" fill="none" stroke="#e02020" stroke-width="0.8"/>
<g transform="translate(954.4,0) scale(-1,1)"><path d="M405.5,336 H409 L413,347.5 M409.5,343 L414,349 M412,341 L410.5,348" fill="none" stroke="#e02020" stroke-width="0.8"/></g>
<text x="409.5" y="419.8" font-size="4.4" fill="#e02020" text-anchor="middle" font-weight="bold">S.1.</text>
<text x="544.9" y="419.8" font-size="4.4" fill="#e02020" text-anchor="middle" font-weight="bold">S.1.</text>
<path d="M419.5,418 L425,428.5 M421,420.5 L427,427" fill="none" stroke="#e02020" stroke-width="0.9"/>
<g transform="translate(954.4,0) scale(-1,1)"><path d="M419.5,418 L425,428.5 M421,420.5 L427,427" fill="none" stroke="#e02020" stroke-width="0.9"/></g>
<text x="431.2" y="535.8" font-size="4.6" fill="#e02020" text-anchor="middle" font-weight="bold">2N/100</text>
<text x="535.7" y="535.8" font-size="4.6" fill="#e02020" text-anchor="middle" font-weight="bold">2N/100</text>
<path d="M418.3,524 V529.5 M418.3,532.5 V534.5" fill="none" stroke="#e02020" stroke-width="1.3"/>
<path d="M522.7,524 V529.5 M522.7,532.5 V534.5" fill="none" stroke="#e02020" stroke-width="1.3"/>
<rect x="258.1" y="204.2" width="3.6" height="2.6" fill="#777" stroke="#333" stroke-width="0.4"/>
<rect x="692.5" y="204.2" width="3.6" height="2.6" fill="#777" stroke="#333" stroke-width="0.4"/>
<rect x="258.5" y="530" width="3.6" height="2.4" fill="#777" stroke="#333" stroke-width="0.4"/>
<path d="M258.90000000000003,532.4 L260.3,534.6 L261.7,532.4 Z" fill="#777" stroke="#333" stroke-width="0.3"/>
<rect x="692.1" y="530" width="3.6" height="2.4" fill="#777" stroke="#333" stroke-width="0.4"/>
<path d="M692.5,532.4 L693.9,534.6 L695.3,532.4 Z" fill="#777" stroke="#333" stroke-width="0.3"/>
</g>
</svg>
</body></html>
